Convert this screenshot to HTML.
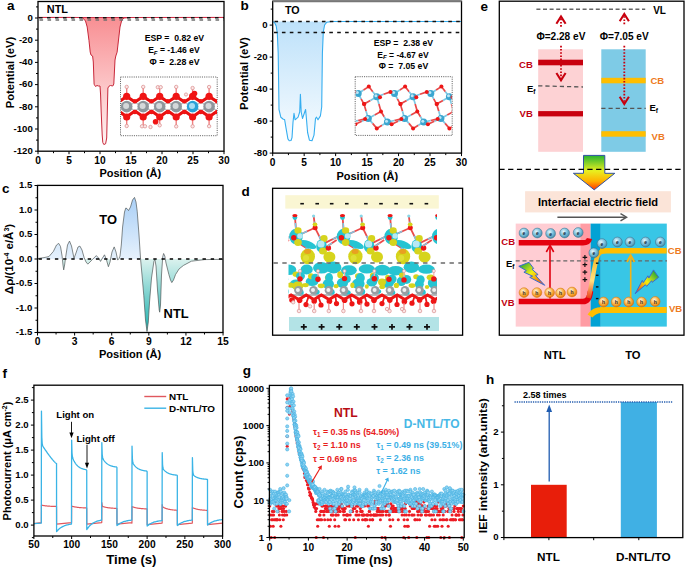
<!DOCTYPE html>
<html><head><meta charset="utf-8"><style>
html,body{margin:0;padding:0;background:#fff;}
svg{display:block;font-family:"Liberation Sans",sans-serif;}
text{font-family:"Liberation Sans",sans-serif;}
</style></head><body>
<svg width="685" height="567" viewBox="0 0 685 567">
<defs><linearGradient id="ga" x1="0" y1="18" x2="0" y2="145" gradientUnits="userSpaceOnUse"><stop offset="0" stop-color="#f88f93"/><stop offset="1" stop-color="#fff4f4"/></linearGradient><clipPath id="clipa"><rect x="121" y="78" width="96" height="57"/></clipPath><linearGradient id="gb" x1="0" y1="22" x2="0" y2="141" gradientUnits="userSpaceOnUse"><stop offset="0" stop-color="#bde1fa"/><stop offset="1" stop-color="#f8fcff"/></linearGradient><clipPath id="clipb"><rect x="355.7" y="77.2" width="96" height="57.7"/></clipPath><linearGradient id="gcp" x1="0" y1="197" x2="0" y2="259" gradientUnits="userSpaceOnUse"><stop offset="0" stop-color="#a9cff6"/><stop offset="1" stop-color="#e6f1fc"/></linearGradient><linearGradient id="gcn" x1="0" y1="259" x2="0" y2="332" gradientUnits="userSpaceOnUse"><stop offset="0" stop-color="#dcf2ee"/><stop offset="1" stop-color="#17b0ad"/></linearGradient><clipPath id="cpos"><rect x="37" y="185" width="187" height="74"/></clipPath><clipPath id="cneg"><rect x="37" y="259" width="187" height="75"/></clipPath><clipPath id="clipd"><rect x="288.5" y="212" width="148.5" height="104"/></clipPath><filter id="soft" x="-5%" y="-5%" width="110%" height="110%"><feGaussianBlur stdDeviation="0.45"/></filter><linearGradient id="garrow" x1="0" y1="155" x2="0" y2="190" gradientUnits="userSpaceOnUse"><stop offset="0" stop-color="#20b030"/><stop offset="0.45" stop-color="#e8f020"/><stop offset="0.75" stop-color="#ffb000"/><stop offset="1" stop-color="#ff3000"/></linearGradient><linearGradient id="gbend" x1="0" y1="300" x2="0" y2="252" gradientUnits="userSpaceOnUse"><stop offset="0" stop-color="#e83010"/><stop offset="0.4" stop-color="#ffe080"/><stop offset="1" stop-color="#f5b313"/></linearGradient><radialGradient id="gel" cx="0.4" cy="0.35" r="0.7"><stop offset="0" stop-color="#e8f6fb"/><stop offset="0.45" stop-color="#86c8e2"/><stop offset="1" stop-color="#3a86a6"/></radialGradient><radialGradient id="gho" cx="0.4" cy="0.35" r="0.7"><stop offset="0" stop-color="#fff6e0"/><stop offset="0.55" stop-color="#f8b040"/><stop offset="1" stop-color="#e07000"/></radialGradient><linearGradient id="gbolt1" x1="522" y1="263" x2="540" y2="283" gradientUnits="userSpaceOnUse"><stop offset="0" stop-color="#28a838"/><stop offset="0.5" stop-color="#f4f010"/><stop offset="1" stop-color="#f06010"/></linearGradient><linearGradient id="gbolt2" x1="656" y1="273" x2="638" y2="290" gradientUnits="userSpaceOnUse"><stop offset="0" stop-color="#28a838"/><stop offset="0.5" stop-color="#f4f010"/><stop offset="1" stop-color="#f06010"/></linearGradient></defs>
<rect width="685" height="567" fill="#fff"/>
<path d="M38.00,17.40 L70.00,17.40 L80.00,17.50 L82.70,17.90 L85.50,21.00 L87.20,27.00 L89.00,40.70 L90.20,52.00 L91.00,55.00 L92.60,56.00 L93.30,62.00 L94.10,84.20 L95.50,86.50 L97.00,85.50 L98.50,86.00 L100.00,86.00 L100.60,95.00 L101.20,112.00 L102.20,135.00 L102.80,142.50 L103.80,144.50 L105.60,143.80 L106.70,138.00 L107.30,112.00 L107.90,88.00 L109.00,86.20 L110.50,85.50 L112.80,86.00 L113.80,84.00 L115.00,60.00 L115.80,56.00 L117.10,52.20 L118.50,40.00 L120.00,27.00 L121.80,20.00 L124.00,18.00 L130.00,17.50 L224.00,17.40 Z" fill="url(#ga)" stroke="none" stroke-width="1" />
<path d="M38.00,17.40 L70.00,17.40 L80.00,17.50 L82.70,17.90 L85.50,21.00 L87.20,27.00 L89.00,40.70 L90.20,52.00 L91.00,55.00 L92.60,56.00 L93.30,62.00 L94.10,84.20 L95.50,86.50 L97.00,85.50 L98.50,86.00 L100.00,86.00 L100.60,95.00 L101.20,112.00 L102.20,135.00 L102.80,142.50 L103.80,144.50 L105.60,143.80 L106.70,138.00 L107.30,112.00 L107.90,88.00 L109.00,86.20 L110.50,85.50 L112.80,86.00 L113.80,84.00 L115.00,60.00 L115.80,56.00 L117.10,52.20 L118.50,40.00 L120.00,27.00 L121.80,20.00 L124.00,18.00 L130.00,17.50 L224.00,17.40" fill="none" stroke="#c8283a" stroke-width="1.0" stroke-linejoin="round"/>
<line x1="38.00" y1="17.50" x2="224.00" y2="17.50" stroke="#d03048" stroke-width="1.1" />
<line x1="39.00" y1="17.70" x2="224.00" y2="17.70" stroke="#111" stroke-width="1.5" stroke-dasharray="3.6,4.4"/>
<line x1="39.50" y1="20.00" x2="224.00" y2="20.00" stroke="#6e6e6e" stroke-width="1.6" stroke-dasharray="3.6,4.4"/>
<rect x="38.00" y="1.50" width="186.00" height="149.70" fill="none" stroke="#000" stroke-width="1.3"/>
<line x1="35.00" y1="18.00" x2="38.00" y2="18.00" stroke="#000" stroke-width="1.0" />
<text x="32.80" y="20.80" font-size="9.6" text-anchor="end" font-weight="bold" fill="#000" >0</text>
<line x1="35.00" y1="40.20" x2="38.00" y2="40.20" stroke="#000" stroke-width="1.0" />
<text x="32.80" y="43.00" font-size="9.6" text-anchor="end" font-weight="bold" fill="#000" >-20</text>
<line x1="35.00" y1="62.40" x2="38.00" y2="62.40" stroke="#000" stroke-width="1.0" />
<text x="32.80" y="65.20" font-size="9.6" text-anchor="end" font-weight="bold" fill="#000" >-40</text>
<line x1="35.00" y1="84.60" x2="38.00" y2="84.60" stroke="#000" stroke-width="1.0" />
<text x="32.80" y="87.40" font-size="9.6" text-anchor="end" font-weight="bold" fill="#000" >-60</text>
<line x1="35.00" y1="106.80" x2="38.00" y2="106.80" stroke="#000" stroke-width="1.0" />
<text x="32.80" y="109.60" font-size="9.6" text-anchor="end" font-weight="bold" fill="#000" >-80</text>
<line x1="35.00" y1="129.00" x2="38.00" y2="129.00" stroke="#000" stroke-width="1.0" />
<text x="32.80" y="131.80" font-size="9.6" text-anchor="end" font-weight="bold" fill="#000" >-100</text>
<line x1="35.00" y1="151.20" x2="38.00" y2="151.20" stroke="#000" stroke-width="1.0" />
<text x="32.80" y="154.00" font-size="9.6" text-anchor="end" font-weight="bold" fill="#000" >-120</text>
<line x1="36.00" y1="6.90" x2="38.00" y2="6.90" stroke="#000" stroke-width="1.0" />
<line x1="36.00" y1="29.10" x2="38.00" y2="29.10" stroke="#000" stroke-width="1.0" />
<line x1="36.00" y1="51.30" x2="38.00" y2="51.30" stroke="#000" stroke-width="1.0" />
<line x1="36.00" y1="73.50" x2="38.00" y2="73.50" stroke="#000" stroke-width="1.0" />
<line x1="36.00" y1="95.70" x2="38.00" y2="95.70" stroke="#000" stroke-width="1.0" />
<line x1="36.00" y1="117.90" x2="38.00" y2="117.90" stroke="#000" stroke-width="1.0" />
<line x1="36.00" y1="140.10" x2="38.00" y2="140.10" stroke="#000" stroke-width="1.0" />
<line x1="38.00" y1="151.20" x2="38.00" y2="154.20" stroke="#000" stroke-width="1.0" />
<text x="38.00" y="163.80" font-size="10.2" text-anchor="middle" font-weight="bold" fill="#000" >0</text>
<line x1="69.00" y1="151.20" x2="69.00" y2="154.20" stroke="#000" stroke-width="1.0" />
<text x="69.00" y="163.80" font-size="10.2" text-anchor="middle" font-weight="bold" fill="#000" >5</text>
<line x1="100.00" y1="151.20" x2="100.00" y2="154.20" stroke="#000" stroke-width="1.0" />
<text x="100.00" y="163.80" font-size="10.2" text-anchor="middle" font-weight="bold" fill="#000" >10</text>
<line x1="131.00" y1="151.20" x2="131.00" y2="154.20" stroke="#000" stroke-width="1.0" />
<text x="131.00" y="163.80" font-size="10.2" text-anchor="middle" font-weight="bold" fill="#000" >15</text>
<line x1="162.00" y1="151.20" x2="162.00" y2="154.20" stroke="#000" stroke-width="1.0" />
<text x="162.00" y="163.80" font-size="10.2" text-anchor="middle" font-weight="bold" fill="#000" >20</text>
<line x1="193.00" y1="151.20" x2="193.00" y2="154.20" stroke="#000" stroke-width="1.0" />
<text x="193.00" y="163.80" font-size="10.2" text-anchor="middle" font-weight="bold" fill="#000" >25</text>
<line x1="224.00" y1="151.20" x2="224.00" y2="154.20" stroke="#000" stroke-width="1.0" />
<text x="224.00" y="163.80" font-size="10.2" text-anchor="middle" font-weight="bold" fill="#000" >30</text>
<line x1="53.50" y1="151.20" x2="53.50" y2="153.20" stroke="#000" stroke-width="1.0" />
<line x1="84.50" y1="151.20" x2="84.50" y2="153.20" stroke="#000" stroke-width="1.0" />
<line x1="115.50" y1="151.20" x2="115.50" y2="153.20" stroke="#000" stroke-width="1.0" />
<line x1="146.50" y1="151.20" x2="146.50" y2="153.20" stroke="#000" stroke-width="1.0" />
<line x1="177.50" y1="151.20" x2="177.50" y2="153.20" stroke="#000" stroke-width="1.0" />
<line x1="208.50" y1="151.20" x2="208.50" y2="153.20" stroke="#000" stroke-width="1.0" />
<text x="7.10" y="10.30" font-size="13.5" text-anchor="start" font-weight="bold" fill="#000" >a</text>
<text x="46.80" y="12.70" font-size="10.9" text-anchor="start" font-weight="bold" fill="#000" >NTL</text>
<text x="174.40" y="41.00" font-size="8.5" text-anchor="middle" font-weight="bold" textLength="59.5" lengthAdjust="spacingAndGlyphs">ESP =  0.82 eV</text>
<text x="173.90" y="53.20" font-size="8.5" text-anchor="middle" font-weight="bold" textLength="51.5" lengthAdjust="spacingAndGlyphs">E<tspan font-size="6" dy="1.6" font-style="italic">F</tspan><tspan dy="-1.6"> = -1.46 eV</tspan></text>
<text x="174.50" y="65.30" font-size="8.5" text-anchor="middle" font-weight="bold" textLength="50" lengthAdjust="spacingAndGlyphs">Φ =  2.28 eV</text>
<text x="13.90" y="72.50" font-size="11.2" text-anchor="middle" font-weight="bold" transform="rotate(-90 13.90 72.50)">Potential (eV)</text>
<text x="130.30" y="177.00" font-size="11.0" text-anchor="middle" font-weight="bold" fill="#000" >Position (Å)</text>
<rect x="120.5" y="77" width="96.7" height="58.7" fill="none" stroke="#666" stroke-width="1" stroke-dasharray="1.1,1.1"/>
<g clip-path="url(#clipa)"><path d="M110.20,96.50 L118.45,102.00 L126.70,96.50 L134.95,102.00 L143.20,96.50 L151.45,102.00 L159.70,96.50 L167.95,102.00 L176.20,96.50 L184.45,102.00 L192.70,96.50 L200.95,102.00 L209.20,96.50 L217.45,102.00 L225.70,96.50 L233.95,102.00 L242.20,96.50 L250.45,102.00" fill="none" stroke="#e81010" stroke-width="3.2" stroke-linejoin="round"/><path d="M110.20,116.70 L118.45,111.00 L126.70,116.70 L134.95,111.00 L143.20,116.70 L151.45,111.00 L159.70,116.70 L167.95,111.00 L176.20,116.70 L184.45,111.00 L192.70,116.70 L200.95,111.00 L209.20,116.70 L217.45,111.00 L225.70,116.70 L233.95,111.00 L242.20,116.70 L250.45,111.00" fill="none" stroke="#e81010" stroke-width="3.2" stroke-linejoin="round"/><path d="M120,104 H218 M120,109 H218" stroke="#a8acb0" stroke-width="1.6"/><circle cx="118.5" cy="106.6" r="3.0" fill="#ffffff"/><circle cx="134.9" cy="106.6" r="3.0" fill="#ffffff"/><circle cx="151.4" cy="106.6" r="3.0" fill="#ffffff"/><circle cx="167.9" cy="106.6" r="3.0" fill="#ffffff"/><circle cx="184.4" cy="106.6" r="3.0" fill="#ffffff"/><circle cx="200.9" cy="106.6" r="3.0" fill="#ffffff"/><circle cx="217.4" cy="106.6" r="3.0" fill="#ffffff"/><circle cx="233.9" cy="106.6" r="3.0" fill="#ffffff"/><line x1="126.7" y1="87" x2="126.7" y2="96" stroke="#f08080" stroke-width="1.4"/><line x1="126.7" y1="117" x2="126.7" y2="126" stroke="#f08080" stroke-width="1.4"/><line x1="143.2" y1="87" x2="143.2" y2="96" stroke="#f08080" stroke-width="1.4"/><line x1="143.2" y1="117" x2="143.2" y2="126" stroke="#f08080" stroke-width="1.4"/><line x1="159.7" y1="87" x2="159.7" y2="96" stroke="#f08080" stroke-width="1.4"/><line x1="159.7" y1="117" x2="159.7" y2="126" stroke="#f08080" stroke-width="1.4"/><line x1="176.2" y1="87" x2="176.2" y2="96" stroke="#f08080" stroke-width="1.4"/><line x1="176.2" y1="117" x2="176.2" y2="126" stroke="#f08080" stroke-width="1.4"/><line x1="192.6" y1="87" x2="192.6" y2="96" stroke="#f08080" stroke-width="1.4"/><line x1="192.6" y1="117" x2="192.6" y2="126" stroke="#f08080" stroke-width="1.4"/><line x1="209.1" y1="87" x2="209.1" y2="96" stroke="#f08080" stroke-width="1.4"/><line x1="209.1" y1="117" x2="209.1" y2="126" stroke="#f08080" stroke-width="1.4"/><circle cx="126.7" cy="86.9" r="1.7" fill="#fbe8e8" stroke="#d88888" stroke-width="0.7"/><circle cx="143.2" cy="86.9" r="1.7" fill="#fbe8e8" stroke="#d88888" stroke-width="0.7"/><circle cx="157.8" cy="87.2" r="1.7" fill="#fbe8e8" stroke="#d88888" stroke-width="0.7"/><circle cx="160.7" cy="87.2" r="1.7" fill="#fbe8e8" stroke="#d88888" stroke-width="0.7"/><circle cx="176.2" cy="86.9" r="1.7" fill="#fbe8e8" stroke="#d88888" stroke-width="0.7"/><circle cx="192.6" cy="88" r="1.7" fill="#fbe8e8" stroke="#d88888" stroke-width="0.7"/><circle cx="209.1" cy="87" r="1.7" fill="#fbe8e8" stroke="#d88888" stroke-width="0.7"/><circle cx="126.7" cy="126" r="1.7" fill="#fbe8e8" stroke="#d88888" stroke-width="0.7"/><circle cx="142" cy="126.3" r="1.7" fill="#fbe8e8" stroke="#d88888" stroke-width="0.7"/><circle cx="145" cy="126.3" r="1.7" fill="#fbe8e8" stroke="#d88888" stroke-width="0.7"/><circle cx="150.5" cy="127" r="1.7" fill="#fbe8e8" stroke="#d88888" stroke-width="0.7"/><circle cx="159.7" cy="125.3" r="1.7" fill="#fbe8e8" stroke="#d88888" stroke-width="0.7"/><circle cx="176.2" cy="126.4" r="1.7" fill="#fbe8e8" stroke="#d88888" stroke-width="0.7"/><circle cx="192.6" cy="126.3" r="1.7" fill="#fbe8e8" stroke="#d88888" stroke-width="0.7"/><circle cx="209.1" cy="126.2" r="1.7" fill="#fbe8e8" stroke="#d88888" stroke-width="0.7"/><circle cx="126.7" cy="96.3" r="3.6" fill="#f01414"/><circle cx="126.7" cy="117.0" r="3.6" fill="#f01414"/><circle cx="134.9" cy="101.2" r="2.3" fill="#f01414"/><circle cx="134.9" cy="112.0" r="2.3" fill="#f01414"/><circle cx="143.2" cy="96.3" r="3.6" fill="#f01414"/><circle cx="143.2" cy="117.0" r="3.6" fill="#f01414"/><circle cx="151.4" cy="101.2" r="2.3" fill="#f01414"/><circle cx="151.4" cy="112.0" r="2.3" fill="#f01414"/><circle cx="159.7" cy="96.3" r="3.6" fill="#f01414"/><circle cx="159.7" cy="117.0" r="3.6" fill="#f01414"/><circle cx="167.9" cy="101.2" r="2.3" fill="#f01414"/><circle cx="167.9" cy="112.0" r="2.3" fill="#f01414"/><circle cx="176.2" cy="96.3" r="3.6" fill="#f01414"/><circle cx="176.2" cy="117.0" r="3.6" fill="#f01414"/><circle cx="184.4" cy="101.2" r="2.3" fill="#f01414"/><circle cx="184.4" cy="112.0" r="2.3" fill="#f01414"/><circle cx="192.6" cy="96.3" r="3.6" fill="#f01414"/><circle cx="192.6" cy="117.0" r="3.6" fill="#f01414"/><circle cx="200.8" cy="101.2" r="2.3" fill="#f01414"/><circle cx="200.8" cy="112.0" r="2.3" fill="#f01414"/><circle cx="209.1" cy="96.3" r="3.6" fill="#f01414"/><circle cx="209.1" cy="117.0" r="3.6" fill="#f01414"/><circle cx="217.3" cy="101.2" r="2.3" fill="#f01414"/><circle cx="217.3" cy="112.0" r="2.3" fill="#f01414"/><circle cx="155.6" cy="121.8" r="2.8" fill="#f01414"/><circle cx="194.5" cy="93.5" r="2.8" fill="#f01414"/><circle cx="186" cy="94.5" r="1.6" fill="#fbe8e8" stroke="#d88888" stroke-width="0.7"/><circle cx="126.7" cy="106.6" r="5.8" fill="#8f969c"/><circle cx="126.10000000000001" cy="105.9" r="3.0" fill="#e6e8ea" opacity="0.8"/><circle cx="143.2" cy="106.6" r="5.8" fill="#8f969c"/><circle cx="142.6" cy="105.9" r="3.0" fill="#e6e8ea" opacity="0.8"/><circle cx="159.7" cy="106.6" r="5.8" fill="#8f969c"/><circle cx="159.1" cy="105.9" r="3.0" fill="#e6e8ea" opacity="0.8"/><circle cx="176.2" cy="106.6" r="5.8" fill="#8f969c"/><circle cx="175.6" cy="105.9" r="3.0" fill="#e6e8ea" opacity="0.8"/><circle cx="192.6" cy="106.6" r="5.8" fill="#2aa2d8"/><circle cx="192.0" cy="105.9" r="3.0" fill="#c8ecfb" opacity="0.8"/><circle cx="209.1" cy="106.6" r="5.8" fill="#8f969c"/><circle cx="208.5" cy="105.9" r="3.0" fill="#e6e8ea" opacity="0.8"/></g>
<path d="M272.70,21.50 L274.50,22.60 L276.20,26.00 L277.30,33.00 L278.20,53.30 L279.00,109.50 L280.80,117.20 L283.30,119.20 L284.60,119.50 L285.90,127.40 L287.90,138.90 L289.20,140.70 L291.00,140.50 L292.00,137.60 L293.00,122.30 L294.00,113.40 L295.10,119.80 L298.10,117.20 L299.70,112.00 L300.40,94.20 L301.20,112.00 L302.50,118.50 L305.60,109.50 L306.30,117.20 L307.60,132.50 L309.40,140.20 L312.00,140.70 L314.00,135.10 L315.50,118.50 L316.50,117.20 L318.00,119.80 L320.40,115.90 L321.70,107.00 L322.40,53.30 L323.30,32.00 L324.60,25.00 L326.80,22.20 L332.00,21.50 L461.50,21.50 Z" fill="url(#gb)" stroke="none" stroke-width="1" />
<path d="M272.70,21.50 L274.50,22.60 L276.20,26.00 L277.30,33.00 L278.20,53.30 L279.00,109.50 L280.80,117.20 L283.30,119.20 L284.60,119.50 L285.90,127.40 L287.90,138.90 L289.20,140.70 L291.00,140.50 L292.00,137.60 L293.00,122.30 L294.00,113.40 L295.10,119.80 L298.10,117.20 L299.70,112.00 L300.40,94.20 L301.20,112.00 L302.50,118.50 L305.60,109.50 L306.30,117.20 L307.60,132.50 L309.40,140.20 L312.00,140.70 L314.00,135.10 L315.50,118.50 L316.50,117.20 L318.00,119.80 L320.40,115.90 L321.70,107.00 L322.40,53.30 L323.30,32.00 L324.60,25.00 L326.80,22.20 L332.00,21.50 L461.50,21.50" fill="none" stroke="#36aef0" stroke-width="1.1" stroke-linejoin="round"/>
<line x1="274.50" y1="21.50" x2="461.50" y2="21.50" stroke="#111" stroke-width="1.4" stroke-dasharray="3.6,4.3"/>
<line x1="274.00" y1="32.50" x2="461.50" y2="32.50" stroke="#111" stroke-width="1.4" stroke-dasharray="3.6,4.3"/>
<rect x="272.70" y="1.30" width="188.80" height="151.80" fill="none" stroke="#000" stroke-width="1.3"/>
<line x1="272.70" y1="1.30" x2="461.50" y2="1.30" stroke="#777" stroke-width="2.0" />
<line x1="269.70" y1="25.10" x2="272.70" y2="25.10" stroke="#000" stroke-width="1.0" />
<text x="267.50" y="27.90" font-size="9.6" text-anchor="end" font-weight="bold" fill="#000" >0</text>
<line x1="269.70" y1="57.10" x2="272.70" y2="57.10" stroke="#000" stroke-width="1.0" />
<text x="267.50" y="59.90" font-size="9.6" text-anchor="end" font-weight="bold" fill="#000" >-20</text>
<line x1="269.70" y1="89.10" x2="272.70" y2="89.10" stroke="#000" stroke-width="1.0" />
<text x="267.50" y="91.90" font-size="9.6" text-anchor="end" font-weight="bold" fill="#000" >-40</text>
<line x1="269.70" y1="121.10" x2="272.70" y2="121.10" stroke="#000" stroke-width="1.0" />
<text x="267.50" y="123.90" font-size="9.6" text-anchor="end" font-weight="bold" fill="#000" >-60</text>
<line x1="269.70" y1="153.10" x2="272.70" y2="153.10" stroke="#000" stroke-width="1.0" />
<text x="267.50" y="155.90" font-size="9.6" text-anchor="end" font-weight="bold" fill="#000" >-80</text>
<line x1="270.70" y1="9.10" x2="272.70" y2="9.10" stroke="#000" stroke-width="1.0" />
<line x1="270.70" y1="41.10" x2="272.70" y2="41.10" stroke="#000" stroke-width="1.0" />
<line x1="270.70" y1="73.10" x2="272.70" y2="73.10" stroke="#000" stroke-width="1.0" />
<line x1="270.70" y1="105.10" x2="272.70" y2="105.10" stroke="#000" stroke-width="1.0" />
<line x1="270.70" y1="137.10" x2="272.70" y2="137.10" stroke="#000" stroke-width="1.0" />
<line x1="272.70" y1="153.10" x2="272.70" y2="156.10" stroke="#000" stroke-width="1.0" />
<text x="272.70" y="165.70" font-size="10.2" text-anchor="middle" font-weight="bold" fill="#000" >0</text>
<line x1="304.16" y1="153.10" x2="304.16" y2="156.10" stroke="#000" stroke-width="1.0" />
<text x="304.16" y="165.70" font-size="10.2" text-anchor="middle" font-weight="bold" fill="#000" >5</text>
<line x1="335.63" y1="153.10" x2="335.63" y2="156.10" stroke="#000" stroke-width="1.0" />
<text x="335.63" y="165.70" font-size="10.2" text-anchor="middle" font-weight="bold" fill="#000" >10</text>
<line x1="367.09" y1="153.10" x2="367.09" y2="156.10" stroke="#000" stroke-width="1.0" />
<text x="367.09" y="165.70" font-size="10.2" text-anchor="middle" font-weight="bold" fill="#000" >15</text>
<line x1="398.56" y1="153.10" x2="398.56" y2="156.10" stroke="#000" stroke-width="1.0" />
<text x="398.56" y="165.70" font-size="10.2" text-anchor="middle" font-weight="bold" fill="#000" >20</text>
<line x1="430.02" y1="153.10" x2="430.02" y2="156.10" stroke="#000" stroke-width="1.0" />
<text x="430.02" y="165.70" font-size="10.2" text-anchor="middle" font-weight="bold" fill="#000" >25</text>
<line x1="461.49" y1="153.10" x2="461.49" y2="156.10" stroke="#000" stroke-width="1.0" />
<text x="461.49" y="165.70" font-size="10.2" text-anchor="middle" font-weight="bold" fill="#000" >30</text>
<line x1="288.43" y1="153.10" x2="288.43" y2="155.10" stroke="#000" stroke-width="1.0" />
<line x1="319.90" y1="153.10" x2="319.90" y2="155.10" stroke="#000" stroke-width="1.0" />
<line x1="351.36" y1="153.10" x2="351.36" y2="155.10" stroke="#000" stroke-width="1.0" />
<line x1="382.83" y1="153.10" x2="382.83" y2="155.10" stroke="#000" stroke-width="1.0" />
<line x1="414.29" y1="153.10" x2="414.29" y2="155.10" stroke="#000" stroke-width="1.0" />
<line x1="445.76" y1="153.10" x2="445.76" y2="155.10" stroke="#000" stroke-width="1.0" />
<text x="240.50" y="9.90" font-size="13.5" text-anchor="start" font-weight="bold" fill="#000" >b</text>
<text x="285.00" y="14.00" font-size="10.7" text-anchor="start" font-weight="bold" fill="#000" >TO</text>
<text x="403.40" y="45.50" font-size="8.4" text-anchor="middle" font-weight="bold" textLength="59.5" lengthAdjust="spacingAndGlyphs">ESP =  2.38 eV</text>
<text x="403.00" y="57.80" font-size="8.4" text-anchor="middle" font-weight="bold" textLength="51.3" lengthAdjust="spacingAndGlyphs">E<tspan font-size="6" dy="1.6" font-style="italic">F</tspan><tspan dy="-1.6"> = -4.67 eV</tspan></text>
<text x="403.50" y="69.30" font-size="8.4" text-anchor="middle" font-weight="bold" textLength="49.6" lengthAdjust="spacingAndGlyphs">Φ =  7.05 eV</text>
<text x="248.50" y="73.60" font-size="11.4" text-anchor="middle" font-weight="bold" transform="rotate(-90 248.50 73.60)">Potential (eV)</text>
<text x="367.30" y="179.70" font-size="11.0" text-anchor="middle" font-weight="bold" fill="#000" >Position (Å)</text>
<rect x="355.2" y="76.7" width="97" height="58.7" fill="none" stroke="#666" stroke-width="1" stroke-dasharray="1.1,1.1"/>
<g clip-path="url(#clipb)"><line x1="321.9" y1="93.5" x2="327.2" y2="90.0" stroke="#7cc8e4" stroke-width="1.7"/><line x1="327.2" y1="90.0" x2="332.5" y2="86.6" stroke="#e84848" stroke-width="1.7"/><line x1="332.5" y1="86.6" x2="336.5" y2="91.7" stroke="#e84848" stroke-width="1.7"/><line x1="336.5" y1="91.7" x2="340.5" y2="96.7" stroke="#7cc8e4" stroke-width="1.7"/><line x1="340.5" y1="96.7" x2="347.4" y2="94.3" stroke="#7cc8e4" stroke-width="1.7"/><line x1="347.4" y1="94.3" x2="354.2" y2="91.9" stroke="#e84848" stroke-width="1.7"/><line x1="321.9" y1="93.5" x2="324.8" y2="98.8" stroke="#7cc8e4" stroke-width="1.7"/><line x1="324.8" y1="98.8" x2="327.7" y2="104.1" stroke="#e84848" stroke-width="1.7"/><line x1="327.7" y1="104.1" x2="334.1" y2="100.4" stroke="#e84848" stroke-width="1.7"/><line x1="334.1" y1="100.4" x2="340.5" y2="96.7" stroke="#7cc8e4" stroke-width="1.7"/><line x1="327.7" y1="104.1" x2="329.9" y2="111.2" stroke="#e84848" stroke-width="1.7"/><line x1="329.9" y1="111.2" x2="332.0" y2="118.4" stroke="#7cc8e4" stroke-width="1.7"/><line x1="340.5" y1="96.7" x2="342.6" y2="104.1" stroke="#7cc8e4" stroke-width="1.7"/><line x1="342.6" y1="104.1" x2="344.7" y2="111.5" stroke="#e84848" stroke-width="1.7"/><line x1="344.7" y1="111.5" x2="338.4" y2="115.0" stroke="#e84848" stroke-width="1.7"/><line x1="338.4" y1="115.0" x2="332.0" y2="118.4" stroke="#7cc8e4" stroke-width="1.7"/><line x1="344.7" y1="111.5" x2="347.9" y2="116.8" stroke="#e84848" stroke-width="1.7"/><line x1="347.9" y1="116.8" x2="351.1" y2="122.1" stroke="#7cc8e4" stroke-width="1.7"/><line x1="332.0" y1="118.4" x2="336.2" y2="123.4" stroke="#7cc8e4" stroke-width="1.7"/><line x1="336.2" y1="123.4" x2="340.5" y2="128.4" stroke="#e84848" stroke-width="1.7"/><line x1="340.5" y1="128.4" x2="345.8" y2="125.2" stroke="#e84848" stroke-width="1.7"/><line x1="345.8" y1="125.2" x2="351.1" y2="122.1" stroke="#7cc8e4" stroke-width="1.7"/><line x1="351.1" y1="122.1" x2="353.2" y2="123.2" stroke="#7cc8e4" stroke-width="1.7"/><line x1="353.2" y1="123.2" x2="355.3" y2="124.2" stroke="#e84848" stroke-width="1.7"/><line x1="355.3" y1="124.2" x2="361.8" y2="121.3" stroke="#e84848" stroke-width="1.7"/><line x1="361.8" y1="121.3" x2="368.3" y2="118.4" stroke="#7cc8e4" stroke-width="1.7"/><line x1="332.0" y1="118.4" x2="330.4" y2="118.7" stroke="#7cc8e4" stroke-width="1.7"/><line x1="330.4" y1="118.7" x2="328.8" y2="118.9" stroke="#e84848" stroke-width="1.7"/><line x1="328.8" y1="118.9" x2="321.8" y2="120.5" stroke="#e84848" stroke-width="1.7"/><line x1="321.8" y1="120.5" x2="314.8" y2="122.1" stroke="#7cc8e4" stroke-width="1.7"/><line x1="358.2" y1="93.5" x2="363.5" y2="90.0" stroke="#7cc8e4" stroke-width="1.7"/><line x1="363.5" y1="90.0" x2="368.8" y2="86.6" stroke="#e84848" stroke-width="1.7"/><line x1="368.8" y1="86.6" x2="372.8" y2="91.7" stroke="#e84848" stroke-width="1.7"/><line x1="372.8" y1="91.7" x2="376.8" y2="96.7" stroke="#7cc8e4" stroke-width="1.7"/><line x1="376.8" y1="96.7" x2="383.6" y2="94.3" stroke="#7cc8e4" stroke-width="1.7"/><line x1="383.6" y1="94.3" x2="390.5" y2="91.9" stroke="#e84848" stroke-width="1.7"/><line x1="358.2" y1="93.5" x2="361.1" y2="98.8" stroke="#7cc8e4" stroke-width="1.7"/><line x1="361.1" y1="98.8" x2="364.0" y2="104.1" stroke="#e84848" stroke-width="1.7"/><line x1="364.0" y1="104.1" x2="370.4" y2="100.4" stroke="#e84848" stroke-width="1.7"/><line x1="370.4" y1="100.4" x2="376.8" y2="96.7" stroke="#7cc8e4" stroke-width="1.7"/><line x1="364.0" y1="104.1" x2="366.1" y2="111.2" stroke="#e84848" stroke-width="1.7"/><line x1="366.1" y1="111.2" x2="368.3" y2="118.4" stroke="#7cc8e4" stroke-width="1.7"/><line x1="376.8" y1="96.7" x2="378.9" y2="104.1" stroke="#7cc8e4" stroke-width="1.7"/><line x1="378.9" y1="104.1" x2="381.0" y2="111.5" stroke="#e84848" stroke-width="1.7"/><line x1="381.0" y1="111.5" x2="374.6" y2="115.0" stroke="#e84848" stroke-width="1.7"/><line x1="374.6" y1="115.0" x2="368.3" y2="118.4" stroke="#7cc8e4" stroke-width="1.7"/><line x1="381.0" y1="111.5" x2="384.2" y2="116.8" stroke="#e84848" stroke-width="1.7"/><line x1="384.2" y1="116.8" x2="387.4" y2="122.1" stroke="#7cc8e4" stroke-width="1.7"/><line x1="368.3" y1="118.4" x2="372.6" y2="123.4" stroke="#7cc8e4" stroke-width="1.7"/><line x1="372.6" y1="123.4" x2="376.8" y2="128.4" stroke="#e84848" stroke-width="1.7"/><line x1="376.8" y1="128.4" x2="382.1" y2="125.2" stroke="#e84848" stroke-width="1.7"/><line x1="382.1" y1="125.2" x2="387.4" y2="122.1" stroke="#7cc8e4" stroke-width="1.7"/><line x1="387.4" y1="122.1" x2="389.5" y2="123.2" stroke="#7cc8e4" stroke-width="1.7"/><line x1="389.5" y1="123.2" x2="391.6" y2="124.2" stroke="#e84848" stroke-width="1.7"/><line x1="391.6" y1="124.2" x2="398.1" y2="121.3" stroke="#e84848" stroke-width="1.7"/><line x1="398.1" y1="121.3" x2="404.6" y2="118.4" stroke="#7cc8e4" stroke-width="1.7"/><line x1="368.3" y1="118.4" x2="366.7" y2="118.7" stroke="#7cc8e4" stroke-width="1.7"/><line x1="366.7" y1="118.7" x2="365.1" y2="118.9" stroke="#e84848" stroke-width="1.7"/><line x1="365.1" y1="118.9" x2="358.1" y2="120.5" stroke="#e84848" stroke-width="1.7"/><line x1="358.1" y1="120.5" x2="351.1" y2="122.1" stroke="#7cc8e4" stroke-width="1.7"/><line x1="394.5" y1="93.5" x2="399.8" y2="90.0" stroke="#7cc8e4" stroke-width="1.7"/><line x1="399.8" y1="90.0" x2="405.1" y2="86.6" stroke="#e84848" stroke-width="1.7"/><line x1="405.1" y1="86.6" x2="409.1" y2="91.7" stroke="#e84848" stroke-width="1.7"/><line x1="409.1" y1="91.7" x2="413.1" y2="96.7" stroke="#7cc8e4" stroke-width="1.7"/><line x1="413.1" y1="96.7" x2="420.0" y2="94.3" stroke="#7cc8e4" stroke-width="1.7"/><line x1="420.0" y1="94.3" x2="426.8" y2="91.9" stroke="#e84848" stroke-width="1.7"/><line x1="394.5" y1="93.5" x2="397.4" y2="98.8" stroke="#7cc8e4" stroke-width="1.7"/><line x1="397.4" y1="98.8" x2="400.3" y2="104.1" stroke="#e84848" stroke-width="1.7"/><line x1="400.3" y1="104.1" x2="406.7" y2="100.4" stroke="#e84848" stroke-width="1.7"/><line x1="406.7" y1="100.4" x2="413.1" y2="96.7" stroke="#7cc8e4" stroke-width="1.7"/><line x1="400.3" y1="104.1" x2="402.5" y2="111.2" stroke="#e84848" stroke-width="1.7"/><line x1="402.5" y1="111.2" x2="404.6" y2="118.4" stroke="#7cc8e4" stroke-width="1.7"/><line x1="413.1" y1="96.7" x2="415.2" y2="104.1" stroke="#7cc8e4" stroke-width="1.7"/><line x1="415.2" y1="104.1" x2="417.3" y2="111.5" stroke="#e84848" stroke-width="1.7"/><line x1="417.3" y1="111.5" x2="411.0" y2="115.0" stroke="#e84848" stroke-width="1.7"/><line x1="411.0" y1="115.0" x2="404.6" y2="118.4" stroke="#7cc8e4" stroke-width="1.7"/><line x1="417.3" y1="111.5" x2="420.5" y2="116.8" stroke="#e84848" stroke-width="1.7"/><line x1="420.5" y1="116.8" x2="423.7" y2="122.1" stroke="#7cc8e4" stroke-width="1.7"/><line x1="404.6" y1="118.4" x2="408.9" y2="123.4" stroke="#7cc8e4" stroke-width="1.7"/><line x1="408.9" y1="123.4" x2="413.1" y2="128.4" stroke="#e84848" stroke-width="1.7"/><line x1="413.1" y1="128.4" x2="418.4" y2="125.2" stroke="#e84848" stroke-width="1.7"/><line x1="418.4" y1="125.2" x2="423.7" y2="122.1" stroke="#7cc8e4" stroke-width="1.7"/><line x1="423.7" y1="122.1" x2="425.8" y2="123.2" stroke="#7cc8e4" stroke-width="1.7"/><line x1="425.8" y1="123.2" x2="427.9" y2="124.2" stroke="#e84848" stroke-width="1.7"/><line x1="427.9" y1="124.2" x2="434.4" y2="121.3" stroke="#e84848" stroke-width="1.7"/><line x1="434.4" y1="121.3" x2="440.9" y2="118.4" stroke="#7cc8e4" stroke-width="1.7"/><line x1="404.6" y1="118.4" x2="403.0" y2="118.7" stroke="#7cc8e4" stroke-width="1.7"/><line x1="403.0" y1="118.7" x2="401.4" y2="118.9" stroke="#e84848" stroke-width="1.7"/><line x1="401.4" y1="118.9" x2="394.4" y2="120.5" stroke="#e84848" stroke-width="1.7"/><line x1="394.4" y1="120.5" x2="387.4" y2="122.1" stroke="#7cc8e4" stroke-width="1.7"/><line x1="430.8" y1="93.5" x2="436.1" y2="90.0" stroke="#7cc8e4" stroke-width="1.7"/><line x1="436.1" y1="90.0" x2="441.4" y2="86.6" stroke="#e84848" stroke-width="1.7"/><line x1="441.4" y1="86.6" x2="445.4" y2="91.7" stroke="#e84848" stroke-width="1.7"/><line x1="445.4" y1="91.7" x2="449.4" y2="96.7" stroke="#7cc8e4" stroke-width="1.7"/><line x1="449.4" y1="96.7" x2="456.2" y2="94.3" stroke="#7cc8e4" stroke-width="1.7"/><line x1="456.2" y1="94.3" x2="463.1" y2="91.9" stroke="#e84848" stroke-width="1.7"/><line x1="430.8" y1="93.5" x2="433.7" y2="98.8" stroke="#7cc8e4" stroke-width="1.7"/><line x1="433.7" y1="98.8" x2="436.6" y2="104.1" stroke="#e84848" stroke-width="1.7"/><line x1="436.6" y1="104.1" x2="443.0" y2="100.4" stroke="#e84848" stroke-width="1.7"/><line x1="443.0" y1="100.4" x2="449.4" y2="96.7" stroke="#7cc8e4" stroke-width="1.7"/><line x1="436.6" y1="104.1" x2="438.8" y2="111.2" stroke="#e84848" stroke-width="1.7"/><line x1="438.8" y1="111.2" x2="440.9" y2="118.4" stroke="#7cc8e4" stroke-width="1.7"/><line x1="449.4" y1="96.7" x2="451.5" y2="104.1" stroke="#7cc8e4" stroke-width="1.7"/><line x1="451.5" y1="104.1" x2="453.6" y2="111.5" stroke="#e84848" stroke-width="1.7"/><line x1="453.6" y1="111.5" x2="447.2" y2="115.0" stroke="#e84848" stroke-width="1.7"/><line x1="447.2" y1="115.0" x2="440.9" y2="118.4" stroke="#7cc8e4" stroke-width="1.7"/><line x1="453.6" y1="111.5" x2="456.8" y2="116.8" stroke="#e84848" stroke-width="1.7"/><line x1="456.8" y1="116.8" x2="460.0" y2="122.1" stroke="#7cc8e4" stroke-width="1.7"/><line x1="440.9" y1="118.4" x2="445.1" y2="123.4" stroke="#7cc8e4" stroke-width="1.7"/><line x1="445.1" y1="123.4" x2="449.4" y2="128.4" stroke="#e84848" stroke-width="1.7"/><line x1="449.4" y1="128.4" x2="454.7" y2="125.2" stroke="#e84848" stroke-width="1.7"/><line x1="454.7" y1="125.2" x2="460.0" y2="122.1" stroke="#7cc8e4" stroke-width="1.7"/><line x1="460.0" y1="122.1" x2="462.1" y2="123.2" stroke="#7cc8e4" stroke-width="1.7"/><line x1="462.1" y1="123.2" x2="464.2" y2="124.2" stroke="#e84848" stroke-width="1.7"/><line x1="464.2" y1="124.2" x2="470.7" y2="121.3" stroke="#e84848" stroke-width="1.7"/><line x1="470.7" y1="121.3" x2="477.2" y2="118.4" stroke="#7cc8e4" stroke-width="1.7"/><line x1="440.9" y1="118.4" x2="439.3" y2="118.7" stroke="#7cc8e4" stroke-width="1.7"/><line x1="439.3" y1="118.7" x2="437.7" y2="118.9" stroke="#e84848" stroke-width="1.7"/><line x1="437.7" y1="118.9" x2="430.7" y2="120.5" stroke="#e84848" stroke-width="1.7"/><line x1="430.7" y1="120.5" x2="423.7" y2="122.1" stroke="#7cc8e4" stroke-width="1.7"/><line x1="467.1" y1="93.5" x2="472.4" y2="90.0" stroke="#7cc8e4" stroke-width="1.7"/><line x1="472.4" y1="90.0" x2="477.7" y2="86.6" stroke="#e84848" stroke-width="1.7"/><line x1="477.7" y1="86.6" x2="481.7" y2="91.7" stroke="#e84848" stroke-width="1.7"/><line x1="481.7" y1="91.7" x2="485.7" y2="96.7" stroke="#7cc8e4" stroke-width="1.7"/><line x1="485.7" y1="96.7" x2="492.5" y2="94.3" stroke="#7cc8e4" stroke-width="1.7"/><line x1="492.5" y1="94.3" x2="499.4" y2="91.9" stroke="#e84848" stroke-width="1.7"/><line x1="467.1" y1="93.5" x2="470.0" y2="98.8" stroke="#7cc8e4" stroke-width="1.7"/><line x1="470.0" y1="98.8" x2="472.9" y2="104.1" stroke="#e84848" stroke-width="1.7"/><line x1="472.9" y1="104.1" x2="479.3" y2="100.4" stroke="#e84848" stroke-width="1.7"/><line x1="479.3" y1="100.4" x2="485.7" y2="96.7" stroke="#7cc8e4" stroke-width="1.7"/><line x1="472.9" y1="104.1" x2="475.0" y2="111.2" stroke="#e84848" stroke-width="1.7"/><line x1="475.0" y1="111.2" x2="477.2" y2="118.4" stroke="#7cc8e4" stroke-width="1.7"/><line x1="485.7" y1="96.7" x2="487.8" y2="104.1" stroke="#7cc8e4" stroke-width="1.7"/><line x1="487.8" y1="104.1" x2="489.9" y2="111.5" stroke="#e84848" stroke-width="1.7"/><line x1="489.9" y1="111.5" x2="483.5" y2="115.0" stroke="#e84848" stroke-width="1.7"/><line x1="483.5" y1="115.0" x2="477.2" y2="118.4" stroke="#7cc8e4" stroke-width="1.7"/><line x1="489.9" y1="111.5" x2="493.1" y2="116.8" stroke="#e84848" stroke-width="1.7"/><line x1="493.1" y1="116.8" x2="496.3" y2="122.1" stroke="#7cc8e4" stroke-width="1.7"/><line x1="477.2" y1="118.4" x2="481.4" y2="123.4" stroke="#7cc8e4" stroke-width="1.7"/><line x1="481.4" y1="123.4" x2="485.7" y2="128.4" stroke="#e84848" stroke-width="1.7"/><line x1="485.7" y1="128.4" x2="491.0" y2="125.2" stroke="#e84848" stroke-width="1.7"/><line x1="491.0" y1="125.2" x2="496.3" y2="122.1" stroke="#7cc8e4" stroke-width="1.7"/><line x1="496.3" y1="122.1" x2="498.4" y2="123.2" stroke="#7cc8e4" stroke-width="1.7"/><line x1="498.4" y1="123.2" x2="500.5" y2="124.2" stroke="#e84848" stroke-width="1.7"/><line x1="500.5" y1="124.2" x2="507.0" y2="121.3" stroke="#e84848" stroke-width="1.7"/><line x1="507.0" y1="121.3" x2="513.5" y2="118.4" stroke="#7cc8e4" stroke-width="1.7"/><line x1="477.2" y1="118.4" x2="475.6" y2="118.7" stroke="#7cc8e4" stroke-width="1.7"/><line x1="475.6" y1="118.7" x2="474.0" y2="118.9" stroke="#e84848" stroke-width="1.7"/><line x1="474.0" y1="118.9" x2="467.0" y2="120.5" stroke="#e84848" stroke-width="1.7"/><line x1="467.0" y1="120.5" x2="460.0" y2="122.1" stroke="#7cc8e4" stroke-width="1.7"/><circle cx="321.9" cy="93.5" r="3.5" fill="#3ba6d0"/><circle cx="321.0" cy="92.6" r="1.5" fill="#bde6f6"/><circle cx="340.5" cy="96.7" r="3.5" fill="#3ba6d0"/><circle cx="339.6" cy="95.8" r="1.5" fill="#bde6f6"/><circle cx="332.0" cy="118.4" r="3.5" fill="#3ba6d0"/><circle cx="331.1" cy="117.5" r="1.5" fill="#bde6f6"/><circle cx="351.1" cy="122.1" r="3.5" fill="#3ba6d0"/><circle cx="350.2" cy="121.19999999999999" r="1.5" fill="#bde6f6"/><circle cx="332.5" cy="86.6" r="2.0" fill="#ee1616"/><circle cx="343.7" cy="97.2" r="2.0" fill="#ee1616"/><circle cx="317.9" cy="91.9" r="2.0" fill="#ee1616"/><circle cx="327.7" cy="104.1" r="2.0" fill="#ee1616"/><circle cx="344.7" cy="111.5" r="2.0" fill="#ee1616"/><circle cx="328.8" cy="118.9" r="2.0" fill="#ee1616"/><circle cx="340.5" cy="128.4" r="2.0" fill="#ee1616"/><circle cx="319.0" cy="124.2" r="2.0" fill="#ee1616"/><circle cx="328.0" cy="104.1" r="2.0" fill="#ee1616"/><circle cx="358.2" cy="93.5" r="3.5" fill="#3ba6d0"/><circle cx="357.3" cy="92.6" r="1.5" fill="#bde6f6"/><circle cx="376.8" cy="96.7" r="3.5" fill="#3ba6d0"/><circle cx="375.9" cy="95.8" r="1.5" fill="#bde6f6"/><circle cx="368.3" cy="118.4" r="3.5" fill="#3ba6d0"/><circle cx="367.4" cy="117.5" r="1.5" fill="#bde6f6"/><circle cx="387.4" cy="122.1" r="3.5" fill="#3ba6d0"/><circle cx="386.5" cy="121.19999999999999" r="1.5" fill="#bde6f6"/><circle cx="368.8" cy="86.6" r="2.0" fill="#ee1616"/><circle cx="380.0" cy="97.2" r="2.0" fill="#ee1616"/><circle cx="354.2" cy="91.9" r="2.0" fill="#ee1616"/><circle cx="364.0" cy="104.1" r="2.0" fill="#ee1616"/><circle cx="381.0" cy="111.5" r="2.0" fill="#ee1616"/><circle cx="365.1" cy="118.9" r="2.0" fill="#ee1616"/><circle cx="376.8" cy="128.4" r="2.0" fill="#ee1616"/><circle cx="355.3" cy="124.2" r="2.0" fill="#ee1616"/><circle cx="364.3" cy="104.1" r="2.0" fill="#ee1616"/><circle cx="394.5" cy="93.5" r="3.5" fill="#3ba6d0"/><circle cx="393.6" cy="92.6" r="1.5" fill="#bde6f6"/><circle cx="413.1" cy="96.7" r="3.5" fill="#3ba6d0"/><circle cx="412.2" cy="95.8" r="1.5" fill="#bde6f6"/><circle cx="404.6" cy="118.4" r="3.5" fill="#3ba6d0"/><circle cx="403.7" cy="117.5" r="1.5" fill="#bde6f6"/><circle cx="423.7" cy="122.1" r="3.5" fill="#3ba6d0"/><circle cx="422.8" cy="121.19999999999999" r="1.5" fill="#bde6f6"/><circle cx="405.1" cy="86.6" r="2.0" fill="#ee1616"/><circle cx="416.3" cy="97.2" r="2.0" fill="#ee1616"/><circle cx="390.5" cy="91.9" r="2.0" fill="#ee1616"/><circle cx="400.3" cy="104.1" r="2.0" fill="#ee1616"/><circle cx="417.3" cy="111.5" r="2.0" fill="#ee1616"/><circle cx="401.4" cy="118.9" r="2.0" fill="#ee1616"/><circle cx="413.1" cy="128.4" r="2.0" fill="#ee1616"/><circle cx="391.6" cy="124.2" r="2.0" fill="#ee1616"/><circle cx="400.6" cy="104.1" r="2.0" fill="#ee1616"/><circle cx="430.8" cy="93.5" r="3.5" fill="#3ba6d0"/><circle cx="429.9" cy="92.6" r="1.5" fill="#bde6f6"/><circle cx="449.4" cy="96.7" r="3.5" fill="#3ba6d0"/><circle cx="448.5" cy="95.8" r="1.5" fill="#bde6f6"/><circle cx="440.9" cy="118.4" r="3.5" fill="#3ba6d0"/><circle cx="440.0" cy="117.5" r="1.5" fill="#bde6f6"/><circle cx="460.0" cy="122.1" r="3.5" fill="#3ba6d0"/><circle cx="459.1" cy="121.19999999999999" r="1.5" fill="#bde6f6"/><circle cx="441.4" cy="86.6" r="2.0" fill="#ee1616"/><circle cx="452.6" cy="97.2" r="2.0" fill="#ee1616"/><circle cx="426.8" cy="91.9" r="2.0" fill="#ee1616"/><circle cx="436.6" cy="104.1" r="2.0" fill="#ee1616"/><circle cx="453.6" cy="111.5" r="2.0" fill="#ee1616"/><circle cx="437.7" cy="118.9" r="2.0" fill="#ee1616"/><circle cx="449.4" cy="128.4" r="2.0" fill="#ee1616"/><circle cx="427.9" cy="124.2" r="2.0" fill="#ee1616"/><circle cx="436.9" cy="104.1" r="2.0" fill="#ee1616"/><circle cx="467.1" cy="93.5" r="3.5" fill="#3ba6d0"/><circle cx="466.2" cy="92.6" r="1.5" fill="#bde6f6"/><circle cx="485.7" cy="96.7" r="3.5" fill="#3ba6d0"/><circle cx="484.8" cy="95.8" r="1.5" fill="#bde6f6"/><circle cx="477.2" cy="118.4" r="3.5" fill="#3ba6d0"/><circle cx="476.3" cy="117.5" r="1.5" fill="#bde6f6"/><circle cx="496.3" cy="122.1" r="3.5" fill="#3ba6d0"/><circle cx="495.4" cy="121.19999999999999" r="1.5" fill="#bde6f6"/><circle cx="477.7" cy="86.6" r="2.0" fill="#ee1616"/><circle cx="488.9" cy="97.2" r="2.0" fill="#ee1616"/><circle cx="463.1" cy="91.9" r="2.0" fill="#ee1616"/><circle cx="472.9" cy="104.1" r="2.0" fill="#ee1616"/><circle cx="489.9" cy="111.5" r="2.0" fill="#ee1616"/><circle cx="474.0" cy="118.9" r="2.0" fill="#ee1616"/><circle cx="485.7" cy="128.4" r="2.0" fill="#ee1616"/><circle cx="464.2" cy="124.2" r="2.0" fill="#ee1616"/><circle cx="473.2" cy="104.1" r="2.0" fill="#ee1616"/></g>
<path d="M37.50,258.60 L44.00,257.60 L48.90,256.60 L53.40,251.40 L56.50,245.00 L58.70,243.40 L60.50,246.50 L62.10,256.10 L63.00,265.00 L63.70,269.90 L64.60,265.00 L65.60,257.50 L67.50,245.00 L69.50,241.10 L71.50,246.00 L74.00,258.30 L76.00,253.00 L78.00,247.00 L79.90,246.10 L82.00,250.00 L84.10,257.50 L86.00,262.00 L87.80,264.10 L90.00,262.00 L92.60,259.30 L96.30,255.60 L98.50,258.00 L100.50,261.40 L102.50,258.00 L104.50,254.80 L106.50,260.00 L108.40,266.70 L110.00,262.00 L112.00,252.00 L114.20,246.90 L116.00,252.00 L117.70,260.10 L119.00,258.50 L120.00,256.10 L121.30,245.00 L122.60,227.00 L124.50,212.00 L125.80,208.00 L127.00,208.60 L128.50,210.60 L130.50,207.00 L132.50,200.00 L134.50,197.40 L136.00,202.00 L137.20,211.20 L139.00,235.00 L140.60,259.30 L142.20,277.00 L143.80,295.80 L145.50,320.00 L147.00,331.50 L148.30,322.00 L149.60,301.00 L151.50,278.00 L153.90,261.40 L154.90,259.30 L156.00,266.00 L157.50,290.00 L159.20,310.00 L159.70,312.20 L160.50,305.00 L161.50,275.00 L162.70,257.00 L163.60,253.50 L164.80,256.00 L166.00,263.00 L168.90,274.60 L170.50,280.00 L171.80,282.60 L173.50,280.00 L175.50,274.60 L179.00,269.00 L183.50,265.40 L191.40,261.20 L204.60,259.60 L223.00,259.30 L223,259 L37.5,259 Z" fill="url(#gcp)" stroke="none" stroke-width="1" clip-path="url(#cpos)"/>
<path d="M37.50,258.60 L44.00,257.60 L48.90,256.60 L53.40,251.40 L56.50,245.00 L58.70,243.40 L60.50,246.50 L62.10,256.10 L63.00,265.00 L63.70,269.90 L64.60,265.00 L65.60,257.50 L67.50,245.00 L69.50,241.10 L71.50,246.00 L74.00,258.30 L76.00,253.00 L78.00,247.00 L79.90,246.10 L82.00,250.00 L84.10,257.50 L86.00,262.00 L87.80,264.10 L90.00,262.00 L92.60,259.30 L96.30,255.60 L98.50,258.00 L100.50,261.40 L102.50,258.00 L104.50,254.80 L106.50,260.00 L108.40,266.70 L110.00,262.00 L112.00,252.00 L114.20,246.90 L116.00,252.00 L117.70,260.10 L119.00,258.50 L120.00,256.10 L121.30,245.00 L122.60,227.00 L124.50,212.00 L125.80,208.00 L127.00,208.60 L128.50,210.60 L130.50,207.00 L132.50,200.00 L134.50,197.40 L136.00,202.00 L137.20,211.20 L139.00,235.00 L140.60,259.30 L142.20,277.00 L143.80,295.80 L145.50,320.00 L147.00,331.50 L148.30,322.00 L149.60,301.00 L151.50,278.00 L153.90,261.40 L154.90,259.30 L156.00,266.00 L157.50,290.00 L159.20,310.00 L159.70,312.20 L160.50,305.00 L161.50,275.00 L162.70,257.00 L163.60,253.50 L164.80,256.00 L166.00,263.00 L168.90,274.60 L170.50,280.00 L171.80,282.60 L173.50,280.00 L175.50,274.60 L179.00,269.00 L183.50,265.40 L191.40,261.20 L204.60,259.60 L223.00,259.30 L223,259 L37.5,259 Z" fill="url(#gcn)" stroke="none" stroke-width="1" clip-path="url(#cneg)"/>
<path d="M37.50,258.60 L44.00,257.60 L48.90,256.60 L53.40,251.40 L56.50,245.00 L58.70,243.40 L60.50,246.50 L62.10,256.10 L63.00,265.00 L63.70,269.90 L64.60,265.00 L65.60,257.50 L67.50,245.00 L69.50,241.10 L71.50,246.00 L74.00,258.30 L76.00,253.00 L78.00,247.00 L79.90,246.10 L82.00,250.00 L84.10,257.50 L86.00,262.00 L87.80,264.10 L90.00,262.00 L92.60,259.30 L96.30,255.60 L98.50,258.00 L100.50,261.40 L102.50,258.00 L104.50,254.80 L106.50,260.00 L108.40,266.70 L110.00,262.00 L112.00,252.00 L114.20,246.90 L116.00,252.00 L117.70,260.10 L119.00,258.50 L120.00,256.10 L121.30,245.00 L122.60,227.00 L124.50,212.00 L125.80,208.00 L127.00,208.60 L128.50,210.60 L130.50,207.00 L132.50,200.00 L134.50,197.40 L136.00,202.00 L137.20,211.20 L139.00,235.00 L140.60,259.30 L142.20,277.00 L143.80,295.80 L145.50,320.00 L147.00,331.50 L148.30,322.00 L149.60,301.00 L151.50,278.00 L153.90,261.40 L154.90,259.30 L156.00,266.00 L157.50,290.00 L159.20,310.00 L159.70,312.20 L160.50,305.00 L161.50,275.00 L162.70,257.00 L163.60,253.50 L164.80,256.00 L166.00,263.00 L168.90,274.60 L170.50,280.00 L171.80,282.60 L173.50,280.00 L175.50,274.60 L179.00,269.00 L183.50,265.40 L191.40,261.20 L204.60,259.60 L223.00,259.30" fill="none" stroke="#505858" stroke-width="0.7" stroke-linejoin="round"/>
<line x1="38.50" y1="259.00" x2="223.00" y2="259.00" stroke="#000" stroke-width="1.5" stroke-dasharray="3.4,4.8"/>
<rect x="37.50" y="185.40" width="185.50" height="147.10" fill="none" stroke="#000" stroke-width="1.3"/>
<line x1="34.50" y1="185.50" x2="37.50" y2="185.50" stroke="#000" stroke-width="1.0" />
<text x="32.30" y="188.30" font-size="9.6" text-anchor="end" font-weight="bold" fill="#000" >1.5</text>
<line x1="34.50" y1="210.00" x2="37.50" y2="210.00" stroke="#000" stroke-width="1.0" />
<text x="32.30" y="212.80" font-size="9.6" text-anchor="end" font-weight="bold" fill="#000" >1.0</text>
<line x1="34.50" y1="234.50" x2="37.50" y2="234.50" stroke="#000" stroke-width="1.0" />
<text x="32.30" y="237.30" font-size="9.6" text-anchor="end" font-weight="bold" fill="#000" >0.5</text>
<line x1="34.50" y1="259.00" x2="37.50" y2="259.00" stroke="#000" stroke-width="1.0" />
<text x="32.30" y="261.80" font-size="9.6" text-anchor="end" font-weight="bold" fill="#000" >0.0</text>
<line x1="34.50" y1="283.50" x2="37.50" y2="283.50" stroke="#000" stroke-width="1.0" />
<text x="32.30" y="286.30" font-size="9.6" text-anchor="end" font-weight="bold" fill="#000" >-0.5</text>
<line x1="34.50" y1="308.00" x2="37.50" y2="308.00" stroke="#000" stroke-width="1.0" />
<text x="32.30" y="310.80" font-size="9.6" text-anchor="end" font-weight="bold" fill="#000" >-1.0</text>
<line x1="34.50" y1="332.50" x2="37.50" y2="332.50" stroke="#000" stroke-width="1.0" />
<text x="32.30" y="335.30" font-size="9.6" text-anchor="end" font-weight="bold" fill="#000" >-1.5</text>
<line x1="35.50" y1="197.75" x2="37.50" y2="197.75" stroke="#000" stroke-width="1.0" />
<line x1="35.50" y1="222.25" x2="37.50" y2="222.25" stroke="#000" stroke-width="1.0" />
<line x1="35.50" y1="246.75" x2="37.50" y2="246.75" stroke="#000" stroke-width="1.0" />
<line x1="35.50" y1="271.25" x2="37.50" y2="271.25" stroke="#000" stroke-width="1.0" />
<line x1="35.50" y1="295.75" x2="37.50" y2="295.75" stroke="#000" stroke-width="1.0" />
<line x1="35.50" y1="320.25" x2="37.50" y2="320.25" stroke="#000" stroke-width="1.0" />
<line x1="37.50" y1="332.50" x2="37.50" y2="335.50" stroke="#000" stroke-width="1.0" />
<text x="37.50" y="344.90" font-size="10.3" text-anchor="middle" font-weight="bold" fill="#000" >0</text>
<line x1="74.61" y1="332.50" x2="74.61" y2="335.50" stroke="#000" stroke-width="1.0" />
<text x="74.61" y="344.90" font-size="10.3" text-anchor="middle" font-weight="bold" fill="#000" >3</text>
<line x1="111.72" y1="332.50" x2="111.72" y2="335.50" stroke="#000" stroke-width="1.0" />
<text x="111.72" y="344.90" font-size="10.3" text-anchor="middle" font-weight="bold" fill="#000" >6</text>
<line x1="148.83" y1="332.50" x2="148.83" y2="335.50" stroke="#000" stroke-width="1.0" />
<text x="148.83" y="344.90" font-size="10.3" text-anchor="middle" font-weight="bold" fill="#000" >9</text>
<line x1="185.94" y1="332.50" x2="185.94" y2="335.50" stroke="#000" stroke-width="1.0" />
<text x="185.94" y="344.90" font-size="10.3" text-anchor="middle" font-weight="bold" fill="#000" >12</text>
<line x1="223.05" y1="332.50" x2="223.05" y2="335.50" stroke="#000" stroke-width="1.0" />
<text x="223.05" y="344.90" font-size="10.3" text-anchor="middle" font-weight="bold" fill="#000" >15</text>
<line x1="56.05" y1="332.50" x2="56.05" y2="334.50" stroke="#000" stroke-width="1.0" />
<line x1="93.16" y1="332.50" x2="93.16" y2="334.50" stroke="#000" stroke-width="1.0" />
<line x1="130.27" y1="332.50" x2="130.27" y2="334.50" stroke="#000" stroke-width="1.0" />
<line x1="167.38" y1="332.50" x2="167.38" y2="334.50" stroke="#000" stroke-width="1.0" />
<line x1="204.49" y1="332.50" x2="204.49" y2="334.50" stroke="#000" stroke-width="1.0" />
<text x="2.10" y="192.70" font-size="13.5" text-anchor="start" font-weight="bold" fill="#000" >c</text>
<text x="99.30" y="224.10" font-size="12.9" text-anchor="start" font-weight="bold" fill="#000" >TO</text>
<text x="163.60" y="318.30" font-size="12.9" text-anchor="start" font-weight="bold" fill="#000" >NTL</text>
<text x="12.60" y="259.00" font-size="11.5" text-anchor="middle" font-weight="bold" transform="rotate(-90 12.60 259.00)">Δρ/(10<tspan font-size="7" dy="-4">-4</tspan><tspan dy="4"> e/Å</tspan><tspan font-size="7" dy="-4">3</tspan><tspan dy="4">)</tspan></text>
<text x="130.00" y="357.60" font-size="11.1" text-anchor="middle" font-weight="bold" fill="#000" >Position (Å)</text>
<text x="241.60" y="195.50" font-size="13.5" text-anchor="start" font-weight="bold" fill="#000" >d</text>
<rect x="285.3" y="195.2" width="153.5" height="13.4" fill="#faf6d3"/>
<rect x="300.3" y="202.9" width="3.6" height="1.6" fill="#111"/>
<rect x="315.4" y="202.9" width="3.6" height="1.6" fill="#111"/>
<rect x="329.9" y="202.9" width="3.6" height="1.6" fill="#111"/>
<rect x="345.0" y="202.9" width="3.6" height="1.6" fill="#111"/>
<rect x="364.09999999999997" y="202.9" width="3.6" height="1.6" fill="#111"/>
<rect x="379.2" y="202.9" width="3.6" height="1.6" fill="#111"/>
<rect x="394.3" y="202.9" width="3.6" height="1.6" fill="#111"/>
<rect x="409.5" y="202.9" width="3.6" height="1.6" fill="#111"/>
<rect x="424.59999999999997" y="202.9" width="3.6" height="1.6" fill="#111"/>
<rect x="289" y="317" width="150" height="14" fill="#b3e3e6"/>
<path d="M300.8,326.8 H306.8 M303.8,323.9 V329.7" stroke="#111" stroke-width="1.7"/>
<path d="M318.6,326.8 H324.6 M321.6,323.9 V329.7" stroke="#111" stroke-width="1.7"/>
<path d="M336.3,326.8 H342.3 M339.3,323.9 V329.7" stroke="#111" stroke-width="1.7"/>
<path d="M353.8,326.8 H359.8 M356.8,323.9 V329.7" stroke="#111" stroke-width="1.7"/>
<path d="M371.5,326.8 H377.5 M374.5,323.9 V329.7" stroke="#111" stroke-width="1.7"/>
<path d="M389.0,326.8 H395.0 M392.0,323.9 V329.7" stroke="#111" stroke-width="1.7"/>
<path d="M406.5,326.8 H412.5 M409.5,323.9 V329.7" stroke="#111" stroke-width="1.7"/>
<path d="M424.0,326.8 H430.0 M427.0,323.9 V329.7" stroke="#111" stroke-width="1.7"/>
<g clip-path="url(#clipd)"><g filter="url(#soft)"><line x1="247.3" y1="216" x2="248.4" y2="230" stroke="#ec4a4a" stroke-width="1.8"/><line x1="247.8" y1="223.0" x2="248.4" y2="230" stroke="#7cc8e4" stroke-width="1.5"/><line x1="266.0" y1="215.5" x2="267.5" y2="227.8" stroke="#ec4a4a" stroke-width="1.8"/><line x1="266.8" y1="221.65" x2="267.5" y2="227.8" stroke="#7cc8e4" stroke-width="1.5"/><line x1="267.5" y1="227.8" x2="251.4" y2="235" stroke="#ec4a4a" stroke-width="1.8"/><line x1="259.4" y1="231.4" x2="251.4" y2="235" stroke="#7cc8e4" stroke-width="1.5"/><line x1="267.5" y1="227.8" x2="275.4" y2="243.9" stroke="#ec4a4a" stroke-width="1.8"/><line x1="271.4" y1="235.85000000000002" x2="275.4" y2="243.9" stroke="#7cc8e4" stroke-width="1.5"/><line x1="275.4" y1="243.9" x2="294.7" y2="234.5" stroke="#ec4a4a" stroke-width="1.8"/><line x1="285.0" y1="239.2" x2="294.7" y2="234.5" stroke="#7cc8e4" stroke-width="1.5"/><line x1="252.4" y1="244" x2="263.4" y2="251" stroke="#ec4a4a" stroke-width="1.8"/><line x1="257.9" y1="247.5" x2="263.4" y2="251" stroke="#7cc8e4" stroke-width="1.5"/><line x1="241.4" y1="240" x2="232.4" y2="246" stroke="#ec4a4a" stroke-width="1.8"/><line x1="236.9" y1="243.0" x2="232.4" y2="246" stroke="#7cc8e4" stroke-width="1.5"/><circle cx="247.3" cy="217.5" r="2.4" fill="#26c4d2"/><ellipse cx="247.3" cy="215.6" rx="2.6" ry="1.6" fill="#ee1414"/><circle cx="266.0" cy="216" r="1.6" fill="#88d8e8"/><ellipse cx="248.4" cy="236.5" rx="6.8" ry="7.8" fill="#26c4d2"/><ellipse cx="260.4" cy="244.5" rx="8.8" ry="3.4" transform="rotate(22 260.4 244.5)" fill="#26c4d2"/><ellipse cx="250.4" cy="230.5" rx="3.6" ry="3.2" fill="#d6d41e"/><ellipse cx="250.4" cy="242.5" rx="3.8" ry="3.4" fill="#d6d41e"/><circle cx="252.4" cy="236" r="2.8" fill="#b8e8f4"/><circle cx="246.2" cy="237.8" r="2.7" fill="#ee1414"/><circle cx="267.5" cy="227.8" r="2.5" fill="#ee1414"/><ellipse cx="267.4" cy="224.5" rx="2.4" ry="2" fill="#d6d41e"/><ellipse cx="273.9" cy="246" rx="5.3" ry="6.8" fill="#26c4d2"/><ellipse cx="276.4" cy="238.5" rx="3.6" ry="3.4" fill="#d6d41e"/><ellipse cx="275.4" cy="251" rx="4" ry="3.6" fill="#d6d41e"/><circle cx="273.4" cy="244" r="3.6" fill="#b8e8f4"/><circle cx="280.8" cy="248" r="2.7" fill="#ee1414"/><ellipse cx="260.2" cy="256.5" rx="7.2" ry="7.8" fill="#d6d41e"/><ellipse cx="259.9" cy="251.5" rx="3.5" ry="2.5" fill="#e8a020"/><ellipse cx="281.8" cy="257" rx="6" ry="5.6" fill="#d6d41e"/><ellipse cx="258.4" cy="258" rx="3" ry="3" fill="#e4e440" opacity="0.7"/><line x1="294.9" y1="216" x2="296.0" y2="230" stroke="#ec4a4a" stroke-width="1.8"/><line x1="295.4" y1="223.0" x2="296.0" y2="230" stroke="#7cc8e4" stroke-width="1.5"/><line x1="313.6" y1="215.5" x2="315.1" y2="227.8" stroke="#ec4a4a" stroke-width="1.8"/><line x1="314.4" y1="221.65" x2="315.1" y2="227.8" stroke="#7cc8e4" stroke-width="1.5"/><line x1="315.1" y1="227.8" x2="299.0" y2="235" stroke="#ec4a4a" stroke-width="1.8"/><line x1="307.1" y1="231.4" x2="299.0" y2="235" stroke="#7cc8e4" stroke-width="1.5"/><line x1="315.1" y1="227.8" x2="323.0" y2="243.9" stroke="#ec4a4a" stroke-width="1.8"/><line x1="319.1" y1="235.85000000000002" x2="323.0" y2="243.9" stroke="#7cc8e4" stroke-width="1.5"/><line x1="323.0" y1="243.9" x2="342.3" y2="234.5" stroke="#ec4a4a" stroke-width="1.8"/><line x1="332.6" y1="239.2" x2="342.3" y2="234.5" stroke="#7cc8e4" stroke-width="1.5"/><line x1="300.0" y1="244" x2="311.0" y2="251" stroke="#ec4a4a" stroke-width="1.8"/><line x1="305.5" y1="247.5" x2="311.0" y2="251" stroke="#7cc8e4" stroke-width="1.5"/><line x1="289.0" y1="240" x2="280.0" y2="246" stroke="#ec4a4a" stroke-width="1.8"/><line x1="284.5" y1="243.0" x2="280.0" y2="246" stroke="#7cc8e4" stroke-width="1.5"/><circle cx="294.9" cy="217.5" r="2.4" fill="#26c4d2"/><ellipse cx="294.9" cy="215.6" rx="2.6" ry="1.6" fill="#ee1414"/><circle cx="313.6" cy="216" r="1.6" fill="#88d8e8"/><ellipse cx="296.0" cy="236.5" rx="6.8" ry="7.8" fill="#26c4d2"/><ellipse cx="308.0" cy="244.5" rx="8.8" ry="3.4" transform="rotate(22 308.0 244.5)" fill="#26c4d2"/><ellipse cx="298.0" cy="230.5" rx="3.6" ry="3.2" fill="#d6d41e"/><ellipse cx="298.0" cy="242.5" rx="3.8" ry="3.4" fill="#d6d41e"/><circle cx="300.0" cy="236" r="2.8" fill="#b8e8f4"/><circle cx="293.8" cy="237.8" r="2.7" fill="#ee1414"/><circle cx="315.1" cy="227.8" r="2.5" fill="#ee1414"/><ellipse cx="315.0" cy="224.5" rx="2.4" ry="2" fill="#d6d41e"/><ellipse cx="321.5" cy="246" rx="5.3" ry="6.8" fill="#26c4d2"/><ellipse cx="324.0" cy="238.5" rx="3.6" ry="3.4" fill="#d6d41e"/><ellipse cx="323.0" cy="251" rx="4" ry="3.6" fill="#d6d41e"/><circle cx="321.0" cy="244" r="3.6" fill="#b8e8f4"/><circle cx="328.4" cy="248" r="2.7" fill="#ee1414"/><ellipse cx="307.8" cy="256.5" rx="7.2" ry="7.8" fill="#d6d41e"/><ellipse cx="307.5" cy="251.5" rx="3.5" ry="2.5" fill="#e8a020"/><ellipse cx="329.4" cy="257" rx="6" ry="5.6" fill="#d6d41e"/><ellipse cx="306.0" cy="258" rx="3" ry="3" fill="#e4e440" opacity="0.7"/><line x1="342.5" y1="216" x2="343.6" y2="230" stroke="#ec4a4a" stroke-width="1.8"/><line x1="343.1" y1="223.0" x2="343.6" y2="230" stroke="#7cc8e4" stroke-width="1.5"/><line x1="361.2" y1="215.5" x2="362.7" y2="227.8" stroke="#ec4a4a" stroke-width="1.8"/><line x1="362.0" y1="221.65" x2="362.7" y2="227.8" stroke="#7cc8e4" stroke-width="1.5"/><line x1="362.7" y1="227.8" x2="346.6" y2="235" stroke="#ec4a4a" stroke-width="1.8"/><line x1="354.7" y1="231.4" x2="346.6" y2="235" stroke="#7cc8e4" stroke-width="1.5"/><line x1="362.7" y1="227.8" x2="370.6" y2="243.9" stroke="#ec4a4a" stroke-width="1.8"/><line x1="366.7" y1="235.85000000000002" x2="370.6" y2="243.9" stroke="#7cc8e4" stroke-width="1.5"/><line x1="370.6" y1="243.9" x2="389.9" y2="234.5" stroke="#ec4a4a" stroke-width="1.8"/><line x1="380.2" y1="239.2" x2="389.9" y2="234.5" stroke="#7cc8e4" stroke-width="1.5"/><line x1="347.6" y1="244" x2="358.6" y2="251" stroke="#ec4a4a" stroke-width="1.8"/><line x1="353.1" y1="247.5" x2="358.6" y2="251" stroke="#7cc8e4" stroke-width="1.5"/><line x1="336.6" y1="240" x2="327.6" y2="246" stroke="#ec4a4a" stroke-width="1.8"/><line x1="332.1" y1="243.0" x2="327.6" y2="246" stroke="#7cc8e4" stroke-width="1.5"/><circle cx="342.5" cy="217.5" r="2.4" fill="#26c4d2"/><ellipse cx="342.5" cy="215.6" rx="2.6" ry="1.6" fill="#ee1414"/><circle cx="361.2" cy="216" r="1.6" fill="#88d8e8"/><ellipse cx="343.6" cy="236.5" rx="6.8" ry="7.8" fill="#26c4d2"/><ellipse cx="355.6" cy="244.5" rx="8.8" ry="3.4" transform="rotate(22 355.6 244.5)" fill="#26c4d2"/><ellipse cx="345.6" cy="230.5" rx="3.6" ry="3.2" fill="#d6d41e"/><ellipse cx="345.6" cy="242.5" rx="3.8" ry="3.4" fill="#d6d41e"/><circle cx="347.6" cy="236" r="2.8" fill="#b8e8f4"/><circle cx="341.4" cy="237.8" r="2.7" fill="#ee1414"/><circle cx="362.7" cy="227.8" r="2.5" fill="#ee1414"/><ellipse cx="362.6" cy="224.5" rx="2.4" ry="2" fill="#d6d41e"/><ellipse cx="369.1" cy="246" rx="5.3" ry="6.8" fill="#26c4d2"/><ellipse cx="371.6" cy="238.5" rx="3.6" ry="3.4" fill="#d6d41e"/><ellipse cx="370.6" cy="251" rx="4" ry="3.6" fill="#d6d41e"/><circle cx="368.6" cy="244" r="3.6" fill="#b8e8f4"/><circle cx="376.0" cy="248" r="2.7" fill="#ee1414"/><ellipse cx="355.4" cy="256.5" rx="7.2" ry="7.8" fill="#d6d41e"/><ellipse cx="355.1" cy="251.5" rx="3.5" ry="2.5" fill="#e8a020"/><ellipse cx="377.0" cy="257" rx="6" ry="5.6" fill="#d6d41e"/><ellipse cx="353.6" cy="258" rx="3" ry="3" fill="#e4e440" opacity="0.7"/><line x1="390.1" y1="216" x2="391.2" y2="230" stroke="#ec4a4a" stroke-width="1.8"/><line x1="390.6" y1="223.0" x2="391.2" y2="230" stroke="#7cc8e4" stroke-width="1.5"/><line x1="408.8" y1="215.5" x2="410.3" y2="227.8" stroke="#ec4a4a" stroke-width="1.8"/><line x1="409.6" y1="221.65" x2="410.3" y2="227.8" stroke="#7cc8e4" stroke-width="1.5"/><line x1="410.3" y1="227.8" x2="394.2" y2="235" stroke="#ec4a4a" stroke-width="1.8"/><line x1="402.2" y1="231.4" x2="394.2" y2="235" stroke="#7cc8e4" stroke-width="1.5"/><line x1="410.3" y1="227.8" x2="418.2" y2="243.9" stroke="#ec4a4a" stroke-width="1.8"/><line x1="414.2" y1="235.85000000000002" x2="418.2" y2="243.9" stroke="#7cc8e4" stroke-width="1.5"/><line x1="418.2" y1="243.9" x2="437.5" y2="234.5" stroke="#ec4a4a" stroke-width="1.8"/><line x1="427.8" y1="239.2" x2="437.5" y2="234.5" stroke="#7cc8e4" stroke-width="1.5"/><line x1="395.2" y1="244" x2="406.2" y2="251" stroke="#ec4a4a" stroke-width="1.8"/><line x1="400.7" y1="247.5" x2="406.2" y2="251" stroke="#7cc8e4" stroke-width="1.5"/><line x1="384.2" y1="240" x2="375.2" y2="246" stroke="#ec4a4a" stroke-width="1.8"/><line x1="379.7" y1="243.0" x2="375.2" y2="246" stroke="#7cc8e4" stroke-width="1.5"/><circle cx="390.1" cy="217.5" r="2.4" fill="#26c4d2"/><ellipse cx="390.1" cy="215.6" rx="2.6" ry="1.6" fill="#ee1414"/><circle cx="408.8" cy="216" r="1.6" fill="#88d8e8"/><ellipse cx="391.2" cy="236.5" rx="6.8" ry="7.8" fill="#26c4d2"/><ellipse cx="403.2" cy="244.5" rx="8.8" ry="3.4" transform="rotate(22 403.2 244.5)" fill="#26c4d2"/><ellipse cx="393.2" cy="230.5" rx="3.6" ry="3.2" fill="#d6d41e"/><ellipse cx="393.2" cy="242.5" rx="3.8" ry="3.4" fill="#d6d41e"/><circle cx="395.2" cy="236" r="2.8" fill="#b8e8f4"/><circle cx="389.0" cy="237.8" r="2.7" fill="#ee1414"/><circle cx="410.3" cy="227.8" r="2.5" fill="#ee1414"/><ellipse cx="410.2" cy="224.5" rx="2.4" ry="2" fill="#d6d41e"/><ellipse cx="416.7" cy="246" rx="5.3" ry="6.8" fill="#26c4d2"/><ellipse cx="419.2" cy="238.5" rx="3.6" ry="3.4" fill="#d6d41e"/><ellipse cx="418.2" cy="251" rx="4" ry="3.6" fill="#d6d41e"/><circle cx="416.2" cy="244" r="3.6" fill="#b8e8f4"/><circle cx="423.6" cy="248" r="2.7" fill="#ee1414"/><ellipse cx="403.0" cy="256.5" rx="7.2" ry="7.8" fill="#d6d41e"/><ellipse cx="402.7" cy="251.5" rx="3.5" ry="2.5" fill="#e8a020"/><ellipse cx="424.6" cy="257" rx="6" ry="5.6" fill="#d6d41e"/><ellipse cx="401.2" cy="258" rx="3" ry="3" fill="#e4e440" opacity="0.7"/><line x1="437.7" y1="216" x2="438.8" y2="230" stroke="#ec4a4a" stroke-width="1.8"/><line x1="438.2" y1="223.0" x2="438.8" y2="230" stroke="#7cc8e4" stroke-width="1.5"/><line x1="456.4" y1="215.5" x2="457.9" y2="227.8" stroke="#ec4a4a" stroke-width="1.8"/><line x1="457.2" y1="221.65" x2="457.9" y2="227.8" stroke="#7cc8e4" stroke-width="1.5"/><line x1="457.9" y1="227.8" x2="441.8" y2="235" stroke="#ec4a4a" stroke-width="1.8"/><line x1="449.9" y1="231.4" x2="441.8" y2="235" stroke="#7cc8e4" stroke-width="1.5"/><line x1="457.9" y1="227.8" x2="465.8" y2="243.9" stroke="#ec4a4a" stroke-width="1.8"/><line x1="461.9" y1="235.85000000000002" x2="465.8" y2="243.9" stroke="#7cc8e4" stroke-width="1.5"/><line x1="465.8" y1="243.9" x2="485.1" y2="234.5" stroke="#ec4a4a" stroke-width="1.8"/><line x1="475.4" y1="239.2" x2="485.1" y2="234.5" stroke="#7cc8e4" stroke-width="1.5"/><line x1="442.8" y1="244" x2="453.8" y2="251" stroke="#ec4a4a" stroke-width="1.8"/><line x1="448.3" y1="247.5" x2="453.8" y2="251" stroke="#7cc8e4" stroke-width="1.5"/><line x1="431.8" y1="240" x2="422.8" y2="246" stroke="#ec4a4a" stroke-width="1.8"/><line x1="427.3" y1="243.0" x2="422.8" y2="246" stroke="#7cc8e4" stroke-width="1.5"/><circle cx="437.7" cy="217.5" r="2.4" fill="#26c4d2"/><ellipse cx="437.7" cy="215.6" rx="2.6" ry="1.6" fill="#ee1414"/><circle cx="456.4" cy="216" r="1.6" fill="#88d8e8"/><ellipse cx="438.8" cy="236.5" rx="6.8" ry="7.8" fill="#26c4d2"/><ellipse cx="450.8" cy="244.5" rx="8.8" ry="3.4" transform="rotate(22 450.8 244.5)" fill="#26c4d2"/><ellipse cx="440.8" cy="230.5" rx="3.6" ry="3.2" fill="#d6d41e"/><ellipse cx="440.8" cy="242.5" rx="3.8" ry="3.4" fill="#d6d41e"/><circle cx="442.8" cy="236" r="2.8" fill="#b8e8f4"/><circle cx="436.6" cy="237.8" r="2.7" fill="#ee1414"/><circle cx="457.9" cy="227.8" r="2.5" fill="#ee1414"/><ellipse cx="457.8" cy="224.5" rx="2.4" ry="2" fill="#d6d41e"/><ellipse cx="464.3" cy="246" rx="5.3" ry="6.8" fill="#26c4d2"/><ellipse cx="466.8" cy="238.5" rx="3.6" ry="3.4" fill="#d6d41e"/><ellipse cx="465.8" cy="251" rx="4" ry="3.6" fill="#d6d41e"/><circle cx="463.8" cy="244" r="3.6" fill="#b8e8f4"/><circle cx="471.2" cy="248" r="2.7" fill="#ee1414"/><ellipse cx="450.6" cy="256.5" rx="7.2" ry="7.8" fill="#d6d41e"/><ellipse cx="450.3" cy="251.5" rx="3.5" ry="2.5" fill="#e8a020"/><ellipse cx="472.2" cy="257" rx="6" ry="5.6" fill="#d6d41e"/><ellipse cx="448.8" cy="258" rx="3" ry="3" fill="#e4e440" opacity="0.7"/><ellipse cx="288.7" cy="269.8" rx="7.6" ry="5.2" fill="#26c4d2"/><ellipse cx="295.9" cy="284.2" rx="6.1" ry="4.8" fill="#26c4d2"/><ellipse cx="286.0" cy="291.5" rx="3.0" ry="2.9" fill="#26c4d2"/><ellipse cx="296.3" cy="274.3" rx="3.7" ry="2.7" fill="#d6d41e"/><ellipse cx="290.5" cy="285.1" rx="3.5" ry="2.7" fill="#d6d41e"/><ellipse cx="306.7" cy="269.5" rx="6.1" ry="5.0" fill="#26c4d2"/><ellipse cx="312.1" cy="281.5" rx="6.4" ry="4.6" fill="#26c4d2"/><ellipse cx="300.5" cy="292.6" rx="3.2" ry="3.4" fill="#26c4d2"/><ellipse cx="311.0" cy="276.2" rx="3.0" ry="3.0" fill="#d6d41e"/><ellipse cx="305.5" cy="285.1" rx="3.3" ry="2.2" fill="#d6d41e"/><ellipse cx="321.4" cy="267.8" rx="8.4" ry="5.8" fill="#26c4d2"/><ellipse cx="328.3" cy="284.1" rx="5.7" ry="5.1" fill="#26c4d2"/><ellipse cx="315.5" cy="292.0" rx="4.2" ry="2.7" fill="#26c4d2"/><ellipse cx="328.0" cy="277.6" rx="3.1" ry="2.9" fill="#d6d41e"/><ellipse cx="321.2" cy="285.8" rx="3.5" ry="2.4" fill="#d6d41e"/><ellipse cx="333.6" cy="267.4" rx="7.8" ry="6.0" fill="#26c4d2"/><ellipse cx="342.4" cy="283.0" rx="5.6" ry="5.1" fill="#26c4d2"/><ellipse cx="330.9" cy="292.2" rx="3.8" ry="3.1" fill="#26c4d2"/><ellipse cx="340.2" cy="274.7" rx="3.0" ry="3.4" fill="#d6d41e"/><ellipse cx="336.1" cy="286.2" rx="2.5" ry="2.1" fill="#d6d41e"/><ellipse cx="348.9" cy="270.3" rx="7.9" ry="5.1" fill="#26c4d2"/><ellipse cx="358.3" cy="283.7" rx="6.3" ry="5.4" fill="#26c4d2"/><ellipse cx="346.4" cy="293.0" rx="4.4" ry="3.1" fill="#26c4d2"/><ellipse cx="358.1" cy="276.0" rx="3.1" ry="2.7" fill="#d6d41e"/><ellipse cx="352.4" cy="285.3" rx="2.1" ry="2.8" fill="#d6d41e"/><ellipse cx="366.8" cy="268.9" rx="8.1" ry="4.6" fill="#26c4d2"/><ellipse cx="371.8" cy="282.2" rx="5.3" ry="4.3" fill="#26c4d2"/><ellipse cx="360.9" cy="291.7" rx="4.3" ry="3.5" fill="#26c4d2"/><ellipse cx="372.7" cy="275.9" rx="2.9" ry="3.5" fill="#d6d41e"/><ellipse cx="366.8" cy="286.5" rx="2.0" ry="2.2" fill="#d6d41e"/><ellipse cx="382.3" cy="270.2" rx="8.2" ry="5.4" fill="#26c4d2"/><ellipse cx="387.6" cy="283.3" rx="6.2" ry="4.5" fill="#26c4d2"/><ellipse cx="377.0" cy="291.6" rx="4.2" ry="2.5" fill="#26c4d2"/><ellipse cx="387.6" cy="277.8" rx="2.5" ry="3.1" fill="#d6d41e"/><ellipse cx="382.2" cy="286.7" rx="2.9" ry="2.3" fill="#d6d41e"/><ellipse cx="395.7" cy="270.8" rx="8.3" ry="4.7" fill="#26c4d2"/><ellipse cx="401.4" cy="281.4" rx="4.6" ry="4.7" fill="#26c4d2"/><ellipse cx="391.3" cy="292.7" rx="4.0" ry="2.6" fill="#26c4d2"/><ellipse cx="402.2" cy="275.3" rx="3.2" ry="2.7" fill="#d6d41e"/><ellipse cx="396.4" cy="285.4" rx="2.6" ry="2.7" fill="#d6d41e"/><ellipse cx="411.4" cy="267.2" rx="7.8" ry="5.8" fill="#26c4d2"/><ellipse cx="419.3" cy="284.2" rx="4.5" ry="4.7" fill="#26c4d2"/><ellipse cx="406.3" cy="292.5" rx="3.3" ry="3.2" fill="#26c4d2"/><ellipse cx="416.2" cy="276.8" rx="3.0" ry="2.5" fill="#d6d41e"/><ellipse cx="412.0" cy="285.6" rx="3.4" ry="2.3" fill="#d6d41e"/><ellipse cx="426.4" cy="269.2" rx="8.4" ry="4.6" fill="#26c4d2"/><ellipse cx="433.8" cy="283.0" rx="6.0" ry="5.5" fill="#26c4d2"/><ellipse cx="422.0" cy="292.4" rx="3.8" ry="3.1" fill="#26c4d2"/><ellipse cx="430.6" cy="277.3" rx="4.0" ry="2.9" fill="#d6d41e"/><ellipse cx="427.0" cy="287.0" rx="2.2" ry="2.1" fill="#d6d41e"/><ellipse cx="283.7" cy="279.3" rx="4.6" ry="4.2" fill="#26c4d2"/><ellipse cx="300.5" cy="276.1" rx="4.5" ry="4.2" fill="#26c4d2"/><ellipse cx="315.4" cy="277.6" rx="4.1" ry="3.8" fill="#26c4d2"/><ellipse cx="329.1" cy="277.7" rx="3.9" ry="4.6" fill="#26c4d2"/><ellipse cx="346.6" cy="278.9" rx="4.2" ry="3.9" fill="#26c4d2"/><ellipse cx="360.4" cy="277.9" rx="4.4" ry="4.9" fill="#26c4d2"/><ellipse cx="374.7" cy="277.9" rx="4.2" ry="4.6" fill="#26c4d2"/><ellipse cx="392.2" cy="279.1" rx="4.4" ry="4.6" fill="#26c4d2"/><ellipse cx="406.7" cy="279.4" rx="4.5" ry="4.5" fill="#26c4d2"/><ellipse cx="420.6" cy="279.7" rx="4.1" ry="4.4" fill="#26c4d2"/><ellipse cx="297.8" cy="286" rx="5.5" ry="4.5" fill="#d6d41e"/><ellipse cx="382" cy="282" rx="4" ry="3.5" fill="#d6d41e"/><line x1="318" y1="271" x2="318" y2="279" stroke="#f4b0b0" stroke-width="1.2"/><circle cx="318" cy="271" r="1.6" fill="#fbe6e6" stroke="#d89090" stroke-width="0.6"/><line x1="344.5" y1="271" x2="344.5" y2="279" stroke="#f4b0b0" stroke-width="1.2"/><circle cx="344.5" cy="271" r="1.6" fill="#fbe6e6" stroke="#d89090" stroke-width="0.6"/><line x1="374.3" y1="271" x2="374.3" y2="279" stroke="#f4b0b0" stroke-width="1.2"/><circle cx="374.3" cy="271" r="1.6" fill="#fbe6e6" stroke="#d89090" stroke-width="0.6"/><line x1="404" y1="271" x2="404" y2="279" stroke="#f4b0b0" stroke-width="1.2"/><circle cx="404" cy="271" r="1.6" fill="#fbe6e6" stroke="#d89090" stroke-width="0.6"/><line x1="433.8" y1="271" x2="433.8" y2="279" stroke="#f4b0b0" stroke-width="1.2"/><circle cx="433.8" cy="271" r="1.6" fill="#fbe6e6" stroke="#d89090" stroke-width="0.6"/><line x1="300" y1="271" x2="300" y2="279" stroke="#f4b0b0" stroke-width="1.2"/><circle cx="300" cy="271" r="1.6" fill="#fbe6e6" stroke="#d89090" stroke-width="0.6"/><path d="M288,295 L437,295" stroke="#a0a4a8" stroke-width="1.4"/><circle cx="298.5" cy="290.3" r="4.3" fill="#989ea2"/><circle cx="297.9" cy="290" r="2" fill="#f2f2f2"/><circle cx="313.6" cy="290.3" r="4.3" fill="#989ea2"/><circle cx="313.0" cy="290" r="2" fill="#f2f2f2"/><circle cx="329" cy="290.3" r="4.3" fill="#989ea2"/><circle cx="328.4" cy="290" r="2" fill="#f2f2f2"/><circle cx="344" cy="290.3" r="4.3" fill="#989ea2"/><circle cx="343.4" cy="290" r="2" fill="#f2f2f2"/><circle cx="359.5" cy="290.3" r="4.3" fill="#989ea2"/><circle cx="358.9" cy="290" r="2" fill="#f2f2f2"/><circle cx="375.2" cy="290.3" r="4.3" fill="#989ea2"/><circle cx="374.59999999999997" cy="290" r="2" fill="#f2f2f2"/><circle cx="390" cy="290.3" r="4.3" fill="#989ea2"/><circle cx="389.4" cy="290" r="2" fill="#f2f2f2"/><circle cx="405" cy="290.3" r="4.3" fill="#989ea2"/><circle cx="404.4" cy="290" r="2" fill="#f2f2f2"/><circle cx="419.6" cy="290.3" r="4.3" fill="#989ea2"/><circle cx="419.0" cy="290" r="2" fill="#f2f2f2"/><circle cx="434.7" cy="290.3" r="4.3" fill="#989ea2"/><circle cx="434.09999999999997" cy="290" r="2" fill="#f2f2f2"/><path d="M268.45,299.50 L275.95,295.00 L283.60,299.50 L291.10,295.00 L298.75,299.50 L306.25,295.00 L313.90,299.50 L321.40,295.00 L329.05,299.50 L336.55,295.00 L344.20,299.50 L351.70,295.00 L359.35,299.50 L366.85,295.00 L374.50,299.50 L382.00,295.00 L389.65,299.50 L397.15,295.00 L404.80,299.50 L412.30,295.00 L419.95,299.50 L427.45,295.00 L435.10,299.50 L442.60,295.00 L450.25,299.50 L457.75,295.00" fill="none" stroke="#ee1414" stroke-width="3.0"/><circle cx="306" cy="304.6" r="2.6" fill="#ee1414"/><line x1="306" y1="304" x2="308.8" y2="296" stroke="#ee1414" stroke-width="1.8"/><circle cx="321" cy="305.0" r="2.6" fill="#ee1414"/><line x1="321" y1="304" x2="318.0" y2="296" stroke="#ee1414" stroke-width="1.8"/><circle cx="336.5" cy="303.6" r="2.6" fill="#ee1414"/><line x1="336.5" y1="304" x2="335.4" y2="296" stroke="#ee1414" stroke-width="1.8"/><circle cx="352" cy="303.8" r="2.6" fill="#ee1414"/><line x1="352" y1="304" x2="349.9" y2="296" stroke="#ee1414" stroke-width="1.8"/><circle cx="367" cy="304.1" r="2.6" fill="#ee1414"/><line x1="367" y1="304" x2="364.5" y2="296" stroke="#ee1414" stroke-width="1.8"/><circle cx="382" cy="303.6" r="2.6" fill="#ee1414"/><line x1="382" y1="304" x2="384.7" y2="296" stroke="#ee1414" stroke-width="1.8"/><circle cx="397" cy="304.5" r="2.6" fill="#ee1414"/><line x1="397" y1="304" x2="396.8" y2="296" stroke="#ee1414" stroke-width="1.8"/><circle cx="412" cy="303.2" r="2.6" fill="#ee1414"/><line x1="412" y1="304" x2="414.7" y2="296" stroke="#ee1414" stroke-width="1.8"/><circle cx="427" cy="304.4" r="2.6" fill="#ee1414"/><line x1="427" y1="304" x2="425.2" y2="296" stroke="#ee1414" stroke-width="1.8"/><circle cx="299.6" cy="300.3" r="2.8" fill="#ee1414"/><circle cx="314.2" cy="301.1" r="2.8" fill="#ee1414"/><circle cx="329.4" cy="301.2" r="2.8" fill="#ee1414"/><circle cx="344.6" cy="300.2" r="2.8" fill="#ee1414"/><circle cx="359.7" cy="301.9" r="2.8" fill="#ee1414"/><circle cx="374" cy="300.3" r="2.8" fill="#ee1414"/><circle cx="389.8" cy="300.1" r="2.8" fill="#ee1414"/><circle cx="404.4" cy="301.6" r="2.8" fill="#ee1414"/><circle cx="419.6" cy="299.9" r="2.8" fill="#ee1414"/><circle cx="433.6" cy="301.2" r="2.8" fill="#ee1414"/><circle cx="292" cy="300.0" r="2.8" fill="#ee1414"/><circle cx="318" cy="279.2" r="2.7" fill="#ee1414"/><circle cx="344.5" cy="278.6" r="2.7" fill="#ee1414"/><circle cx="374.3" cy="278.8" r="2.7" fill="#ee1414"/><circle cx="404" cy="279.9" r="2.7" fill="#ee1414"/><circle cx="433.8" cy="278.9" r="2.7" fill="#ee1414"/><circle cx="300" cy="278.9" r="2.7" fill="#ee1414"/><circle cx="389" cy="279.2" r="2.7" fill="#ee1414"/><line x1="299" y1="303" x2="299" y2="310" stroke="#f08a8a" stroke-width="1.2"/><circle cx="299" cy="311" r="1.8" fill="#fbe6e6" stroke="#d89090" stroke-width="0.7"/><line x1="314.2" y1="303" x2="314.2" y2="310" stroke="#f08a8a" stroke-width="1.2"/><circle cx="314.2" cy="311" r="1.8" fill="#fbe6e6" stroke="#d89090" stroke-width="0.7"/><line x1="328.8" y1="303" x2="328.8" y2="310" stroke="#f08a8a" stroke-width="1.2"/><circle cx="328.8" cy="311" r="1.8" fill="#fbe6e6" stroke="#d89090" stroke-width="0.7"/><line x1="343.4" y1="303" x2="343.4" y2="310" stroke="#f08a8a" stroke-width="1.2"/><circle cx="343.4" cy="311" r="1.8" fill="#fbe6e6" stroke="#d89090" stroke-width="0.7"/><line x1="361" y1="303" x2="361" y2="310" stroke="#f08a8a" stroke-width="1.2"/><circle cx="361" cy="311" r="1.8" fill="#fbe6e6" stroke="#d89090" stroke-width="0.7"/><line x1="374" y1="303" x2="374" y2="310" stroke="#f08a8a" stroke-width="1.2"/><circle cx="374" cy="311" r="1.8" fill="#fbe6e6" stroke="#d89090" stroke-width="0.7"/><line x1="389.5" y1="303" x2="389.5" y2="310" stroke="#f08a8a" stroke-width="1.2"/><circle cx="389.5" cy="311" r="1.8" fill="#fbe6e6" stroke="#d89090" stroke-width="0.7"/><line x1="404" y1="303" x2="404" y2="310" stroke="#f08a8a" stroke-width="1.2"/><circle cx="404" cy="311" r="1.8" fill="#fbe6e6" stroke="#d89090" stroke-width="0.7"/><line x1="420" y1="303" x2="420" y2="310" stroke="#f08a8a" stroke-width="1.2"/><circle cx="420" cy="311" r="1.8" fill="#fbe6e6" stroke="#d89090" stroke-width="0.7"/><line x1="434" y1="303" x2="434" y2="310" stroke="#f08a8a" stroke-width="1.2"/><circle cx="434" cy="311" r="1.8" fill="#fbe6e6" stroke="#d89090" stroke-width="0.7"/><circle cx="293.2" cy="302.3" r="1.7" fill="#fbe6e6" stroke="#d89090" stroke-width="0.7"/><circle cx="310.1" cy="306.4" r="1.7" fill="#fbe6e6" stroke="#d89090" stroke-width="0.7"/><circle cx="387" cy="309" r="1.7" fill="#fbe6e6" stroke="#d89090" stroke-width="0.7"/><circle cx="402" cy="309" r="1.7" fill="#fbe6e6" stroke="#d89090" stroke-width="0.7"/></g></g>
<line x1="273.50" y1="263.10" x2="462.60" y2="263.10" stroke="#6a6a6a" stroke-width="1.5" stroke-dasharray="4.4,4.4"/>
<rect x="272.60" y="188.30" width="190.00" height="146.90" fill="none" stroke="#000" stroke-width="1.3"/>
<text x="480.50" y="11.00" font-size="13.5" text-anchor="start" font-weight="bold" fill="#000" >e</text>
<rect x="499.30" y="1.20" width="184.70" height="334.00" fill="none" stroke="#000" stroke-width="1.3"/>
<line x1="536.40" y1="9.20" x2="645.20" y2="9.20" stroke="#666" stroke-width="1.4" stroke-dasharray="4,2.6"/>
<text x="653.20" y="13.50" font-size="10" text-anchor="start" font-weight="bold" fill="#000" >VL</text>
<rect x="538.2" y="49.3" width="44.8" height="102.5" fill="#fdd2d4"/>
<rect x="601.3" y="49.3" width="44.4" height="102.5" fill="#7ecbe6"/>
<rect x="538.2" y="59.7" width="44.8" height="5.6" fill="#c8000e"/>
<rect x="538.2" y="111.1" width="44.8" height="5.3" fill="#c8000e"/>
<rect x="601.3" y="77.8" width="44.4" height="5.5" fill="#ffbe00"/>
<rect x="601.3" y="131.2" width="44.4" height="5.5" fill="#ffbe00"/>
<line x1="538.20" y1="85.80" x2="583.00" y2="87.00" stroke="#555" stroke-width="1.3" stroke-dasharray="4.2,3"/>
<line x1="601.30" y1="108.30" x2="645.70" y2="108.30" stroke="#555" stroke-width="1.3" stroke-dasharray="4.2,3"/>
<text x="532.80" y="67.60" font-size="9.5" text-anchor="end" font-weight="bold" fill="#c00010" >CB</text>
<text x="532.80" y="116.90" font-size="9.5" text-anchor="end" font-weight="bold" fill="#c00010" >VB</text>
<text x="527.00" y="91.50" font-size="9.5" text-anchor="start" font-weight="bold" fill="#000" >E<tspan font-size="6.5" dy="2">f</tspan></text>
<text x="650.40" y="84.20" font-size="9.5" text-anchor="start" font-weight="bold" fill="#ee7a22" >CB</text>
<text x="651.60" y="139.70" font-size="9.5" text-anchor="start" font-weight="bold" fill="#ee7a22" >VB</text>
<text x="649.40" y="111.00" font-size="9.5" text-anchor="start" font-weight="bold" fill="#000" >E<tspan font-size="6.5" dy="2">f</tspan></text>
<text x="560.90" y="39.90" font-size="10.1" text-anchor="middle" font-weight="bold" fill="#000" >Φ=2.28 eV</text>
<text x="624.20" y="39.90" font-size="10.1" text-anchor="middle" font-weight="bold" fill="#000" >Φ=7.05 eV</text>
<path d="M556.4,23.7 L561,16.5 L565.6,23.7" fill="none" stroke="#c8000e" stroke-width="2.1" stroke-linejoin="miter"/>
<line x1="561" y1="18.7" x2="561" y2="26.7" stroke="#c8000e" stroke-width="1.8" stroke-dasharray="1.6,1.6"/>
<line x1="561" y1="45.8" x2="561" y2="80" stroke="#c8000e" stroke-width="1.8" stroke-dasharray="1.6,1.6"/>
<path d="M556.4,73 L561,80.2 L565.6,73" fill="none" stroke="#c8000e" stroke-width="2.1"/>
<path d="M619.6999999999999,21.2 L624.3,14.0 L628.9,21.2" fill="none" stroke="#c8000e" stroke-width="2.1" stroke-linejoin="miter"/>
<line x1="624.3" y1="16.2" x2="624.3" y2="24.2" stroke="#c8000e" stroke-width="1.8" stroke-dasharray="1.6,1.6"/>
<line x1="624.3" y1="45.8" x2="624.3" y2="103.8" stroke="#c8000e" stroke-width="1.8" stroke-dasharray="1.6,1.6"/>
<path d="M619.6999999999999,96.8 L624.3,104.0 L628.9,96.8" fill="none" stroke="#c8000e" stroke-width="2.1"/>
<path d="M583.5,155.4 H604.8 V173.3 H614.8 L594.2,189.8 L573.4,173.3 H583.5 Z" fill="url(#garrow)" stroke="#3050a0" stroke-width="1"/>
<line x1="499.30" y1="169.30" x2="684.00" y2="169.30" stroke="#000" stroke-width="1.3" stroke-dasharray="5.3,3.5"/>
<rect x="525.1" y="191.2" width="145.8" height="21.2" fill="#fbe4d8"/>
<text x="598" y="206.2" font-size="10.4" text-anchor="middle" font-weight="bold" textLength="120" lengthAdjust="spacingAndGlyphs">Interfacial electric field</text>
<line x1="557.40" y1="217.20" x2="625.00" y2="217.20" stroke="#555" stroke-width="1.4" />
<path d="M620.5,213.6 L626.6,217.2 L620.5,220.8" fill="none" stroke="#555" stroke-width="1.4"/>
<rect x="515.7" y="223.6" width="64.6" height="103" fill="#ffcdd3"/>
<rect x="580.3" y="223.6" width="10.3" height="103" fill="#ff9ca4"/>
<rect x="590.6" y="223.6" width="10.2" height="103" fill="#02a2d4"/>
<rect x="600.8" y="223.6" width="66" height="103" fill="#38c6e6"/>
<line x1="515.70" y1="260.90" x2="667.00" y2="260.90" stroke="#666" stroke-width="1.2" stroke-dasharray="4,2.8"/>
<text x="501.30" y="244.60" font-size="9.5" text-anchor="start" font-weight="bold" fill="#c00010" >CB</text>
<text x="501.30" y="306.40" font-size="9.5" text-anchor="start" font-weight="bold" fill="#c00010" >VB</text>
<text x="506.00" y="266.80" font-size="9.5" text-anchor="start" font-weight="bold" fill="#000" >E<tspan font-size="6.5" dy="2">f</tspan></text>
<text x="667.80" y="254.40" font-size="9.5" text-anchor="start" font-weight="bold" fill="#ee7a22" >CB</text>
<text x="669.00" y="312.40" font-size="9.5" text-anchor="start" font-weight="bold" fill="#ee7a22" >VB</text>
<path d="M518.7,242.8 H583 Q588.5,242.8 589.5,238.5" fill="none" stroke="#e4000e" stroke-width="5.5"/>
<path d="M518.7,301.6 H583 Q589.5,301.6 590.5,291" fill="none" stroke="#e4000e" stroke-width="5.5"/>
<path d="M588.5,298 C592,285 594,265 597.5,256 C599,252 602,251 606,251" fill="none" stroke="url(#gbend)" stroke-width="4.5"/>
<path d="M600,250.8 H666.7" fill="none" stroke="#ffbe00" stroke-width="5.6"/>
<path d="M590,316 Q594,310 602,310 H666.7" fill="none" stroke="#ffbe00" stroke-width="5.8"/>
<line x1="550" y1="298.6" x2="550" y2="246" stroke="#e00010" stroke-width="1.6"/>
<path d="M546.3,252 L550,245.3 L553.7,252" fill="none" stroke="#e00010" stroke-width="1.6"/>
<line x1="630.7" y1="302" x2="630.7" y2="256" stroke="#f5b313" stroke-width="1.6"/>
<path d="M627,262 L630.7,255.1 L634.4,262" fill="none" stroke="#f5b313" stroke-width="1.8"/>
<circle cx="524" cy="233" r="4.9" fill="url(#gel)" stroke="#3a6a84" stroke-width="0.5"/>
<text x="524" y="235" font-size="5" text-anchor="middle" fill="#123" font-weight="bold">e</text>
<circle cx="537.3" cy="233" r="4.9" fill="url(#gel)" stroke="#3a6a84" stroke-width="0.5"/>
<text x="537.3" y="235" font-size="5" text-anchor="middle" fill="#123" font-weight="bold">e</text>
<circle cx="550.6" cy="233.5" r="4.9" fill="url(#gel)" stroke="#3a6a84" stroke-width="0.5"/>
<text x="550.6" y="235.5" font-size="5" text-anchor="middle" fill="#123" font-weight="bold">e</text>
<circle cx="564.6" cy="233" r="4.9" fill="url(#gel)" stroke="#3a6a84" stroke-width="0.5"/>
<text x="564.6" y="235" font-size="5" text-anchor="middle" fill="#123" font-weight="bold">e</text>
<circle cx="578.2" cy="232.5" r="4.9" fill="url(#gel)" stroke="#3a6a84" stroke-width="0.5"/>
<text x="578.2" y="234.5" font-size="5" text-anchor="middle" fill="#123" font-weight="bold">e</text>
<circle cx="602" cy="243.6" r="4.9" fill="url(#gel)" stroke="#3a6a84" stroke-width="0.5"/>
<text x="602" y="245.6" font-size="5" text-anchor="middle" fill="#123" font-weight="bold">e</text>
<circle cx="617.4" cy="242" r="4.9" fill="url(#gel)" stroke="#3a6a84" stroke-width="0.5"/>
<text x="617.4" y="244" font-size="5" text-anchor="middle" fill="#123" font-weight="bold">e</text>
<circle cx="630" cy="242" r="4.9" fill="url(#gel)" stroke="#3a6a84" stroke-width="0.5"/>
<text x="630" y="244" font-size="5" text-anchor="middle" fill="#123" font-weight="bold">e</text>
<circle cx="645.6" cy="242" r="4.9" fill="url(#gel)" stroke="#3a6a84" stroke-width="0.5"/>
<text x="645.6" y="244" font-size="5" text-anchor="middle" fill="#123" font-weight="bold">e</text>
<circle cx="660.3" cy="242" r="4.9" fill="url(#gel)" stroke="#3a6a84" stroke-width="0.5"/>
<text x="660.3" y="244" font-size="5" text-anchor="middle" fill="#123" font-weight="bold">e</text>
<circle cx="593.8" cy="252.8" r="4.9" fill="url(#gel)" stroke="#3a6a84" stroke-width="0.5"/>
<text x="593.8" y="254.8" font-size="5" text-anchor="middle" fill="#123" font-weight="bold">e</text>
<circle cx="524" cy="292.6" r="4.9" fill="url(#gho)" stroke="#d07010" stroke-width="0.5"/>
<text x="524" y="294.6" font-size="5" text-anchor="middle" fill="#321" font-weight="bold">h</text>
<circle cx="536.9" cy="292.6" r="4.9" fill="url(#gho)" stroke="#d07010" stroke-width="0.5"/>
<text x="536.9" y="294.6" font-size="5" text-anchor="middle" fill="#321" font-weight="bold">h</text>
<circle cx="549.6" cy="292.6" r="4.9" fill="url(#gho)" stroke="#d07010" stroke-width="0.5"/>
<text x="549.6" y="294.6" font-size="5" text-anchor="middle" fill="#321" font-weight="bold">h</text>
<circle cx="560.5" cy="293" r="4.9" fill="url(#gho)" stroke="#d07010" stroke-width="0.5"/>
<text x="560.5" y="295" font-size="5" text-anchor="middle" fill="#321" font-weight="bold">h</text>
<circle cx="572" cy="292" r="4.9" fill="url(#gho)" stroke="#d07010" stroke-width="0.5"/>
<text x="572" y="294" font-size="5" text-anchor="middle" fill="#321" font-weight="bold">h</text>
<circle cx="603.6" cy="302" r="4.9" fill="url(#gho)" stroke="#d07010" stroke-width="0.5"/>
<text x="603.6" y="304" font-size="5" text-anchor="middle" fill="#321" font-weight="bold">h</text>
<circle cx="616.2" cy="302" r="4.9" fill="url(#gho)" stroke="#d07010" stroke-width="0.5"/>
<text x="616.2" y="304" font-size="5" text-anchor="middle" fill="#321" font-weight="bold">h</text>
<circle cx="628.7" cy="302" r="4.9" fill="url(#gho)" stroke="#d07010" stroke-width="0.5"/>
<text x="628.7" y="304" font-size="5" text-anchor="middle" fill="#321" font-weight="bold">h</text>
<circle cx="641.6" cy="302" r="4.9" fill="url(#gho)" stroke="#d07010" stroke-width="0.5"/>
<text x="641.6" y="304" font-size="5" text-anchor="middle" fill="#321" font-weight="bold">h</text>
<circle cx="655.2" cy="301.5" r="4.9" fill="url(#gho)" stroke="#d07010" stroke-width="0.5"/>
<text x="655.2" y="303.5" font-size="5" text-anchor="middle" fill="#321" font-weight="bold">h</text>
<path d="M582.6,257.3 H587.2 M584.9,255.0 V259.6" stroke="#111" stroke-width="1.2"/>
<path d="M582.6,264.7 H587.2 M584.9,262.4 V267.0" stroke="#111" stroke-width="1.2"/>
<path d="M582.6,272.2 H587.2 M584.9,269.9 V274.5" stroke="#111" stroke-width="1.2"/>
<path d="M582.6,279.6 H587.2 M584.9,277.3 V281.90000000000003" stroke="#111" stroke-width="1.2"/>
<rect x="595.9" y="262.5" width="2.6" height="1.4" fill="#111"/>
<rect x="595.9" y="274.6" width="2.6" height="1.4" fill="#111"/>
<rect x="595.9" y="286.2" width="2.6" height="1.4" fill="#111"/>
<rect x="595.9" y="297.90000000000003" width="2.6" height="1.4" fill="#111"/>
<path d="M518.8,266.3 L529,262.3 L533.7,268.5 L531.9,269.2 L538.1,274.6 L535.5,275.4 L544.7,285.3 L529.7,277.3 L532.6,276.2 L523.9,272.2 L526.4,270.7 Z" fill="url(#gbolt1)" stroke="#3a6ad0" stroke-width="1" stroke-linejoin="round"/>
<path d="M653.5,269.9 L658.7,277.3 L652.2,282.3 L651.6,280.7 L646.7,286.3 L645.4,284.8 L635.2,293.7 L642.3,280.4 L643.3,282.6 L647.9,275.8 L648.8,278 Z" fill="url(#gbolt2)" stroke="#3a6ad0" stroke-width="1" stroke-linejoin="round"/>
<text x="554.60" y="358.60" font-size="11.2" text-anchor="middle" font-weight="bold" fill="#000" >NTL</text>
<text x="632.90" y="358.60" font-size="11.2" text-anchor="middle" font-weight="bold" fill="#000" >TO</text>
<path d="M33.90,523.60 L41.37,522.60 L41.45,505.10 L41.83,505.19 L42.20,505.28 L42.58,505.36 L42.96,505.43 L43.34,505.50 L43.71,505.57 L44.09,505.63 L44.47,505.69 L44.84,505.75 L45.22,505.80 L45.60,505.85 L45.98,505.89 L46.35,505.93 L46.73,505.97 L47.11,506.01 L47.49,506.05 L47.86,506.08 L48.24,506.11 L48.62,506.14 L49.00,506.17 L49.37,506.20 L49.75,506.22 L50.13,506.24 L50.51,506.27 L50.88,506.29 L51.26,506.30 L51.64,506.32 L52.02,506.34 L52.39,506.36 L52.77,506.37 L53.15,506.38 L53.52,506.40 L53.90,506.41 L54.28,506.42 L54.66,506.43 L55.03,506.44 L55.41,506.45 L55.79,506.46 L56.17,506.47 L56.54,506.60 L56.58,524.10 L71.49,522.60 L71.56,522.60 L71.64,506.10 L72.02,506.22 L72.39,506.34 L72.77,506.44 L73.15,506.54 L73.53,506.64 L73.90,506.73 L74.28,506.81 L74.66,506.89 L75.04,506.96 L75.41,507.03 L75.79,507.09 L76.17,507.16 L76.55,507.21 L76.92,507.27 L77.30,507.32 L77.68,507.36 L78.06,507.41 L78.43,507.45 L78.81,507.49 L79.19,507.53 L79.57,507.56 L79.94,507.59 L80.32,507.62 L80.70,507.65 L81.08,507.68 L81.45,507.71 L81.83,507.73 L82.21,507.75 L82.58,507.77 L82.96,507.79 L83.34,507.81 L83.72,507.83 L84.09,507.85 L84.47,507.86 L84.85,507.88 L85.23,507.89 L85.60,507.90 L85.98,507.91 L86.36,507.93 L86.74,508.10 L86.77,524.10 L101.68,522.60 L101.76,522.60 L101.83,502.60 L102.21,505.25 L102.59,506.11 L102.96,506.45 L103.34,506.63 L103.72,506.76 L104.10,506.88 L104.47,506.99 L104.85,507.08 L105.23,507.18 L105.61,507.26 L105.98,507.34 L106.36,507.42 L106.74,507.49 L107.12,507.56 L107.49,507.62 L107.87,507.68 L108.25,507.74 L108.63,507.79 L109.00,507.84 L109.38,507.88 L109.76,507.93 L110.13,507.97 L110.51,508.01 L110.89,508.04 L111.27,508.08 L111.64,508.11 L112.02,508.14 L112.40,508.17 L112.78,508.19 L113.15,508.22 L113.53,508.24 L113.91,508.26 L114.29,508.28 L114.66,508.30 L115.04,508.32 L115.42,508.34 L115.80,508.35 L116.17,508.37 L116.55,508.38 L116.93,508.60 L116.97,524.10 L131.87,522.60 L131.95,523.10 L132.02,506.60 L132.40,506.75 L132.78,506.89 L133.16,507.03 L133.53,507.15 L133.91,507.27 L134.29,507.38 L134.67,507.49 L135.04,507.58 L135.42,507.68 L135.80,507.76 L136.18,507.84 L136.55,507.92 L136.93,507.99 L137.31,508.06 L137.69,508.12 L138.06,508.18 L138.44,508.24 L138.82,508.29 L139.19,508.34 L139.57,508.38 L139.95,508.43 L140.33,508.47 L140.70,508.51 L141.08,508.54 L141.46,508.58 L141.84,508.61 L142.21,508.64 L142.59,508.67 L142.97,508.69 L143.35,508.72 L143.72,508.74 L144.10,508.76 L144.48,508.78 L144.86,508.80 L145.23,508.82 L145.61,508.84 L145.99,508.85 L146.37,508.87 L146.74,508.88 L147.12,509.10 L147.16,524.60 L162.07,523.10 L162.14,523.10 L162.22,504.60 L162.59,506.27 L162.97,506.91 L163.35,507.24 L163.73,507.47 L164.10,507.67 L164.48,507.85 L164.86,508.02 L165.24,508.17 L165.61,508.32 L165.99,508.46 L166.37,508.59 L166.74,508.71 L167.12,508.83 L167.50,508.93 L167.88,509.03 L168.25,509.13 L168.63,509.22 L169.01,509.30 L169.39,509.38 L169.76,509.45 L170.14,509.52 L170.52,509.59 L170.90,509.65 L171.27,509.71 L171.65,509.76 L172.03,509.81 L172.41,509.86 L172.78,509.90 L173.16,509.95 L173.54,509.99 L173.92,510.02 L174.29,510.06 L174.67,510.09 L175.05,510.12 L175.43,510.15 L175.80,510.18 L176.18,510.20 L176.56,510.23 L176.93,510.25 L177.31,510.60 L177.35,524.60 L192.26,523.10 L192.33,523.10 L192.41,507.60 L192.79,507.78 L193.16,507.95 L193.54,508.11 L193.92,508.26 L194.30,508.41 L194.67,508.54 L195.05,508.66 L195.43,508.78 L195.80,508.89 L196.18,508.99 L196.56,509.09 L196.94,509.18 L197.31,509.27 L197.69,509.35 L198.07,509.43 L198.45,509.50 L198.82,509.56 L199.20,509.63 L199.58,509.69 L199.96,509.74 L200.33,509.79 L200.71,509.84 L201.09,509.89 L201.47,509.93 L201.84,509.97 L202.22,510.01 L202.60,510.05 L202.98,510.08 L203.35,510.11 L203.73,510.14 L204.11,510.17 L204.48,510.19 L204.86,510.22 L205.24,510.24 L205.62,510.26 L205.99,510.28 L206.37,510.30 L206.75,510.32 L207.13,510.34 L207.50,510.60 L207.54,524.60 L222.45,523.10" fill="none" stroke="#e0585e" stroke-width="1.2" stroke-linejoin="round"/>
<path d="M33.90,523.60 L41.30,523.10 L41.45,411.10 L41.83,437.32 L42.20,443.62 L42.58,445.47 L42.96,446.33 L43.34,446.97 L43.71,447.55 L44.09,448.12 L44.47,448.68 L44.84,449.24 L45.22,449.79 L45.60,450.34 L45.98,450.89 L46.35,451.43 L46.73,451.97 L47.11,452.51 L47.49,453.04 L47.86,453.56 L48.24,454.08 L48.62,454.60 L49.00,455.11 L49.37,455.62 L49.75,456.12 L50.13,456.62 L50.51,457.11 L50.88,457.59 L51.26,458.07 L51.64,458.54 L52.02,459.00 L52.39,459.46 L52.77,459.91 L53.15,460.34 L53.52,460.77 L53.90,461.19 L54.28,461.60 L54.66,461.99 L55.03,462.37 L55.41,462.73 L55.79,463.06 L56.17,463.37 L56.54,463.60 L56.58,531.60 L57.29,530.72 L58.04,529.93 L58.79,529.23 L59.53,528.60 L60.28,528.03 L61.03,527.52 L61.77,527.07 L62.52,526.66 L63.27,526.30 L64.02,525.97 L64.76,525.68 L65.51,525.42 L66.26,525.18 L67.01,524.97 L67.75,524.79 L68.50,524.62 L69.25,524.47 L69.99,524.33 L70.74,524.21 L71.49,524.10 L71.64,440.10 L72.02,452.87 L72.39,456.51 L72.77,458.06 L73.15,459.08 L73.53,459.94 L73.90,460.71 L74.28,461.43 L74.66,462.09 L75.04,462.71 L75.41,463.28 L75.79,463.81 L76.17,464.30 L76.55,464.75 L76.92,465.18 L77.30,465.57 L77.68,465.93 L78.06,466.27 L78.43,466.58 L78.81,466.87 L79.19,467.14 L79.57,467.39 L79.94,467.62 L80.32,467.84 L80.70,468.04 L81.08,468.22 L81.45,468.39 L81.83,468.55 L82.21,468.70 L82.58,468.84 L82.96,468.97 L83.34,469.08 L83.72,469.19 L84.09,469.30 L84.47,469.39 L84.85,469.48 L85.23,469.56 L85.60,469.63 L85.98,469.70 L86.36,469.77 L86.74,470.60 L86.77,529.60 L87.48,528.49 L88.23,527.49 L88.98,526.60 L89.73,525.80 L90.47,525.08 L91.22,524.44 L91.97,523.86 L92.71,523.35 L93.46,522.89 L94.21,522.47 L94.96,522.10 L95.70,521.77 L96.45,521.47 L97.20,521.21 L97.94,520.97 L98.69,520.75 L99.44,520.56 L100.19,520.39 L100.93,520.24 L101.68,520.10 L101.83,442.60 L102.21,454.27 L102.59,457.44 L102.96,458.66 L103.34,459.42 L103.72,460.03 L104.10,460.58 L104.47,461.09 L104.85,461.56 L105.23,462.00 L105.61,462.40 L105.98,462.78 L106.36,463.13 L106.74,463.45 L107.12,463.75 L107.49,464.03 L107.87,464.29 L108.25,464.53 L108.63,464.75 L109.00,464.95 L109.38,465.15 L109.76,465.32 L110.13,465.49 L110.51,465.64 L110.89,465.78 L111.27,465.91 L111.64,466.03 L112.02,466.15 L112.40,466.25 L112.78,466.35 L113.15,466.44 L113.53,466.52 L113.91,466.60 L114.29,466.67 L114.66,466.74 L115.04,466.80 L115.42,466.86 L115.80,466.91 L116.17,466.96 L116.55,467.01 L116.93,467.60 L116.97,525.60 L117.68,524.96 L118.42,524.38 L119.17,523.86 L119.92,523.40 L120.66,522.98 L121.41,522.61 L122.16,522.28 L122.91,521.98 L123.65,521.71 L124.40,521.47 L125.15,521.26 L125.90,521.07 L126.64,520.89 L127.39,520.74 L128.14,520.60 L128.88,520.48 L129.63,520.37 L130.38,520.27 L131.13,520.18 L131.87,520.10 L132.02,446.10 L132.40,458.86 L132.78,462.22 L133.16,463.44 L133.53,464.15 L133.91,464.72 L134.29,465.22 L134.67,465.68 L135.04,466.11 L135.42,466.51 L135.80,466.88 L136.18,467.22 L136.55,467.53 L136.93,467.83 L137.31,468.10 L137.69,468.35 L138.06,468.59 L138.44,468.81 L138.82,469.01 L139.19,469.19 L139.57,469.37 L139.95,469.53 L140.33,469.68 L140.70,469.82 L141.08,469.95 L141.46,470.07 L141.84,470.18 L142.21,470.28 L142.59,470.38 L142.97,470.46 L143.35,470.55 L143.72,470.62 L144.10,470.69 L144.48,470.76 L144.86,470.82 L145.23,470.88 L145.61,470.93 L145.99,470.98 L146.37,471.02 L146.74,471.06 L147.12,471.60 L147.16,526.10 L147.87,525.46 L148.61,524.88 L149.36,524.36 L150.11,523.90 L150.86,523.48 L151.60,523.11 L152.35,522.78 L153.10,522.48 L153.85,522.21 L154.59,521.97 L155.34,521.76 L156.09,521.57 L156.83,521.39 L157.58,521.24 L158.33,521.10 L159.08,520.98 L159.82,520.87 L160.57,520.77 L161.32,520.68 L162.07,520.60 L162.22,452.60 L162.59,464.83 L162.97,467.97 L163.35,469.05 L163.73,469.64 L164.10,470.09 L164.48,470.50 L164.86,470.87 L165.24,471.21 L165.61,471.53 L165.99,471.82 L166.37,472.09 L166.74,472.35 L167.12,472.58 L167.50,472.80 L167.88,473.00 L168.25,473.19 L168.63,473.36 L169.01,473.53 L169.39,473.68 L169.76,473.81 L170.14,473.94 L170.52,474.06 L170.90,474.17 L171.27,474.28 L171.65,474.37 L172.03,474.46 L172.41,474.54 L172.78,474.62 L173.16,474.69 L173.54,474.76 L173.92,474.82 L174.29,474.87 L174.67,474.93 L175.05,474.98 L175.43,475.02 L175.80,475.06 L176.18,475.10 L176.56,475.14 L176.93,475.17 L177.31,475.60 L177.35,525.60 L178.06,524.96 L178.81,524.38 L179.55,523.86 L180.30,523.40 L181.05,522.98 L181.80,522.61 L182.54,522.28 L183.29,521.98 L184.04,521.71 L184.78,521.47 L185.53,521.26 L186.28,521.07 L187.03,520.89 L187.77,520.74 L188.52,520.60 L189.27,520.48 L190.02,520.37 L190.76,520.27 L191.51,520.18 L192.26,520.10 L192.41,457.60 L192.79,470.82 L193.16,474.04 L193.54,475.02 L193.92,475.48 L194.30,475.81 L194.67,476.09 L195.05,476.35 L195.43,476.58 L195.80,476.80 L196.18,477.00 L196.56,477.19 L196.94,477.36 L197.31,477.53 L197.69,477.68 L198.07,477.81 L198.45,477.94 L198.82,478.06 L199.20,478.17 L199.58,478.28 L199.96,478.37 L200.33,478.46 L200.71,478.54 L201.09,478.62 L201.47,478.69 L201.84,478.76 L202.22,478.82 L202.60,478.87 L202.98,478.93 L203.35,478.98 L203.73,479.02 L204.11,479.06 L204.48,479.10 L204.86,479.14 L205.24,479.17 L205.62,479.20 L205.99,479.23 L206.37,479.26 L206.75,479.28 L207.13,479.30 L207.50,479.60 L207.54,525.10 L208.25,524.46 L209.00,523.88 L209.75,523.36 L210.49,522.90 L211.24,522.48 L211.99,522.11 L212.73,521.78 L213.48,521.48 L214.23,521.21 L214.98,520.97 L215.72,520.76 L216.47,520.57 L217.22,520.39 L217.97,520.24 L218.71,520.10 L219.46,519.98 L220.21,519.87 L220.95,519.77 L221.70,519.68 L222.45,519.60" fill="none" stroke="#3ab4e6" stroke-width="1.3" stroke-linejoin="round"/>
<rect x="33.90" y="385.20" width="188.70" height="150.80" fill="none" stroke="#000" stroke-width="1.3"/>
<line x1="30.90" y1="525.10" x2="33.90" y2="525.10" stroke="#000" stroke-width="1.0" />
<text x="28.70" y="527.90" font-size="9.6" text-anchor="end" font-weight="bold" fill="#000" >0.0</text>
<line x1="30.90" y1="500.10" x2="33.90" y2="500.10" stroke="#000" stroke-width="1.0" />
<text x="28.70" y="502.90" font-size="9.6" text-anchor="end" font-weight="bold" fill="#000" >0.5</text>
<line x1="30.90" y1="475.10" x2="33.90" y2="475.10" stroke="#000" stroke-width="1.0" />
<text x="28.70" y="477.90" font-size="9.6" text-anchor="end" font-weight="bold" fill="#000" >1.0</text>
<line x1="30.90" y1="450.10" x2="33.90" y2="450.10" stroke="#000" stroke-width="1.0" />
<text x="28.70" y="452.90" font-size="9.6" text-anchor="end" font-weight="bold" fill="#000" >1.5</text>
<line x1="30.90" y1="425.10" x2="33.90" y2="425.10" stroke="#000" stroke-width="1.0" />
<text x="28.70" y="427.90" font-size="9.6" text-anchor="end" font-weight="bold" fill="#000" >2.0</text>
<line x1="30.90" y1="400.10" x2="33.90" y2="400.10" stroke="#000" stroke-width="1.0" />
<text x="28.70" y="402.90" font-size="9.6" text-anchor="end" font-weight="bold" fill="#000" >2.5</text>
<line x1="31.90" y1="512.60" x2="33.90" y2="512.60" stroke="#000" stroke-width="1.0" />
<line x1="31.90" y1="487.60" x2="33.90" y2="487.60" stroke="#000" stroke-width="1.0" />
<line x1="31.90" y1="462.60" x2="33.90" y2="462.60" stroke="#000" stroke-width="1.0" />
<line x1="31.90" y1="437.60" x2="33.90" y2="437.60" stroke="#000" stroke-width="1.0" />
<line x1="31.90" y1="412.60" x2="33.90" y2="412.60" stroke="#000" stroke-width="1.0" />
<line x1="31.90" y1="387.60" x2="33.90" y2="387.60" stroke="#000" stroke-width="1.0" />
<line x1="31.90" y1="537.60" x2="33.90" y2="537.60" stroke="#000" stroke-width="1.0" />
<line x1="33.90" y1="536.00" x2="33.90" y2="539.00" stroke="#000" stroke-width="1.0" />
<text x="33.90" y="547.50" font-size="10.2" text-anchor="middle" font-weight="bold" fill="#000" >50</text>
<line x1="71.64" y1="536.00" x2="71.64" y2="539.00" stroke="#000" stroke-width="1.0" />
<text x="71.64" y="547.50" font-size="10.2" text-anchor="middle" font-weight="bold" fill="#000" >100</text>
<line x1="109.38" y1="536.00" x2="109.38" y2="539.00" stroke="#000" stroke-width="1.0" />
<text x="109.38" y="547.50" font-size="10.2" text-anchor="middle" font-weight="bold" fill="#000" >150</text>
<line x1="147.12" y1="536.00" x2="147.12" y2="539.00" stroke="#000" stroke-width="1.0" />
<text x="147.12" y="547.50" font-size="10.2" text-anchor="middle" font-weight="bold" fill="#000" >200</text>
<line x1="184.86" y1="536.00" x2="184.86" y2="539.00" stroke="#000" stroke-width="1.0" />
<text x="184.86" y="547.50" font-size="10.2" text-anchor="middle" font-weight="bold" fill="#000" >250</text>
<line x1="222.60" y1="536.00" x2="222.60" y2="539.00" stroke="#000" stroke-width="1.0" />
<text x="222.60" y="547.50" font-size="10.2" text-anchor="middle" font-weight="bold" fill="#000" >300</text>
<line x1="52.77" y1="536.00" x2="52.77" y2="538.00" stroke="#000" stroke-width="1.0" />
<line x1="90.51" y1="536.00" x2="90.51" y2="538.00" stroke="#000" stroke-width="1.0" />
<line x1="128.25" y1="536.00" x2="128.25" y2="538.00" stroke="#000" stroke-width="1.0" />
<line x1="165.99" y1="536.00" x2="165.99" y2="538.00" stroke="#000" stroke-width="1.0" />
<line x1="203.73" y1="536.00" x2="203.73" y2="538.00" stroke="#000" stroke-width="1.0" />
<text x="2.60" y="377.80" font-size="13.5" text-anchor="start" font-weight="bold" fill="#000" >f</text>
<text x="56.30" y="418.20" font-size="9.6" text-anchor="start" font-weight="bold" fill="#000" >Light on</text>
<text x="76.40" y="441.70" font-size="9.6" text-anchor="start" font-weight="bold" fill="#000" >Light off</text>
<line x1="71.5" y1="421.8" x2="71.5" y2="436" stroke="#000" stroke-width="0.9"/><path d="M69.4,432.5 L71.5,438.3 L73.6,432.5 Z" fill="#000"/>
<line x1="87" y1="444.7" x2="87" y2="466" stroke="#000" stroke-width="0.9"/><path d="M84.9,462.8 L87,468.6 L89.1,462.8 Z" fill="#000"/>
<line x1="144.30" y1="396.50" x2="166.20" y2="396.50" stroke="#e0585e" stroke-width="1.4" />
<line x1="144.30" y1="408.20" x2="166.20" y2="408.20" stroke="#3ab4e6" stroke-width="1.4" />
<text x="169.10" y="399.80" font-size="9.9" text-anchor="start" font-weight="bold" fill="#000" >NTL</text>
<text x="169.10" y="412.20" font-size="9.9" text-anchor="start" font-weight="bold" fill="#000" >D-NTL/TO</text>
<text x="11.20" y="461.00" font-size="11.0" text-anchor="middle" font-weight="bold" transform="rotate(-90 11.20 461.00)">Photocurrent (μA cm<tspan font-size="7" dy="-4">-2</tspan><tspan dy="4">)</tspan></text>
<text x="131.35" y="564.00" font-size="13.2" text-anchor="middle" font-weight="bold" fill="#000" >Time (s)</text>
<g fill="#ec1c24"><circle cx="269.7" cy="506.0" r="1.55"/><circle cx="270.1" cy="515.0" r="1.55"/><circle cx="270.5" cy="526.3" r="1.55"/><circle cx="270.9" cy="500.2" r="1.55"/><circle cx="271.2" cy="537.5" r="1.55"/><circle cx="271.6" cy="519.7" r="1.55"/><circle cx="272.0" cy="515.0" r="1.55"/><circle cx="272.4" cy="511.4" r="1.55"/><circle cx="272.8" cy="519.7" r="1.55"/><circle cx="273.2" cy="526.3" r="1.55"/><circle cx="273.6" cy="515.0" r="1.55"/><circle cx="274.0" cy="511.4" r="1.55"/><circle cx="274.3" cy="519.7" r="1.55"/><circle cx="274.7" cy="537.5" r="1.55"/><circle cx="275.1" cy="501.9" r="1.55"/><circle cx="275.5" cy="519.7" r="1.55"/><circle cx="275.9" cy="503.8" r="1.55"/><circle cx="276.3" cy="519.7" r="1.55"/><circle cx="276.7" cy="506.0" r="1.55"/><circle cx="277.1" cy="519.7" r="1.55"/><circle cx="277.4" cy="519.7" r="1.55"/><circle cx="277.8" cy="506.0" r="1.55"/><circle cx="278.2" cy="511.4" r="1.55"/><circle cx="278.6" cy="506.0" r="1.55"/><circle cx="279.0" cy="508.5" r="1.55"/><circle cx="279.4" cy="515.0" r="1.55"/><circle cx="279.8" cy="519.7" r="1.55"/><circle cx="280.2" cy="508.5" r="1.55"/><circle cx="280.5" cy="500.2" r="1.55"/><circle cx="280.9" cy="526.3" r="1.55"/><circle cx="281.3" cy="506.0" r="1.55"/><circle cx="281.7" cy="508.5" r="1.55"/><circle cx="282.1" cy="511.4" r="1.55"/><circle cx="282.5" cy="515.0" r="1.55"/><circle cx="282.9" cy="506.0" r="1.55"/><circle cx="283.3" cy="519.7" r="1.55"/><circle cx="283.6" cy="508.5" r="1.55"/><circle cx="284.0" cy="511.4" r="1.55"/><circle cx="284.4" cy="515.0" r="1.55"/><circle cx="284.8" cy="515.0" r="1.55"/><circle cx="285.2" cy="506.0" r="1.55"/><circle cx="285.6" cy="506.0" r="1.55"/><circle cx="286.0" cy="503.8" r="1.55"/><circle cx="286.3" cy="511.4" r="1.55"/><circle cx="286.7" cy="515.0" r="1.55"/><circle cx="289.4" cy="414.1" r="1.55"/><circle cx="289.8" cy="406.5" r="1.55"/><circle cx="290.2" cy="397.2" r="1.55"/><circle cx="290.6" cy="390.7" r="1.55"/><circle cx="291.0" cy="392.2" r="1.55"/><circle cx="291.4" cy="396.2" r="1.55"/><circle cx="291.8" cy="397.3" r="1.55"/><circle cx="292.2" cy="403.4" r="1.55"/><circle cx="292.5" cy="409.9" r="1.55"/><circle cx="292.9" cy="411.6" r="1.55"/><circle cx="293.3" cy="415.9" r="1.55"/><circle cx="293.7" cy="417.6" r="1.55"/><circle cx="294.1" cy="419.4" r="1.55"/><circle cx="294.5" cy="422.9" r="1.55"/><circle cx="294.9" cy="426.4" r="1.55"/><circle cx="295.3" cy="426.9" r="1.55"/><circle cx="295.6" cy="432.9" r="1.55"/><circle cx="296.0" cy="436.1" r="1.55"/><circle cx="296.4" cy="433.2" r="1.55"/><circle cx="296.8" cy="440.0" r="1.55"/><circle cx="297.2" cy="442.9" r="1.55"/><circle cx="297.6" cy="443.6" r="1.55"/><circle cx="298.0" cy="442.1" r="1.55"/><circle cx="298.4" cy="447.2" r="1.55"/><circle cx="298.7" cy="446.1" r="1.55"/><circle cx="299.1" cy="451.9" r="1.55"/><circle cx="299.5" cy="454.1" r="1.55"/><circle cx="299.9" cy="454.1" r="1.55"/><circle cx="300.3" cy="455.6" r="1.55"/><circle cx="300.7" cy="455.2" r="1.55"/><circle cx="301.1" cy="458.3" r="1.55"/><circle cx="301.5" cy="457.7" r="1.55"/><circle cx="301.8" cy="461.3" r="1.55"/><circle cx="302.2" cy="460.8" r="1.55"/><circle cx="302.6" cy="464.2" r="1.55"/><circle cx="303.0" cy="468.4" r="1.55"/><circle cx="303.4" cy="466.8" r="1.55"/><circle cx="303.8" cy="467.3" r="1.55"/><circle cx="304.2" cy="470.5" r="1.55"/><circle cx="304.5" cy="473.5" r="1.55"/><circle cx="304.9" cy="477.4" r="1.55"/><circle cx="305.3" cy="476.3" r="1.55"/><circle cx="305.7" cy="476.3" r="1.55"/><circle cx="306.1" cy="477.1" r="1.55"/><circle cx="306.5" cy="480.3" r="1.55"/><circle cx="306.9" cy="480.7" r="1.55"/><circle cx="307.3" cy="482.1" r="1.55"/><circle cx="307.6" cy="484.8" r="1.55"/><circle cx="308.0" cy="484.7" r="1.55"/><circle cx="308.4" cy="488.0" r="1.55"/><circle cx="308.8" cy="489.0" r="1.55"/><circle cx="309.2" cy="488.9" r="1.55"/><circle cx="309.6" cy="492.2" r="1.55"/><circle cx="310.0" cy="495.3" r="1.55"/><circle cx="310.4" cy="495.2" r="1.55"/><circle cx="310.7" cy="494.0" r="1.55"/><circle cx="311.1" cy="496.5" r="1.55"/><circle cx="311.5" cy="497.9" r="1.55"/><circle cx="311.9" cy="498.3" r="1.55"/><circle cx="312.3" cy="498.6" r="1.55"/><circle cx="312.7" cy="500.1" r="1.55"/><circle cx="313.1" cy="502.4" r="1.55"/><circle cx="313.5" cy="504.7" r="1.55"/><circle cx="313.8" cy="504.4" r="1.55"/><circle cx="314.2" cy="507.0" r="1.55"/><circle cx="314.6" cy="505.3" r="1.55"/><circle cx="315.0" cy="503.8" r="1.55"/><circle cx="315.4" cy="508.5" r="1.55"/><circle cx="315.8" cy="511.4" r="1.55"/><circle cx="316.2" cy="537.5" r="1.55"/><circle cx="316.6" cy="508.5" r="1.55"/><circle cx="316.9" cy="503.8" r="1.55"/><circle cx="317.3" cy="519.7" r="1.55"/><circle cx="317.7" cy="526.3" r="1.55"/><circle cx="318.1" cy="503.8" r="1.55"/><circle cx="318.5" cy="503.8" r="1.55"/><circle cx="318.9" cy="519.7" r="1.55"/><circle cx="319.3" cy="503.8" r="1.55"/><circle cx="319.6" cy="515.0" r="1.55"/><circle cx="320.0" cy="515.0" r="1.55"/><circle cx="320.4" cy="519.7" r="1.55"/><circle cx="320.8" cy="511.4" r="1.55"/><circle cx="321.2" cy="511.4" r="1.55"/><circle cx="321.6" cy="519.7" r="1.55"/><circle cx="322.0" cy="506.0" r="1.55"/><circle cx="322.4" cy="498.7" r="1.55"/><circle cx="322.7" cy="506.0" r="1.55"/><circle cx="323.1" cy="511.4" r="1.55"/><circle cx="323.5" cy="537.5" r="1.55"/><circle cx="323.9" cy="515.0" r="1.55"/><circle cx="324.3" cy="511.4" r="1.55"/><circle cx="324.7" cy="519.7" r="1.55"/><circle cx="325.1" cy="506.0" r="1.55"/><circle cx="325.5" cy="508.5" r="1.55"/><circle cx="325.8" cy="508.5" r="1.55"/><circle cx="326.2" cy="506.0" r="1.55"/><circle cx="326.6" cy="511.4" r="1.55"/><circle cx="327.0" cy="511.4" r="1.55"/><circle cx="327.4" cy="506.0" r="1.55"/><circle cx="327.8" cy="519.7" r="1.55"/><circle cx="328.2" cy="508.5" r="1.55"/><circle cx="328.6" cy="508.5" r="1.55"/><circle cx="328.9" cy="511.4" r="1.55"/><circle cx="329.3" cy="526.3" r="1.55"/><circle cx="329.7" cy="506.0" r="1.55"/><circle cx="330.1" cy="508.5" r="1.55"/><circle cx="330.5" cy="519.7" r="1.55"/><circle cx="330.9" cy="508.5" r="1.55"/><circle cx="331.3" cy="515.0" r="1.55"/><circle cx="331.7" cy="511.4" r="1.55"/><circle cx="332.0" cy="506.0" r="1.55"/><circle cx="332.4" cy="515.0" r="1.55"/><circle cx="332.8" cy="506.0" r="1.55"/><circle cx="333.2" cy="515.0" r="1.55"/><circle cx="333.6" cy="506.0" r="1.55"/><circle cx="334.0" cy="508.5" r="1.55"/><circle cx="334.4" cy="511.4" r="1.55"/><circle cx="334.7" cy="519.7" r="1.55"/><circle cx="335.1" cy="526.3" r="1.55"/><circle cx="335.5" cy="508.5" r="1.55"/><circle cx="335.9" cy="515.0" r="1.55"/><circle cx="336.3" cy="515.0" r="1.55"/><circle cx="336.7" cy="511.4" r="1.55"/><circle cx="337.1" cy="508.5" r="1.55"/><circle cx="337.5" cy="511.4" r="1.55"/><circle cx="337.8" cy="508.5" r="1.55"/><circle cx="338.2" cy="515.0" r="1.55"/><circle cx="338.6" cy="526.3" r="1.55"/><circle cx="339.0" cy="508.5" r="1.55"/><circle cx="339.4" cy="506.0" r="1.55"/><circle cx="339.8" cy="511.4" r="1.55"/><circle cx="340.2" cy="511.4" r="1.55"/><circle cx="340.6" cy="506.0" r="1.55"/><circle cx="340.9" cy="506.0" r="1.55"/><circle cx="341.3" cy="506.0" r="1.55"/><circle cx="341.7" cy="503.8" r="1.55"/><circle cx="342.1" cy="506.0" r="1.55"/><circle cx="342.5" cy="508.5" r="1.55"/><circle cx="342.9" cy="508.5" r="1.55"/><circle cx="343.3" cy="511.4" r="1.55"/><circle cx="343.7" cy="515.0" r="1.55"/><circle cx="344.0" cy="508.5" r="1.55"/><circle cx="344.4" cy="511.4" r="1.55"/><circle cx="344.8" cy="519.7" r="1.55"/><circle cx="345.2" cy="508.5" r="1.55"/><circle cx="345.6" cy="519.7" r="1.55"/><circle cx="346.0" cy="501.9" r="1.55"/><circle cx="346.4" cy="515.0" r="1.55"/><circle cx="346.8" cy="515.0" r="1.55"/><circle cx="347.1" cy="506.0" r="1.55"/><circle cx="347.5" cy="515.0" r="1.55"/><circle cx="347.9" cy="515.0" r="1.55"/><circle cx="348.3" cy="498.7" r="1.55"/><circle cx="348.7" cy="501.9" r="1.55"/><circle cx="349.1" cy="506.0" r="1.55"/><circle cx="349.5" cy="519.7" r="1.55"/><circle cx="349.9" cy="506.0" r="1.55"/><circle cx="350.2" cy="515.0" r="1.55"/><circle cx="350.6" cy="511.4" r="1.55"/><circle cx="351.0" cy="501.9" r="1.55"/><circle cx="351.4" cy="511.4" r="1.55"/><circle cx="351.8" cy="511.4" r="1.55"/><circle cx="352.2" cy="506.0" r="1.55"/><circle cx="352.6" cy="511.4" r="1.55"/><circle cx="352.9" cy="506.0" r="1.55"/><circle cx="353.3" cy="508.5" r="1.55"/><circle cx="353.7" cy="519.7" r="1.55"/><circle cx="354.1" cy="501.9" r="1.55"/><circle cx="354.5" cy="501.9" r="1.55"/><circle cx="354.9" cy="508.5" r="1.55"/><circle cx="355.3" cy="537.5" r="1.55"/><circle cx="355.7" cy="497.2" r="1.55"/><circle cx="356.0" cy="515.0" r="1.55"/><circle cx="356.4" cy="506.0" r="1.55"/><circle cx="356.8" cy="511.4" r="1.55"/><circle cx="357.2" cy="515.0" r="1.55"/><circle cx="357.6" cy="506.0" r="1.55"/><circle cx="358.0" cy="506.0" r="1.55"/><circle cx="358.4" cy="519.7" r="1.55"/><circle cx="358.8" cy="503.8" r="1.55"/><circle cx="359.1" cy="515.0" r="1.55"/><circle cx="359.5" cy="501.9" r="1.55"/><circle cx="359.9" cy="503.8" r="1.55"/><circle cx="360.3" cy="508.5" r="1.55"/><circle cx="360.7" cy="511.4" r="1.55"/><circle cx="361.1" cy="503.8" r="1.55"/><circle cx="361.5" cy="511.4" r="1.55"/><circle cx="361.9" cy="515.0" r="1.55"/><circle cx="362.2" cy="511.4" r="1.55"/><circle cx="362.6" cy="519.7" r="1.55"/><circle cx="363.0" cy="515.0" r="1.55"/><circle cx="363.4" cy="515.0" r="1.55"/><circle cx="363.8" cy="503.8" r="1.55"/><circle cx="364.2" cy="515.0" r="1.55"/><circle cx="364.6" cy="506.0" r="1.55"/><circle cx="365.0" cy="519.7" r="1.55"/><circle cx="365.3" cy="519.7" r="1.55"/><circle cx="365.7" cy="519.7" r="1.55"/><circle cx="366.1" cy="503.8" r="1.55"/><circle cx="366.5" cy="515.0" r="1.55"/><circle cx="366.9" cy="519.7" r="1.55"/><circle cx="367.3" cy="515.0" r="1.55"/><circle cx="367.7" cy="506.0" r="1.55"/><circle cx="368.0" cy="515.0" r="1.55"/><circle cx="368.4" cy="526.3" r="1.55"/><circle cx="368.8" cy="506.0" r="1.55"/><circle cx="369.2" cy="511.4" r="1.55"/><circle cx="369.6" cy="511.4" r="1.55"/><circle cx="370.0" cy="519.7" r="1.55"/><circle cx="370.4" cy="515.0" r="1.55"/><circle cx="370.8" cy="503.8" r="1.55"/><circle cx="371.1" cy="515.0" r="1.55"/><circle cx="371.5" cy="508.5" r="1.55"/><circle cx="371.9" cy="508.5" r="1.55"/><circle cx="372.3" cy="519.7" r="1.55"/><circle cx="372.7" cy="519.7" r="1.55"/><circle cx="373.1" cy="508.5" r="1.55"/><circle cx="373.5" cy="515.0" r="1.55"/><circle cx="373.9" cy="515.0" r="1.55"/><circle cx="374.2" cy="515.0" r="1.55"/><circle cx="374.6" cy="501.9" r="1.55"/><circle cx="375.0" cy="503.8" r="1.55"/><circle cx="375.4" cy="515.0" r="1.55"/><circle cx="375.8" cy="515.0" r="1.55"/><circle cx="376.2" cy="500.2" r="1.55"/><circle cx="376.6" cy="515.0" r="1.55"/><circle cx="377.0" cy="508.5" r="1.55"/><circle cx="377.3" cy="511.4" r="1.55"/><circle cx="377.7" cy="515.0" r="1.55"/><circle cx="378.1" cy="508.5" r="1.55"/><circle cx="378.5" cy="508.5" r="1.55"/><circle cx="378.9" cy="511.4" r="1.55"/><circle cx="379.3" cy="511.4" r="1.55"/><circle cx="379.7" cy="515.0" r="1.55"/><circle cx="380.1" cy="511.4" r="1.55"/><circle cx="380.4" cy="519.7" r="1.55"/><circle cx="380.8" cy="508.5" r="1.55"/><circle cx="381.2" cy="515.0" r="1.55"/><circle cx="381.6" cy="511.4" r="1.55"/><circle cx="382.0" cy="537.5" r="1.55"/><circle cx="382.4" cy="506.0" r="1.55"/><circle cx="382.8" cy="515.0" r="1.55"/><circle cx="383.1" cy="511.4" r="1.55"/><circle cx="383.5" cy="501.9" r="1.55"/><circle cx="383.9" cy="506.0" r="1.55"/><circle cx="384.3" cy="506.0" r="1.55"/><circle cx="384.7" cy="506.0" r="1.55"/><circle cx="385.1" cy="537.5" r="1.55"/><circle cx="385.5" cy="506.0" r="1.55"/><circle cx="385.9" cy="511.4" r="1.55"/><circle cx="386.2" cy="515.0" r="1.55"/><circle cx="386.6" cy="511.4" r="1.55"/><circle cx="387.0" cy="503.8" r="1.55"/><circle cx="387.4" cy="511.4" r="1.55"/><circle cx="387.8" cy="503.8" r="1.55"/><circle cx="388.2" cy="511.4" r="1.55"/><circle cx="388.6" cy="511.4" r="1.55"/><circle cx="389.0" cy="515.0" r="1.55"/><circle cx="389.3" cy="515.0" r="1.55"/><circle cx="389.7" cy="519.7" r="1.55"/><circle cx="390.1" cy="498.7" r="1.55"/><circle cx="390.5" cy="526.3" r="1.55"/><circle cx="390.9" cy="503.8" r="1.55"/><circle cx="391.3" cy="508.5" r="1.55"/><circle cx="391.7" cy="508.5" r="1.55"/><circle cx="392.1" cy="506.0" r="1.55"/><circle cx="392.4" cy="511.4" r="1.55"/><circle cx="392.8" cy="519.7" r="1.55"/><circle cx="393.2" cy="506.0" r="1.55"/><circle cx="393.6" cy="511.4" r="1.55"/><circle cx="394.0" cy="508.5" r="1.55"/><circle cx="394.4" cy="508.5" r="1.55"/><circle cx="394.8" cy="508.5" r="1.55"/><circle cx="395.2" cy="508.5" r="1.55"/><circle cx="395.5" cy="511.4" r="1.55"/><circle cx="395.9" cy="511.4" r="1.55"/><circle cx="396.3" cy="508.5" r="1.55"/><circle cx="396.7" cy="508.5" r="1.55"/><circle cx="397.1" cy="511.4" r="1.55"/><circle cx="397.5" cy="511.4" r="1.55"/><circle cx="397.9" cy="511.4" r="1.55"/><circle cx="398.3" cy="519.7" r="1.55"/><circle cx="398.6" cy="508.5" r="1.55"/><circle cx="399.0" cy="506.0" r="1.55"/><circle cx="399.4" cy="508.5" r="1.55"/><circle cx="399.8" cy="506.0" r="1.55"/><circle cx="400.2" cy="508.5" r="1.55"/><circle cx="400.6" cy="511.4" r="1.55"/><circle cx="401.0" cy="508.5" r="1.55"/><circle cx="401.3" cy="508.5" r="1.55"/><circle cx="401.7" cy="508.5" r="1.55"/><circle cx="402.1" cy="515.0" r="1.55"/><circle cx="402.5" cy="508.5" r="1.55"/><circle cx="402.9" cy="511.4" r="1.55"/><circle cx="403.3" cy="506.0" r="1.55"/><circle cx="403.7" cy="537.5" r="1.55"/><circle cx="404.1" cy="519.7" r="1.55"/><circle cx="404.4" cy="515.0" r="1.55"/><circle cx="404.8" cy="526.3" r="1.55"/><circle cx="405.2" cy="508.5" r="1.55"/><circle cx="405.6" cy="503.8" r="1.55"/><circle cx="406.0" cy="501.9" r="1.55"/><circle cx="406.4" cy="515.0" r="1.55"/><circle cx="406.8" cy="501.9" r="1.55"/><circle cx="407.2" cy="526.3" r="1.55"/><circle cx="407.5" cy="519.7" r="1.55"/><circle cx="407.9" cy="498.7" r="1.55"/><circle cx="408.3" cy="526.3" r="1.55"/><circle cx="408.7" cy="537.5" r="1.55"/><circle cx="409.1" cy="515.0" r="1.55"/><circle cx="409.5" cy="511.4" r="1.55"/><circle cx="409.9" cy="503.8" r="1.55"/><circle cx="410.3" cy="506.0" r="1.55"/><circle cx="410.6" cy="500.2" r="1.55"/><circle cx="411.0" cy="500.2" r="1.55"/><circle cx="411.4" cy="506.0" r="1.55"/><circle cx="411.8" cy="515.0" r="1.55"/><circle cx="412.2" cy="508.5" r="1.55"/><circle cx="412.6" cy="515.0" r="1.55"/><circle cx="413.0" cy="506.0" r="1.55"/><circle cx="413.4" cy="503.8" r="1.55"/><circle cx="413.7" cy="508.5" r="1.55"/><circle cx="414.1" cy="515.0" r="1.55"/><circle cx="414.5" cy="508.5" r="1.55"/><circle cx="414.9" cy="519.7" r="1.55"/><circle cx="415.3" cy="519.7" r="1.55"/><circle cx="415.7" cy="498.7" r="1.55"/><circle cx="416.1" cy="506.0" r="1.55"/><circle cx="416.4" cy="501.9" r="1.55"/><circle cx="416.8" cy="537.5" r="1.55"/><circle cx="417.2" cy="519.7" r="1.55"/><circle cx="417.6" cy="511.4" r="1.55"/><circle cx="418.0" cy="515.0" r="1.55"/><circle cx="418.4" cy="503.8" r="1.55"/><circle cx="418.8" cy="511.4" r="1.55"/><circle cx="419.2" cy="508.5" r="1.55"/><circle cx="419.5" cy="519.7" r="1.55"/><circle cx="419.9" cy="508.5" r="1.55"/><circle cx="420.3" cy="503.8" r="1.55"/><circle cx="420.7" cy="515.0" r="1.55"/><circle cx="421.1" cy="511.4" r="1.55"/><circle cx="421.5" cy="515.0" r="1.55"/><circle cx="421.9" cy="506.0" r="1.55"/><circle cx="422.3" cy="506.0" r="1.55"/><circle cx="422.6" cy="506.0" r="1.55"/><circle cx="423.0" cy="511.4" r="1.55"/><circle cx="423.4" cy="511.4" r="1.55"/><circle cx="423.8" cy="501.9" r="1.55"/><circle cx="424.2" cy="508.5" r="1.55"/><circle cx="424.6" cy="506.0" r="1.55"/><circle cx="425.0" cy="500.2" r="1.55"/><circle cx="425.4" cy="515.0" r="1.55"/><circle cx="425.7" cy="511.4" r="1.55"/><circle cx="426.1" cy="511.4" r="1.55"/><circle cx="426.5" cy="515.0" r="1.55"/><circle cx="426.9" cy="537.5" r="1.55"/><circle cx="427.3" cy="511.4" r="1.55"/><circle cx="427.7" cy="508.5" r="1.55"/><circle cx="428.1" cy="506.0" r="1.55"/><circle cx="428.5" cy="511.4" r="1.55"/><circle cx="428.8" cy="537.5" r="1.55"/><circle cx="429.2" cy="515.0" r="1.55"/><circle cx="429.6" cy="526.3" r="1.55"/><circle cx="430.0" cy="515.0" r="1.55"/><circle cx="430.4" cy="508.5" r="1.55"/><circle cx="430.8" cy="508.5" r="1.55"/><circle cx="431.2" cy="508.5" r="1.55"/><circle cx="431.5" cy="515.0" r="1.55"/><circle cx="431.9" cy="519.7" r="1.55"/><circle cx="432.3" cy="506.0" r="1.55"/><circle cx="432.7" cy="508.5" r="1.55"/><circle cx="433.1" cy="508.5" r="1.55"/><circle cx="433.5" cy="515.0" r="1.55"/><circle cx="433.9" cy="511.4" r="1.55"/><circle cx="434.3" cy="526.3" r="1.55"/><circle cx="434.6" cy="506.0" r="1.55"/><circle cx="435.0" cy="519.7" r="1.55"/><circle cx="435.4" cy="508.5" r="1.55"/><circle cx="435.8" cy="526.3" r="1.55"/><circle cx="436.2" cy="511.4" r="1.55"/><circle cx="436.6" cy="506.0" r="1.55"/><circle cx="437.0" cy="508.5" r="1.55"/><circle cx="437.4" cy="515.0" r="1.55"/><circle cx="437.7" cy="526.3" r="1.55"/><circle cx="438.1" cy="511.4" r="1.55"/><circle cx="438.5" cy="501.9" r="1.55"/><circle cx="438.9" cy="511.4" r="1.55"/><circle cx="439.3" cy="515.0" r="1.55"/><circle cx="439.7" cy="511.4" r="1.55"/><circle cx="440.1" cy="519.7" r="1.55"/><circle cx="440.5" cy="511.4" r="1.55"/><circle cx="440.8" cy="537.5" r="1.55"/><circle cx="441.2" cy="508.5" r="1.55"/><circle cx="441.6" cy="511.4" r="1.55"/><circle cx="442.0" cy="526.3" r="1.55"/><circle cx="442.4" cy="519.7" r="1.55"/><circle cx="442.8" cy="508.5" r="1.55"/><circle cx="443.2" cy="515.0" r="1.55"/><circle cx="443.6" cy="506.0" r="1.55"/><circle cx="443.9" cy="519.7" r="1.55"/><circle cx="444.3" cy="537.5" r="1.55"/><circle cx="444.7" cy="511.4" r="1.55"/><circle cx="445.1" cy="506.0" r="1.55"/><circle cx="445.5" cy="500.2" r="1.55"/><circle cx="445.9" cy="506.0" r="1.55"/><circle cx="446.3" cy="519.7" r="1.55"/><circle cx="446.7" cy="503.8" r="1.55"/><circle cx="447.0" cy="519.7" r="1.55"/><circle cx="447.4" cy="503.8" r="1.55"/><circle cx="447.8" cy="511.4" r="1.55"/><circle cx="448.2" cy="526.3" r="1.55"/><circle cx="448.6" cy="506.0" r="1.55"/><circle cx="449.0" cy="508.5" r="1.55"/><circle cx="449.4" cy="537.5" r="1.55"/><circle cx="449.7" cy="508.5" r="1.55"/><circle cx="450.1" cy="503.8" r="1.55"/><circle cx="450.5" cy="519.7" r="1.55"/><circle cx="450.9" cy="511.4" r="1.55"/><circle cx="451.3" cy="519.7" r="1.55"/><circle cx="451.7" cy="508.5" r="1.55"/><circle cx="452.1" cy="515.0" r="1.55"/><circle cx="452.5" cy="519.7" r="1.55"/><circle cx="452.8" cy="508.5" r="1.55"/><circle cx="453.2" cy="519.7" r="1.55"/><circle cx="453.6" cy="519.7" r="1.55"/><circle cx="454.0" cy="511.4" r="1.55"/><circle cx="454.4" cy="508.5" r="1.55"/><circle cx="454.8" cy="506.0" r="1.55"/><circle cx="455.2" cy="519.7" r="1.55"/><circle cx="455.6" cy="519.7" r="1.55"/><circle cx="455.9" cy="515.0" r="1.55"/><circle cx="456.3" cy="515.0" r="1.55"/><circle cx="456.7" cy="515.0" r="1.55"/><circle cx="457.1" cy="508.5" r="1.55"/><circle cx="457.5" cy="508.5" r="1.55"/><circle cx="457.9" cy="508.5" r="1.55"/><circle cx="458.3" cy="511.4" r="1.55"/><circle cx="458.7" cy="515.0" r="1.55"/><circle cx="459.0" cy="515.0" r="1.55"/><circle cx="459.4" cy="519.7" r="1.55"/><circle cx="459.8" cy="508.5" r="1.55"/><circle cx="460.2" cy="508.5" r="1.55"/><circle cx="460.6" cy="519.7" r="1.55"/><circle cx="461.0" cy="511.4" r="1.55"/><circle cx="461.4" cy="508.5" r="1.55"/><circle cx="461.8" cy="537.5" r="1.55"/><circle cx="462.1" cy="519.7" r="1.55"/><circle cx="462.5" cy="519.7" r="1.55"/><circle cx="462.9" cy="515.0" r="1.55"/><circle cx="463.3" cy="506.0" r="1.55"/><circle cx="287.2" cy="446.2" r="1.55"/><circle cx="287.2" cy="436.2" r="1.55"/><circle cx="287.2" cy="407.3" r="1.55"/><circle cx="287.2" cy="398.9" r="1.55"/></g>
<g fill="#8fd3f2" stroke="#40aee0" stroke-width="0.55"><circle cx="269.7" cy="501.9" r="1.6"/><circle cx="270.1" cy="489.8" r="1.6"/><circle cx="270.3" cy="498.7" r="1.6"/><circle cx="270.5" cy="503.8" r="1.6"/><circle cx="270.7" cy="501.9" r="1.6"/><circle cx="270.9" cy="495.9" r="1.6"/><circle cx="271.2" cy="491.6" r="1.6"/><circle cx="271.4" cy="501.9" r="1.6"/><circle cx="271.6" cy="500.2" r="1.6"/><circle cx="272.0" cy="501.9" r="1.6"/><circle cx="272.2" cy="501.9" r="1.6"/><circle cx="272.4" cy="501.9" r="1.6"/><circle cx="272.6" cy="492.6" r="1.6"/><circle cx="272.8" cy="495.9" r="1.6"/><circle cx="273.2" cy="491.6" r="1.6"/><circle cx="273.6" cy="501.9" r="1.6"/><circle cx="274.0" cy="498.7" r="1.6"/><circle cx="274.2" cy="493.6" r="1.6"/><circle cx="274.3" cy="508.5" r="1.6"/><circle cx="274.7" cy="503.8" r="1.6"/><circle cx="274.9" cy="500.2" r="1.6"/><circle cx="275.1" cy="491.6" r="1.6"/><circle cx="275.3" cy="497.2" r="1.6"/><circle cx="275.5" cy="500.2" r="1.6"/><circle cx="275.9" cy="497.2" r="1.6"/><circle cx="276.1" cy="498.7" r="1.6"/><circle cx="276.3" cy="493.6" r="1.6"/><circle cx="276.5" cy="500.2" r="1.6"/><circle cx="276.7" cy="503.8" r="1.6"/><circle cx="277.1" cy="497.2" r="1.6"/><circle cx="277.3" cy="498.7" r="1.6"/><circle cx="277.4" cy="511.4" r="1.6"/><circle cx="277.6" cy="495.9" r="1.6"/><circle cx="277.8" cy="498.7" r="1.6"/><circle cx="278.0" cy="492.6" r="1.6"/><circle cx="278.2" cy="492.6" r="1.6"/><circle cx="278.4" cy="497.2" r="1.6"/><circle cx="278.6" cy="492.6" r="1.6"/><circle cx="279.0" cy="494.7" r="1.6"/><circle cx="279.2" cy="500.2" r="1.6"/><circle cx="279.4" cy="497.2" r="1.6"/><circle cx="279.6" cy="491.6" r="1.6"/><circle cx="279.8" cy="492.6" r="1.6"/><circle cx="280.0" cy="501.9" r="1.6"/><circle cx="280.2" cy="489.0" r="1.6"/><circle cx="280.3" cy="503.8" r="1.6"/><circle cx="280.5" cy="503.8" r="1.6"/><circle cx="280.7" cy="492.6" r="1.6"/><circle cx="280.9" cy="491.6" r="1.6"/><circle cx="281.1" cy="500.2" r="1.6"/><circle cx="281.3" cy="501.9" r="1.6"/><circle cx="281.7" cy="500.2" r="1.6"/><circle cx="282.1" cy="497.2" r="1.6"/><circle cx="282.5" cy="498.7" r="1.6"/><circle cx="282.7" cy="493.6" r="1.6"/><circle cx="282.9" cy="497.2" r="1.6"/><circle cx="283.3" cy="501.9" r="1.6"/><circle cx="283.4" cy="500.2" r="1.6"/><circle cx="283.6" cy="488.2" r="1.6"/><circle cx="284.0" cy="498.7" r="1.6"/><circle cx="284.2" cy="498.7" r="1.6"/><circle cx="284.4" cy="492.6" r="1.6"/><circle cx="284.8" cy="494.7" r="1.6"/><circle cx="285.0" cy="501.9" r="1.6"/><circle cx="285.2" cy="494.7" r="1.6"/><circle cx="285.6" cy="498.7" r="1.6"/><circle cx="285.8" cy="503.8" r="1.6"/><circle cx="286.0" cy="494.7" r="1.6"/><circle cx="286.2" cy="498.7" r="1.6"/><circle cx="286.3" cy="497.2" r="1.6"/><circle cx="286.5" cy="497.2" r="1.6"/><circle cx="286.7" cy="498.7" r="1.6"/><circle cx="286.9" cy="503.8" r="1.6"/><circle cx="289.1" cy="511.4" r="1.6"/><circle cx="289.3" cy="500.2" r="1.6"/><circle cx="289.4" cy="412.8" r="1.6"/><circle cx="289.6" cy="408.7" r="1.6"/><circle cx="289.8" cy="403.3" r="1.6"/><circle cx="290.0" cy="400.0" r="1.6"/><circle cx="290.2" cy="395.9" r="1.6"/><circle cx="290.4" cy="393.2" r="1.6"/><circle cx="290.6" cy="391.5" r="1.6"/><circle cx="290.8" cy="388.8" r="1.6"/><circle cx="291.0" cy="390.2" r="1.6"/><circle cx="291.2" cy="388.4" r="1.6"/><circle cx="291.4" cy="391.5" r="1.6"/><circle cx="292.7" cy="394.0" r="1.6"/><circle cx="291.6" cy="396.2" r="1.6"/><circle cx="291.8" cy="397.3" r="1.6"/><circle cx="293.1" cy="396.4" r="1.6"/><circle cx="292.0" cy="399.2" r="1.6"/><circle cx="292.2" cy="402.1" r="1.6"/><circle cx="293.5" cy="401.6" r="1.6"/><circle cx="292.4" cy="403.8" r="1.6"/><circle cx="292.5" cy="406.1" r="1.6"/><circle cx="293.9" cy="405.4" r="1.6"/><circle cx="292.7" cy="408.5" r="1.6"/><circle cx="292.9" cy="410.5" r="1.6"/><circle cx="294.3" cy="411.5" r="1.6"/><circle cx="293.1" cy="413.5" r="1.6"/><circle cx="293.3" cy="415.2" r="1.6"/><circle cx="294.7" cy="414.7" r="1.6"/><circle cx="293.5" cy="416.4" r="1.6"/><circle cx="293.7" cy="415.8" r="1.6"/><circle cx="295.1" cy="416.8" r="1.6"/><circle cx="293.9" cy="418.1" r="1.6"/><circle cx="294.1" cy="420.5" r="1.6"/><circle cx="295.4" cy="420.7" r="1.6"/><circle cx="294.3" cy="421.4" r="1.6"/><circle cx="294.5" cy="424.4" r="1.6"/><circle cx="295.8" cy="424.8" r="1.6"/><circle cx="294.7" cy="424.5" r="1.6"/><circle cx="294.9" cy="425.1" r="1.6"/><circle cx="296.2" cy="425.7" r="1.6"/><circle cx="295.1" cy="426.6" r="1.6"/><circle cx="295.3" cy="429.1" r="1.6"/><circle cx="296.6" cy="427.7" r="1.6"/><circle cx="295.4" cy="428.2" r="1.6"/><circle cx="295.6" cy="432.3" r="1.6"/><circle cx="297.0" cy="431.9" r="1.6"/><circle cx="295.8" cy="432.0" r="1.6"/><circle cx="296.0" cy="432.1" r="1.6"/><circle cx="297.4" cy="432.7" r="1.6"/><circle cx="296.2" cy="434.3" r="1.6"/><circle cx="296.4" cy="434.8" r="1.6"/><circle cx="297.8" cy="436.2" r="1.6"/><circle cx="296.6" cy="437.4" r="1.6"/><circle cx="296.8" cy="436.5" r="1.6"/><circle cx="298.2" cy="435.1" r="1.6"/><circle cx="297.0" cy="439.2" r="1.6"/><circle cx="297.2" cy="439.2" r="1.6"/><circle cx="298.5" cy="436.3" r="1.6"/><circle cx="297.4" cy="440.3" r="1.6"/><circle cx="297.6" cy="441.6" r="1.6"/><circle cx="298.9" cy="442.4" r="1.6"/><circle cx="297.8" cy="443.6" r="1.6"/><circle cx="298.0" cy="444.4" r="1.6"/><circle cx="299.3" cy="445.5" r="1.6"/><circle cx="298.2" cy="446.4" r="1.6"/><circle cx="298.4" cy="446.6" r="1.6"/><circle cx="299.7" cy="446.9" r="1.6"/><circle cx="298.5" cy="447.1" r="1.6"/><circle cx="298.7" cy="449.1" r="1.6"/><circle cx="300.1" cy="448.5" r="1.6"/><circle cx="298.9" cy="448.1" r="1.6"/><circle cx="299.1" cy="450.7" r="1.6"/><circle cx="300.5" cy="449.3" r="1.6"/><circle cx="299.3" cy="451.2" r="1.6"/><circle cx="299.5" cy="454.1" r="1.6"/><circle cx="300.9" cy="453.7" r="1.6"/><circle cx="299.7" cy="451.8" r="1.6"/><circle cx="299.9" cy="453.7" r="1.6"/><circle cx="301.3" cy="453.3" r="1.6"/><circle cx="300.1" cy="454.3" r="1.6"/><circle cx="300.3" cy="455.0" r="1.6"/><circle cx="301.6" cy="454.6" r="1.6"/><circle cx="300.5" cy="457.2" r="1.6"/><circle cx="300.7" cy="457.8" r="1.6"/><circle cx="302.0" cy="455.6" r="1.6"/><circle cx="300.9" cy="457.1" r="1.6"/><circle cx="301.1" cy="460.3" r="1.6"/><circle cx="302.4" cy="456.7" r="1.6"/><circle cx="301.3" cy="459.3" r="1.6"/><circle cx="301.5" cy="459.9" r="1.6"/><circle cx="302.8" cy="460.3" r="1.6"/><circle cx="301.6" cy="458.8" r="1.6"/><circle cx="301.8" cy="462.6" r="1.6"/><circle cx="303.2" cy="461.6" r="1.6"/><circle cx="302.0" cy="460.7" r="1.6"/><circle cx="302.2" cy="465.6" r="1.6"/><circle cx="303.6" cy="461.9" r="1.6"/><circle cx="302.4" cy="464.0" r="1.6"/><circle cx="302.6" cy="464.4" r="1.6"/><circle cx="304.0" cy="463.0" r="1.6"/><circle cx="302.8" cy="466.6" r="1.6"/><circle cx="303.0" cy="467.2" r="1.6"/><circle cx="304.4" cy="467.1" r="1.6"/><circle cx="303.2" cy="466.4" r="1.6"/><circle cx="303.4" cy="467.5" r="1.6"/><circle cx="304.7" cy="466.8" r="1.6"/><circle cx="303.6" cy="465.4" r="1.6"/><circle cx="303.8" cy="467.6" r="1.6"/><circle cx="305.1" cy="470.0" r="1.6"/><circle cx="304.0" cy="468.5" r="1.6"/><circle cx="304.2" cy="467.6" r="1.6"/><circle cx="305.5" cy="469.4" r="1.6"/><circle cx="304.4" cy="469.5" r="1.6"/><circle cx="304.5" cy="469.9" r="1.6"/><circle cx="305.9" cy="468.5" r="1.6"/><circle cx="304.7" cy="470.2" r="1.6"/><circle cx="304.9" cy="470.6" r="1.6"/><circle cx="306.3" cy="471.3" r="1.6"/><circle cx="305.1" cy="471.0" r="1.6"/><circle cx="305.3" cy="475.1" r="1.6"/><circle cx="306.7" cy="473.6" r="1.6"/><circle cx="305.5" cy="471.9" r="1.6"/><circle cx="305.7" cy="471.9" r="1.6"/><circle cx="307.1" cy="471.9" r="1.6"/><circle cx="305.9" cy="473.8" r="1.6"/><circle cx="306.1" cy="472.5" r="1.6"/><circle cx="307.5" cy="474.2" r="1.6"/><circle cx="306.3" cy="476.9" r="1.6"/><circle cx="306.5" cy="475.9" r="1.6"/><circle cx="307.8" cy="475.5" r="1.6"/><circle cx="306.7" cy="478.0" r="1.6"/><circle cx="306.9" cy="474.9" r="1.6"/><circle cx="308.2" cy="474.7" r="1.6"/><circle cx="307.1" cy="476.9" r="1.6"/><circle cx="307.3" cy="475.2" r="1.6"/><circle cx="308.6" cy="477.5" r="1.6"/><circle cx="307.5" cy="477.4" r="1.6"/><circle cx="307.6" cy="477.9" r="1.6"/><circle cx="309.0" cy="478.0" r="1.6"/><circle cx="307.8" cy="476.9" r="1.6"/><circle cx="308.0" cy="476.9" r="1.6"/><circle cx="309.4" cy="476.9" r="1.6"/><circle cx="308.2" cy="478.1" r="1.6"/><circle cx="308.4" cy="478.7" r="1.6"/><circle cx="309.8" cy="477.2" r="1.6"/><circle cx="308.6" cy="480.2" r="1.6"/><circle cx="308.8" cy="479.8" r="1.6"/><circle cx="310.2" cy="481.7" r="1.6"/><circle cx="309.0" cy="480.2" r="1.6"/><circle cx="309.2" cy="481.6" r="1.6"/><circle cx="310.5" cy="481.1" r="1.6"/><circle cx="309.4" cy="481.1" r="1.6"/><circle cx="309.6" cy="481.1" r="1.6"/><circle cx="310.9" cy="480.0" r="1.6"/><circle cx="309.8" cy="482.7" r="1.6"/><circle cx="310.0" cy="481.8" r="1.6"/><circle cx="311.3" cy="481.3" r="1.6"/><circle cx="310.2" cy="481.4" r="1.6"/><circle cx="310.4" cy="482.8" r="1.6"/><circle cx="311.7" cy="482.9" r="1.6"/><circle cx="310.5" cy="483.0" r="1.6"/><circle cx="310.7" cy="482.0" r="1.6"/><circle cx="312.1" cy="482.5" r="1.6"/><circle cx="310.9" cy="483.9" r="1.6"/><circle cx="311.1" cy="482.0" r="1.6"/><circle cx="312.5" cy="482.3" r="1.6"/><circle cx="311.3" cy="487.0" r="1.6"/><circle cx="311.5" cy="484.4" r="1.6"/><circle cx="312.9" cy="481.3" r="1.6"/><circle cx="311.7" cy="485.9" r="1.6"/><circle cx="311.9" cy="483.2" r="1.6"/><circle cx="313.3" cy="485.8" r="1.6"/><circle cx="312.1" cy="484.6" r="1.6"/><circle cx="312.3" cy="487.4" r="1.6"/><circle cx="313.6" cy="485.6" r="1.6"/><circle cx="312.5" cy="486.4" r="1.6"/><circle cx="312.7" cy="485.7" r="1.6"/><circle cx="314.0" cy="486.4" r="1.6"/><circle cx="312.9" cy="484.6" r="1.6"/><circle cx="313.1" cy="488.1" r="1.6"/><circle cx="314.4" cy="487.2" r="1.6"/><circle cx="313.3" cy="487.8" r="1.6"/><circle cx="313.5" cy="488.2" r="1.6"/><circle cx="314.8" cy="487.7" r="1.6"/><circle cx="313.6" cy="488.3" r="1.6"/><circle cx="313.8" cy="487.4" r="1.6"/><circle cx="315.2" cy="486.9" r="1.6"/><circle cx="314.0" cy="487.2" r="1.6"/><circle cx="314.2" cy="486.9" r="1.6"/><circle cx="315.6" cy="489.7" r="1.6"/><circle cx="314.4" cy="488.2" r="1.6"/><circle cx="314.6" cy="488.1" r="1.6"/><circle cx="316.0" cy="490.5" r="1.6"/><circle cx="314.8" cy="489.9" r="1.6"/><circle cx="315.0" cy="488.8" r="1.6"/><circle cx="316.4" cy="488.3" r="1.6"/><circle cx="315.2" cy="487.4" r="1.6"/><circle cx="315.4" cy="491.1" r="1.6"/><circle cx="316.7" cy="488.8" r="1.6"/><circle cx="315.6" cy="489.7" r="1.6"/><circle cx="315.8" cy="491.0" r="1.6"/><circle cx="317.1" cy="490.2" r="1.6"/><circle cx="316.0" cy="493.1" r="1.6"/><circle cx="316.2" cy="491.3" r="1.6"/><circle cx="317.5" cy="490.8" r="1.6"/><circle cx="316.4" cy="490.8" r="1.6"/><circle cx="316.6" cy="489.9" r="1.6"/><circle cx="317.9" cy="490.2" r="1.6"/><circle cx="316.7" cy="492.8" r="1.6"/><circle cx="316.9" cy="491.2" r="1.6"/><circle cx="318.3" cy="489.5" r="1.6"/><circle cx="317.1" cy="491.5" r="1.6"/><circle cx="317.3" cy="491.7" r="1.6"/><circle cx="318.7" cy="492.2" r="1.6"/><circle cx="317.5" cy="491.9" r="1.6"/><circle cx="317.7" cy="491.6" r="1.6"/><circle cx="319.1" cy="492.7" r="1.6"/><circle cx="317.9" cy="492.4" r="1.6"/><circle cx="318.1" cy="500.2" r="1.6"/><circle cx="318.3" cy="501.9" r="1.6"/><circle cx="318.5" cy="493.6" r="1.6"/><circle cx="318.7" cy="494.7" r="1.6"/><circle cx="318.9" cy="500.2" r="1.6"/><circle cx="319.1" cy="495.9" r="1.6"/><circle cx="319.3" cy="494.7" r="1.6"/><circle cx="319.5" cy="494.7" r="1.6"/><circle cx="319.6" cy="489.0" r="1.6"/><circle cx="320.0" cy="503.8" r="1.6"/><circle cx="320.4" cy="498.7" r="1.6"/><circle cx="320.6" cy="495.9" r="1.6"/><circle cx="320.8" cy="498.7" r="1.6"/><circle cx="321.0" cy="498.7" r="1.6"/><circle cx="321.2" cy="501.9" r="1.6"/><circle cx="321.4" cy="503.8" r="1.6"/><circle cx="321.6" cy="503.8" r="1.6"/><circle cx="322.0" cy="503.8" r="1.6"/><circle cx="322.2" cy="501.9" r="1.6"/><circle cx="322.4" cy="491.6" r="1.6"/><circle cx="322.6" cy="495.9" r="1.6"/><circle cx="322.7" cy="497.2" r="1.6"/><circle cx="322.9" cy="495.9" r="1.6"/><circle cx="323.1" cy="493.6" r="1.6"/><circle cx="323.5" cy="498.7" r="1.6"/><circle cx="323.9" cy="500.2" r="1.6"/><circle cx="324.1" cy="498.7" r="1.6"/><circle cx="324.3" cy="501.9" r="1.6"/><circle cx="324.5" cy="489.8" r="1.6"/><circle cx="324.7" cy="500.2" r="1.6"/><circle cx="324.9" cy="497.2" r="1.6"/><circle cx="325.1" cy="500.2" r="1.6"/><circle cx="325.3" cy="494.7" r="1.6"/><circle cx="325.5" cy="501.9" r="1.6"/><circle cx="325.8" cy="495.9" r="1.6"/><circle cx="326.2" cy="501.9" r="1.6"/><circle cx="326.4" cy="498.7" r="1.6"/><circle cx="326.6" cy="498.7" r="1.6"/><circle cx="326.8" cy="497.2" r="1.6"/><circle cx="327.0" cy="498.7" r="1.6"/><circle cx="327.2" cy="491.6" r="1.6"/><circle cx="327.4" cy="495.9" r="1.6"/><circle cx="327.8" cy="498.7" r="1.6"/><circle cx="328.0" cy="500.2" r="1.6"/><circle cx="328.2" cy="492.6" r="1.6"/><circle cx="328.4" cy="497.2" r="1.6"/><circle cx="328.6" cy="497.2" r="1.6"/><circle cx="328.7" cy="503.8" r="1.6"/><circle cx="328.9" cy="501.9" r="1.6"/><circle cx="329.1" cy="497.2" r="1.6"/><circle cx="329.3" cy="491.6" r="1.6"/><circle cx="329.7" cy="497.2" r="1.6"/><circle cx="329.9" cy="501.9" r="1.6"/><circle cx="330.1" cy="508.5" r="1.6"/><circle cx="330.3" cy="491.6" r="1.6"/><circle cx="330.5" cy="490.7" r="1.6"/><circle cx="330.7" cy="497.2" r="1.6"/><circle cx="330.9" cy="495.9" r="1.6"/><circle cx="331.1" cy="511.4" r="1.6"/><circle cx="331.3" cy="491.6" r="1.6"/><circle cx="331.7" cy="495.9" r="1.6"/><circle cx="332.0" cy="500.2" r="1.6"/><circle cx="332.2" cy="495.9" r="1.6"/><circle cx="332.4" cy="492.6" r="1.6"/><circle cx="332.6" cy="491.6" r="1.6"/><circle cx="332.8" cy="495.9" r="1.6"/><circle cx="333.0" cy="503.8" r="1.6"/><circle cx="333.2" cy="501.9" r="1.6"/><circle cx="333.4" cy="492.6" r="1.6"/><circle cx="333.6" cy="492.6" r="1.6"/><circle cx="333.8" cy="503.8" r="1.6"/><circle cx="334.0" cy="508.5" r="1.6"/><circle cx="334.2" cy="493.6" r="1.6"/><circle cx="334.4" cy="498.7" r="1.6"/><circle cx="334.7" cy="508.5" r="1.6"/><circle cx="335.1" cy="497.2" r="1.6"/><circle cx="335.3" cy="497.2" r="1.6"/><circle cx="335.5" cy="511.4" r="1.6"/><circle cx="335.7" cy="495.9" r="1.6"/><circle cx="335.9" cy="493.6" r="1.6"/><circle cx="336.1" cy="497.2" r="1.6"/><circle cx="336.3" cy="506.0" r="1.6"/><circle cx="336.7" cy="501.9" r="1.6"/><circle cx="337.1" cy="497.2" r="1.6"/><circle cx="337.3" cy="489.8" r="1.6"/><circle cx="337.5" cy="500.2" r="1.6"/><circle cx="337.7" cy="494.7" r="1.6"/><circle cx="337.8" cy="497.2" r="1.6"/><circle cx="338.0" cy="497.2" r="1.6"/><circle cx="338.2" cy="493.6" r="1.6"/><circle cx="338.6" cy="492.6" r="1.6"/><circle cx="338.8" cy="492.6" r="1.6"/><circle cx="339.0" cy="503.8" r="1.6"/><circle cx="339.4" cy="495.9" r="1.6"/><circle cx="339.6" cy="501.9" r="1.6"/><circle cx="339.8" cy="494.7" r="1.6"/><circle cx="340.2" cy="497.2" r="1.6"/><circle cx="340.6" cy="492.6" r="1.6"/><circle cx="340.8" cy="497.2" r="1.6"/><circle cx="340.9" cy="498.7" r="1.6"/><circle cx="341.1" cy="489.0" r="1.6"/><circle cx="341.3" cy="497.2" r="1.6"/><circle cx="341.5" cy="489.0" r="1.6"/><circle cx="341.7" cy="500.2" r="1.6"/><circle cx="342.1" cy="493.6" r="1.6"/><circle cx="342.3" cy="506.0" r="1.6"/><circle cx="342.5" cy="501.9" r="1.6"/><circle cx="342.7" cy="498.7" r="1.6"/><circle cx="342.9" cy="494.7" r="1.6"/><circle cx="343.3" cy="494.7" r="1.6"/><circle cx="343.7" cy="495.9" r="1.6"/><circle cx="343.8" cy="497.2" r="1.6"/><circle cx="344.0" cy="495.9" r="1.6"/><circle cx="344.4" cy="500.2" r="1.6"/><circle cx="344.8" cy="494.7" r="1.6"/><circle cx="345.0" cy="498.7" r="1.6"/><circle cx="345.2" cy="501.9" r="1.6"/><circle cx="345.4" cy="491.6" r="1.6"/><circle cx="345.6" cy="494.7" r="1.6"/><circle cx="346.0" cy="503.8" r="1.6"/><circle cx="346.2" cy="497.2" r="1.6"/><circle cx="346.4" cy="500.2" r="1.6"/><circle cx="346.6" cy="500.2" r="1.6"/><circle cx="346.8" cy="497.2" r="1.6"/><circle cx="347.1" cy="498.7" r="1.6"/><circle cx="347.5" cy="503.8" r="1.6"/><circle cx="347.7" cy="500.2" r="1.6"/><circle cx="347.9" cy="489.8" r="1.6"/><circle cx="348.1" cy="486.7" r="1.6"/><circle cx="348.3" cy="497.2" r="1.6"/><circle cx="348.7" cy="494.7" r="1.6"/><circle cx="348.9" cy="494.7" r="1.6"/><circle cx="349.1" cy="498.7" r="1.6"/><circle cx="349.5" cy="501.9" r="1.6"/><circle cx="349.9" cy="500.2" r="1.6"/><circle cx="350.0" cy="495.9" r="1.6"/><circle cx="350.2" cy="498.7" r="1.6"/><circle cx="350.6" cy="511.4" r="1.6"/><circle cx="351.0" cy="495.9" r="1.6"/><circle cx="351.2" cy="503.8" r="1.6"/><circle cx="351.4" cy="501.9" r="1.6"/><circle cx="351.8" cy="506.0" r="1.6"/><circle cx="352.0" cy="491.6" r="1.6"/><circle cx="352.2" cy="503.8" r="1.6"/><circle cx="352.4" cy="492.6" r="1.6"/><circle cx="352.6" cy="500.2" r="1.6"/><circle cx="352.8" cy="500.2" r="1.6"/><circle cx="352.9" cy="495.9" r="1.6"/><circle cx="353.1" cy="501.9" r="1.6"/><circle cx="353.3" cy="501.9" r="1.6"/><circle cx="353.5" cy="494.7" r="1.6"/><circle cx="353.7" cy="494.7" r="1.6"/><circle cx="353.9" cy="490.7" r="1.6"/><circle cx="354.1" cy="500.2" r="1.6"/><circle cx="354.5" cy="487.4" r="1.6"/><circle cx="354.7" cy="494.7" r="1.6"/><circle cx="354.9" cy="495.9" r="1.6"/><circle cx="355.1" cy="490.7" r="1.6"/><circle cx="355.3" cy="490.7" r="1.6"/><circle cx="355.5" cy="503.8" r="1.6"/><circle cx="355.7" cy="494.7" r="1.6"/><circle cx="355.9" cy="497.2" r="1.6"/><circle cx="356.0" cy="492.6" r="1.6"/><circle cx="356.2" cy="492.6" r="1.6"/><circle cx="356.4" cy="500.2" r="1.6"/><circle cx="356.6" cy="498.7" r="1.6"/><circle cx="356.8" cy="501.9" r="1.6"/><circle cx="357.2" cy="498.7" r="1.6"/><circle cx="357.4" cy="500.2" r="1.6"/><circle cx="357.6" cy="493.6" r="1.6"/><circle cx="357.8" cy="500.2" r="1.6"/><circle cx="358.0" cy="498.7" r="1.6"/><circle cx="358.4" cy="492.6" r="1.6"/><circle cx="358.6" cy="503.8" r="1.6"/><circle cx="358.8" cy="497.2" r="1.6"/><circle cx="358.9" cy="500.2" r="1.6"/><circle cx="359.1" cy="500.2" r="1.6"/><circle cx="359.3" cy="503.8" r="1.6"/><circle cx="359.5" cy="489.8" r="1.6"/><circle cx="359.7" cy="492.6" r="1.6"/><circle cx="359.9" cy="498.7" r="1.6"/><circle cx="360.3" cy="503.8" r="1.6"/><circle cx="360.7" cy="500.2" r="1.6"/><circle cx="360.9" cy="497.2" r="1.6"/><circle cx="361.1" cy="495.9" r="1.6"/><circle cx="361.3" cy="497.2" r="1.6"/><circle cx="361.5" cy="506.0" r="1.6"/><circle cx="361.7" cy="498.7" r="1.6"/><circle cx="361.9" cy="498.7" r="1.6"/><circle cx="362.2" cy="498.7" r="1.6"/><circle cx="362.4" cy="506.0" r="1.6"/><circle cx="362.6" cy="506.0" r="1.6"/><circle cx="363.0" cy="501.9" r="1.6"/><circle cx="363.2" cy="503.8" r="1.6"/><circle cx="363.4" cy="494.7" r="1.6"/><circle cx="363.6" cy="497.2" r="1.6"/><circle cx="363.8" cy="501.9" r="1.6"/><circle cx="364.0" cy="500.2" r="1.6"/><circle cx="364.2" cy="494.7" r="1.6"/><circle cx="364.4" cy="495.9" r="1.6"/><circle cx="364.6" cy="492.6" r="1.6"/><circle cx="365.0" cy="494.7" r="1.6"/><circle cx="365.1" cy="494.7" r="1.6"/><circle cx="365.3" cy="497.2" r="1.6"/><circle cx="365.5" cy="495.9" r="1.6"/><circle cx="365.7" cy="503.8" r="1.6"/><circle cx="365.9" cy="495.9" r="1.6"/><circle cx="366.1" cy="495.9" r="1.6"/><circle cx="366.5" cy="489.8" r="1.6"/><circle cx="366.9" cy="491.6" r="1.6"/><circle cx="367.1" cy="497.2" r="1.6"/><circle cx="367.3" cy="498.7" r="1.6"/><circle cx="367.5" cy="498.7" r="1.6"/><circle cx="367.7" cy="494.7" r="1.6"/><circle cx="367.9" cy="498.7" r="1.6"/><circle cx="368.0" cy="501.9" r="1.6"/><circle cx="368.2" cy="493.6" r="1.6"/><circle cx="368.4" cy="500.2" r="1.6"/><circle cx="368.8" cy="493.6" r="1.6"/><circle cx="369.2" cy="494.7" r="1.6"/><circle cx="369.4" cy="492.6" r="1.6"/><circle cx="369.6" cy="498.7" r="1.6"/><circle cx="370.0" cy="508.5" r="1.6"/><circle cx="370.4" cy="503.8" r="1.6"/><circle cx="370.8" cy="493.6" r="1.6"/><circle cx="371.0" cy="508.5" r="1.6"/><circle cx="371.1" cy="501.9" r="1.6"/><circle cx="371.5" cy="497.2" r="1.6"/><circle cx="371.7" cy="498.7" r="1.6"/><circle cx="371.9" cy="493.6" r="1.6"/><circle cx="372.1" cy="503.8" r="1.6"/><circle cx="372.3" cy="497.2" r="1.6"/><circle cx="372.7" cy="501.9" r="1.6"/><circle cx="372.9" cy="508.5" r="1.6"/><circle cx="373.1" cy="495.9" r="1.6"/><circle cx="373.3" cy="508.5" r="1.6"/><circle cx="373.5" cy="495.9" r="1.6"/><circle cx="373.9" cy="490.7" r="1.6"/><circle cx="374.2" cy="492.6" r="1.6"/><circle cx="374.6" cy="506.0" r="1.6"/><circle cx="375.0" cy="508.5" r="1.6"/><circle cx="375.4" cy="492.6" r="1.6"/><circle cx="375.6" cy="494.7" r="1.6"/><circle cx="375.8" cy="498.7" r="1.6"/><circle cx="376.2" cy="497.2" r="1.6"/><circle cx="376.4" cy="503.8" r="1.6"/><circle cx="376.6" cy="501.9" r="1.6"/><circle cx="377.0" cy="495.9" r="1.6"/><circle cx="377.3" cy="495.9" r="1.6"/><circle cx="377.7" cy="497.2" r="1.6"/><circle cx="378.1" cy="497.2" r="1.6"/><circle cx="378.3" cy="493.6" r="1.6"/><circle cx="378.5" cy="491.6" r="1.6"/><circle cx="378.7" cy="498.7" r="1.6"/><circle cx="378.9" cy="503.8" r="1.6"/><circle cx="379.1" cy="495.9" r="1.6"/><circle cx="379.3" cy="501.9" r="1.6"/><circle cx="379.5" cy="486.0" r="1.6"/><circle cx="379.7" cy="495.9" r="1.6"/><circle cx="379.9" cy="498.7" r="1.6"/><circle cx="380.1" cy="500.2" r="1.6"/><circle cx="380.2" cy="495.9" r="1.6"/><circle cx="380.4" cy="498.7" r="1.6"/><circle cx="380.6" cy="501.9" r="1.6"/><circle cx="380.8" cy="493.6" r="1.6"/><circle cx="381.0" cy="500.2" r="1.6"/><circle cx="381.2" cy="508.5" r="1.6"/><circle cx="381.6" cy="493.6" r="1.6"/><circle cx="382.0" cy="492.6" r="1.6"/><circle cx="382.2" cy="498.7" r="1.6"/><circle cx="382.4" cy="498.7" r="1.6"/><circle cx="382.6" cy="506.0" r="1.6"/><circle cx="382.8" cy="501.9" r="1.6"/><circle cx="383.0" cy="500.2" r="1.6"/><circle cx="383.1" cy="491.6" r="1.6"/><circle cx="383.3" cy="494.7" r="1.6"/><circle cx="383.5" cy="503.8" r="1.6"/><circle cx="383.7" cy="498.7" r="1.6"/><circle cx="383.9" cy="508.5" r="1.6"/><circle cx="384.1" cy="492.6" r="1.6"/><circle cx="384.3" cy="495.9" r="1.6"/><circle cx="384.7" cy="503.8" r="1.6"/><circle cx="384.9" cy="498.7" r="1.6"/><circle cx="385.1" cy="501.9" r="1.6"/><circle cx="385.3" cy="497.2" r="1.6"/><circle cx="385.5" cy="500.2" r="1.6"/><circle cx="385.7" cy="492.6" r="1.6"/><circle cx="385.9" cy="489.8" r="1.6"/><circle cx="386.2" cy="492.6" r="1.6"/><circle cx="386.4" cy="495.9" r="1.6"/><circle cx="386.6" cy="497.2" r="1.6"/><circle cx="386.8" cy="494.7" r="1.6"/><circle cx="387.0" cy="497.2" r="1.6"/><circle cx="387.2" cy="492.6" r="1.6"/><circle cx="387.4" cy="501.9" r="1.6"/><circle cx="387.8" cy="500.2" r="1.6"/><circle cx="388.0" cy="494.7" r="1.6"/><circle cx="388.2" cy="500.2" r="1.6"/><circle cx="388.6" cy="506.0" r="1.6"/><circle cx="389.0" cy="490.7" r="1.6"/><circle cx="389.2" cy="494.7" r="1.6"/><circle cx="389.3" cy="500.2" r="1.6"/><circle cx="389.7" cy="497.2" r="1.6"/><circle cx="390.1" cy="511.4" r="1.6"/><circle cx="390.3" cy="493.6" r="1.6"/><circle cx="390.5" cy="492.6" r="1.6"/><circle cx="390.7" cy="495.9" r="1.6"/><circle cx="390.9" cy="494.7" r="1.6"/><circle cx="391.3" cy="497.2" r="1.6"/><circle cx="391.5" cy="497.2" r="1.6"/><circle cx="391.7" cy="497.2" r="1.6"/><circle cx="392.1" cy="491.6" r="1.6"/><circle cx="392.2" cy="498.7" r="1.6"/><circle cx="392.4" cy="500.2" r="1.6"/><circle cx="392.6" cy="491.6" r="1.6"/><circle cx="392.8" cy="495.9" r="1.6"/><circle cx="393.2" cy="497.2" r="1.6"/><circle cx="393.6" cy="501.9" r="1.6"/><circle cx="393.8" cy="491.6" r="1.6"/><circle cx="394.0" cy="497.2" r="1.6"/><circle cx="394.2" cy="498.7" r="1.6"/><circle cx="394.4" cy="490.7" r="1.6"/><circle cx="394.8" cy="500.2" r="1.6"/><circle cx="395.2" cy="497.2" r="1.6"/><circle cx="395.3" cy="501.9" r="1.6"/><circle cx="395.5" cy="501.9" r="1.6"/><circle cx="395.9" cy="494.7" r="1.6"/><circle cx="396.1" cy="497.2" r="1.6"/><circle cx="396.3" cy="501.9" r="1.6"/><circle cx="396.7" cy="501.9" r="1.6"/><circle cx="396.9" cy="498.7" r="1.6"/><circle cx="397.1" cy="500.2" r="1.6"/><circle cx="397.5" cy="493.6" r="1.6"/><circle cx="397.7" cy="491.6" r="1.6"/><circle cx="397.9" cy="503.8" r="1.6"/><circle cx="398.3" cy="491.6" r="1.6"/><circle cx="398.4" cy="506.0" r="1.6"/><circle cx="398.6" cy="508.5" r="1.6"/><circle cx="399.0" cy="511.4" r="1.6"/><circle cx="399.2" cy="490.7" r="1.6"/><circle cx="399.4" cy="498.7" r="1.6"/><circle cx="399.6" cy="498.7" r="1.6"/><circle cx="399.8" cy="494.7" r="1.6"/><circle cx="400.0" cy="491.6" r="1.6"/><circle cx="400.2" cy="501.9" r="1.6"/><circle cx="400.4" cy="498.7" r="1.6"/><circle cx="400.6" cy="501.9" r="1.6"/><circle cx="400.8" cy="497.2" r="1.6"/><circle cx="401.0" cy="497.2" r="1.6"/><circle cx="401.2" cy="506.0" r="1.6"/><circle cx="401.3" cy="494.7" r="1.6"/><circle cx="401.5" cy="494.7" r="1.6"/><circle cx="401.7" cy="503.8" r="1.6"/><circle cx="401.9" cy="495.9" r="1.6"/><circle cx="402.1" cy="497.2" r="1.6"/><circle cx="402.3" cy="495.9" r="1.6"/><circle cx="402.5" cy="492.6" r="1.6"/><circle cx="402.7" cy="494.7" r="1.6"/><circle cx="402.9" cy="495.9" r="1.6"/><circle cx="403.3" cy="493.6" r="1.6"/><circle cx="403.5" cy="491.6" r="1.6"/><circle cx="403.7" cy="500.2" r="1.6"/><circle cx="404.1" cy="500.2" r="1.6"/><circle cx="404.3" cy="506.0" r="1.6"/><circle cx="404.4" cy="492.6" r="1.6"/><circle cx="404.6" cy="498.7" r="1.6"/><circle cx="404.8" cy="492.6" r="1.6"/><circle cx="405.0" cy="511.4" r="1.6"/><circle cx="405.2" cy="490.7" r="1.6"/><circle cx="405.6" cy="495.9" r="1.6"/><circle cx="406.0" cy="511.4" r="1.6"/><circle cx="406.2" cy="498.7" r="1.6"/><circle cx="406.4" cy="501.9" r="1.6"/><circle cx="406.6" cy="501.9" r="1.6"/><circle cx="406.8" cy="495.9" r="1.6"/><circle cx="407.0" cy="490.7" r="1.6"/><circle cx="407.2" cy="500.2" r="1.6"/><circle cx="407.3" cy="497.2" r="1.6"/><circle cx="407.5" cy="498.7" r="1.6"/><circle cx="407.9" cy="498.7" r="1.6"/><circle cx="408.1" cy="491.6" r="1.6"/><circle cx="408.3" cy="495.9" r="1.6"/><circle cx="408.5" cy="500.2" r="1.6"/><circle cx="408.7" cy="501.9" r="1.6"/><circle cx="409.1" cy="495.9" r="1.6"/><circle cx="409.5" cy="500.2" r="1.6"/><circle cx="409.9" cy="503.8" r="1.6"/><circle cx="410.1" cy="503.8" r="1.6"/><circle cx="410.3" cy="498.7" r="1.6"/><circle cx="410.4" cy="489.8" r="1.6"/><circle cx="410.6" cy="491.6" r="1.6"/><circle cx="410.8" cy="500.2" r="1.6"/><circle cx="411.0" cy="494.7" r="1.6"/><circle cx="411.4" cy="503.8" r="1.6"/><circle cx="411.6" cy="495.9" r="1.6"/><circle cx="411.8" cy="497.2" r="1.6"/><circle cx="412.2" cy="501.9" r="1.6"/><circle cx="412.6" cy="506.0" r="1.6"/><circle cx="412.8" cy="492.6" r="1.6"/><circle cx="413.0" cy="494.7" r="1.6"/><circle cx="413.2" cy="498.7" r="1.6"/><circle cx="413.4" cy="501.9" r="1.6"/><circle cx="413.7" cy="500.2" r="1.6"/><circle cx="413.9" cy="494.7" r="1.6"/><circle cx="414.1" cy="500.2" r="1.6"/><circle cx="414.3" cy="503.8" r="1.6"/><circle cx="414.5" cy="503.8" r="1.6"/><circle cx="414.9" cy="506.0" r="1.6"/><circle cx="415.1" cy="489.0" r="1.6"/><circle cx="415.3" cy="498.7" r="1.6"/><circle cx="415.5" cy="497.2" r="1.6"/><circle cx="415.7" cy="498.7" r="1.6"/><circle cx="416.1" cy="503.8" r="1.6"/><circle cx="416.3" cy="497.2" r="1.6"/><circle cx="416.4" cy="493.6" r="1.6"/><circle cx="416.8" cy="498.7" r="1.6"/><circle cx="417.2" cy="492.6" r="1.6"/><circle cx="417.4" cy="494.7" r="1.6"/><circle cx="417.6" cy="508.5" r="1.6"/><circle cx="417.8" cy="498.7" r="1.6"/><circle cx="418.0" cy="493.6" r="1.6"/><circle cx="418.2" cy="497.2" r="1.6"/><circle cx="418.4" cy="494.7" r="1.6"/><circle cx="418.8" cy="500.2" r="1.6"/><circle cx="419.0" cy="497.2" r="1.6"/><circle cx="419.2" cy="497.2" r="1.6"/><circle cx="419.5" cy="506.0" r="1.6"/><circle cx="419.7" cy="489.0" r="1.6"/><circle cx="419.9" cy="500.2" r="1.6"/><circle cx="420.3" cy="492.6" r="1.6"/><circle cx="420.7" cy="501.9" r="1.6"/><circle cx="421.1" cy="495.9" r="1.6"/><circle cx="421.3" cy="493.6" r="1.6"/><circle cx="421.5" cy="508.5" r="1.6"/><circle cx="421.7" cy="495.9" r="1.6"/><circle cx="421.9" cy="494.7" r="1.6"/><circle cx="422.1" cy="511.4" r="1.6"/><circle cx="422.3" cy="497.2" r="1.6"/><circle cx="422.5" cy="498.7" r="1.6"/><circle cx="422.6" cy="508.5" r="1.6"/><circle cx="422.8" cy="497.2" r="1.6"/><circle cx="423.0" cy="494.7" r="1.6"/><circle cx="423.2" cy="489.0" r="1.6"/><circle cx="423.4" cy="497.2" r="1.6"/><circle cx="423.6" cy="498.7" r="1.6"/><circle cx="423.8" cy="493.6" r="1.6"/><circle cx="424.2" cy="495.9" r="1.6"/><circle cx="424.6" cy="498.7" r="1.6"/><circle cx="424.8" cy="506.0" r="1.6"/><circle cx="425.0" cy="492.6" r="1.6"/><circle cx="425.2" cy="500.2" r="1.6"/><circle cx="425.4" cy="494.7" r="1.6"/><circle cx="425.7" cy="500.2" r="1.6"/><circle cx="426.1" cy="494.7" r="1.6"/><circle cx="426.5" cy="500.2" r="1.6"/><circle cx="426.9" cy="498.7" r="1.6"/><circle cx="427.1" cy="490.7" r="1.6"/><circle cx="427.3" cy="494.7" r="1.6"/><circle cx="427.5" cy="494.7" r="1.6"/><circle cx="427.7" cy="491.6" r="1.6"/><circle cx="427.9" cy="494.7" r="1.6"/><circle cx="428.1" cy="492.6" r="1.6"/><circle cx="428.3" cy="500.2" r="1.6"/><circle cx="428.5" cy="500.2" r="1.6"/><circle cx="428.8" cy="508.5" r="1.6"/><circle cx="429.0" cy="500.2" r="1.6"/><circle cx="429.2" cy="497.2" r="1.6"/><circle cx="429.4" cy="501.9" r="1.6"/><circle cx="429.6" cy="506.0" r="1.6"/><circle cx="430.0" cy="495.9" r="1.6"/><circle cx="430.2" cy="506.0" r="1.6"/><circle cx="430.4" cy="503.8" r="1.6"/><circle cx="430.6" cy="498.7" r="1.6"/><circle cx="430.8" cy="495.9" r="1.6"/><circle cx="431.2" cy="497.2" r="1.6"/><circle cx="431.5" cy="506.0" r="1.6"/><circle cx="431.9" cy="491.6" r="1.6"/><circle cx="432.3" cy="494.7" r="1.6"/><circle cx="432.7" cy="503.8" r="1.6"/><circle cx="432.9" cy="497.2" r="1.6"/><circle cx="433.1" cy="503.8" r="1.6"/><circle cx="433.5" cy="500.2" r="1.6"/><circle cx="433.7" cy="497.2" r="1.6"/><circle cx="433.9" cy="511.4" r="1.6"/><circle cx="434.1" cy="494.7" r="1.6"/><circle cx="434.3" cy="494.7" r="1.6"/><circle cx="434.6" cy="495.9" r="1.6"/><circle cx="434.8" cy="494.7" r="1.6"/><circle cx="435.0" cy="494.7" r="1.6"/><circle cx="435.2" cy="500.2" r="1.6"/><circle cx="435.4" cy="495.9" r="1.6"/><circle cx="435.8" cy="511.4" r="1.6"/><circle cx="436.2" cy="495.9" r="1.6"/><circle cx="436.4" cy="503.8" r="1.6"/><circle cx="436.6" cy="497.2" r="1.6"/><circle cx="437.0" cy="497.2" r="1.6"/><circle cx="437.4" cy="497.2" r="1.6"/><circle cx="437.7" cy="497.2" r="1.6"/><circle cx="437.9" cy="500.2" r="1.6"/><circle cx="438.1" cy="495.9" r="1.6"/><circle cx="438.3" cy="495.9" r="1.6"/><circle cx="438.5" cy="497.2" r="1.6"/><circle cx="438.7" cy="500.2" r="1.6"/><circle cx="438.9" cy="495.9" r="1.6"/><circle cx="439.1" cy="495.9" r="1.6"/><circle cx="439.3" cy="500.2" r="1.6"/><circle cx="439.5" cy="500.2" r="1.6"/><circle cx="439.7" cy="495.9" r="1.6"/><circle cx="439.9" cy="495.9" r="1.6"/><circle cx="440.1" cy="494.7" r="1.6"/><circle cx="440.3" cy="506.0" r="1.6"/><circle cx="440.5" cy="501.9" r="1.6"/><circle cx="440.6" cy="493.6" r="1.6"/><circle cx="440.8" cy="494.7" r="1.6"/><circle cx="441.2" cy="495.9" r="1.6"/><circle cx="441.4" cy="501.9" r="1.6"/><circle cx="441.6" cy="495.9" r="1.6"/><circle cx="441.8" cy="493.6" r="1.6"/><circle cx="442.0" cy="500.2" r="1.6"/><circle cx="442.2" cy="501.9" r="1.6"/><circle cx="442.4" cy="503.8" r="1.6"/><circle cx="442.6" cy="501.9" r="1.6"/><circle cx="442.8" cy="498.7" r="1.6"/><circle cx="443.2" cy="511.4" r="1.6"/><circle cx="443.4" cy="498.7" r="1.6"/><circle cx="443.6" cy="511.4" r="1.6"/><circle cx="443.7" cy="503.8" r="1.6"/><circle cx="443.9" cy="495.9" r="1.6"/><circle cx="444.1" cy="497.2" r="1.6"/><circle cx="444.3" cy="489.0" r="1.6"/><circle cx="444.5" cy="494.7" r="1.6"/><circle cx="444.7" cy="501.9" r="1.6"/><circle cx="444.9" cy="498.7" r="1.6"/><circle cx="445.1" cy="494.7" r="1.6"/><circle cx="445.3" cy="506.0" r="1.6"/><circle cx="445.5" cy="490.7" r="1.6"/><circle cx="445.7" cy="493.6" r="1.6"/><circle cx="445.9" cy="500.2" r="1.6"/><circle cx="446.3" cy="498.7" r="1.6"/><circle cx="446.7" cy="495.9" r="1.6"/><circle cx="446.8" cy="487.4" r="1.6"/><circle cx="447.0" cy="494.7" r="1.6"/><circle cx="447.4" cy="500.2" r="1.6"/><circle cx="447.8" cy="501.9" r="1.6"/><circle cx="448.0" cy="500.2" r="1.6"/><circle cx="448.2" cy="493.6" r="1.6"/><circle cx="448.4" cy="503.8" r="1.6"/><circle cx="448.6" cy="494.7" r="1.6"/><circle cx="449.0" cy="493.6" r="1.6"/><circle cx="449.2" cy="506.0" r="1.6"/><circle cx="449.4" cy="490.7" r="1.6"/><circle cx="449.6" cy="493.6" r="1.6"/><circle cx="449.7" cy="497.2" r="1.6"/><circle cx="449.9" cy="488.2" r="1.6"/><circle cx="450.1" cy="511.4" r="1.6"/><circle cx="450.3" cy="501.9" r="1.6"/><circle cx="450.5" cy="508.5" r="1.6"/><circle cx="450.7" cy="501.9" r="1.6"/><circle cx="450.9" cy="490.7" r="1.6"/><circle cx="451.3" cy="508.5" r="1.6"/><circle cx="451.7" cy="503.8" r="1.6"/><circle cx="451.9" cy="494.7" r="1.6"/><circle cx="452.1" cy="490.7" r="1.6"/><circle cx="452.3" cy="500.2" r="1.6"/><circle cx="452.5" cy="500.2" r="1.6"/><circle cx="452.7" cy="498.7" r="1.6"/><circle cx="452.8" cy="490.7" r="1.6"/><circle cx="453.0" cy="493.6" r="1.6"/><circle cx="453.2" cy="501.9" r="1.6"/><circle cx="453.6" cy="493.6" r="1.6"/><circle cx="453.8" cy="498.7" r="1.6"/><circle cx="454.0" cy="492.6" r="1.6"/><circle cx="454.4" cy="495.9" r="1.6"/><circle cx="454.6" cy="501.9" r="1.6"/><circle cx="454.8" cy="498.7" r="1.6"/><circle cx="455.2" cy="491.6" r="1.6"/><circle cx="455.4" cy="503.8" r="1.6"/><circle cx="455.6" cy="500.2" r="1.6"/><circle cx="455.9" cy="501.9" r="1.6"/><circle cx="456.1" cy="497.2" r="1.6"/><circle cx="456.3" cy="503.8" r="1.6"/><circle cx="456.5" cy="493.6" r="1.6"/><circle cx="456.7" cy="493.6" r="1.6"/><circle cx="456.9" cy="491.6" r="1.6"/><circle cx="457.1" cy="497.2" r="1.6"/><circle cx="457.3" cy="491.6" r="1.6"/><circle cx="457.5" cy="501.9" r="1.6"/><circle cx="457.9" cy="501.9" r="1.6"/><circle cx="458.3" cy="490.7" r="1.6"/><circle cx="458.7" cy="494.7" r="1.6"/><circle cx="458.8" cy="497.2" r="1.6"/><circle cx="459.0" cy="495.9" r="1.6"/><circle cx="459.4" cy="498.7" r="1.6"/><circle cx="459.6" cy="498.7" r="1.6"/><circle cx="459.8" cy="492.6" r="1.6"/><circle cx="460.0" cy="489.8" r="1.6"/><circle cx="460.2" cy="498.7" r="1.6"/><circle cx="460.4" cy="501.9" r="1.6"/><circle cx="460.6" cy="500.2" r="1.6"/><circle cx="461.0" cy="491.6" r="1.6"/><circle cx="461.2" cy="497.2" r="1.6"/><circle cx="461.4" cy="494.7" r="1.6"/><circle cx="461.6" cy="494.7" r="1.6"/><circle cx="461.8" cy="489.8" r="1.6"/><circle cx="462.1" cy="501.9" r="1.6"/><circle cx="462.5" cy="501.9" r="1.6"/><circle cx="462.7" cy="497.2" r="1.6"/><circle cx="462.9" cy="498.7" r="1.6"/><circle cx="463.1" cy="494.7" r="1.6"/><circle cx="463.3" cy="494.7" r="1.6"/><circle cx="463.5" cy="511.4" r="1.6"/><circle cx="287.2" cy="485.4" r="1.6"/><circle cx="287.2" cy="475.8" r="1.6"/><circle cx="287.2" cy="464.6" r="1.6"/><circle cx="287.2" cy="449.4" r="1.6"/><circle cx="287.2" cy="443.6" r="1.6"/><circle cx="287.2" cy="436.2" r="1.6"/><circle cx="287.2" cy="430.9" r="1.6"/><circle cx="287.2" cy="426.4" r="1.6"/><circle cx="287.2" cy="418.5" r="1.6"/><circle cx="287.2" cy="410.8" r="1.6"/><circle cx="287.2" cy="407.8" r="1.6"/><circle cx="287.2" cy="402.4" r="1.6"/><circle cx="287.2" cy="395.3" r="1.6"/></g>
<rect x="269.40" y="385.40" width="194.80" height="152.20" fill="none" stroke="#000" stroke-width="1.3"/>
<line x1="266.40" y1="537.50" x2="269.40" y2="537.50" stroke="#000" stroke-width="1.0" />
<text x="264.20" y="540.80" font-size="9.6" text-anchor="end" font-weight="bold" fill="#000" >1</text>
<line x1="266.40" y1="500.20" x2="269.40" y2="500.20" stroke="#000" stroke-width="1.0" />
<text x="264.20" y="503.50" font-size="9.6" text-anchor="end" font-weight="bold" fill="#000" >10</text>
<line x1="266.40" y1="462.90" x2="269.40" y2="462.90" stroke="#000" stroke-width="1.0" />
<text x="264.20" y="466.20" font-size="9.6" text-anchor="end" font-weight="bold" fill="#000" >100</text>
<line x1="266.40" y1="425.60" x2="269.40" y2="425.60" stroke="#000" stroke-width="1.0" />
<text x="264.20" y="428.90" font-size="9.6" text-anchor="end" font-weight="bold" fill="#000" >1000</text>
<line x1="266.40" y1="388.30" x2="269.40" y2="388.30" stroke="#000" stroke-width="1.0" />
<text x="264.20" y="391.60" font-size="9.6" text-anchor="end" font-weight="bold" fill="#000" >10000</text>
<line x1="267.60" y1="526.27" x2="269.40" y2="526.27" stroke="#000" stroke-width="1.0" />
<line x1="267.60" y1="519.70" x2="269.40" y2="519.70" stroke="#000" stroke-width="1.0" />
<line x1="267.60" y1="515.04" x2="269.40" y2="515.04" stroke="#000" stroke-width="1.0" />
<line x1="267.60" y1="511.43" x2="269.40" y2="511.43" stroke="#000" stroke-width="1.0" />
<line x1="267.60" y1="508.47" x2="269.40" y2="508.47" stroke="#000" stroke-width="1.0" />
<line x1="267.60" y1="505.98" x2="269.40" y2="505.98" stroke="#000" stroke-width="1.0" />
<line x1="267.60" y1="503.81" x2="269.40" y2="503.81" stroke="#000" stroke-width="1.0" />
<line x1="267.60" y1="501.91" x2="269.40" y2="501.91" stroke="#000" stroke-width="1.0" />
<line x1="267.60" y1="488.97" x2="269.40" y2="488.97" stroke="#000" stroke-width="1.0" />
<line x1="267.60" y1="482.40" x2="269.40" y2="482.40" stroke="#000" stroke-width="1.0" />
<line x1="267.60" y1="477.74" x2="269.40" y2="477.74" stroke="#000" stroke-width="1.0" />
<line x1="267.60" y1="474.13" x2="269.40" y2="474.13" stroke="#000" stroke-width="1.0" />
<line x1="267.60" y1="471.17" x2="269.40" y2="471.17" stroke="#000" stroke-width="1.0" />
<line x1="267.60" y1="468.68" x2="269.40" y2="468.68" stroke="#000" stroke-width="1.0" />
<line x1="267.60" y1="466.51" x2="269.40" y2="466.51" stroke="#000" stroke-width="1.0" />
<line x1="267.60" y1="464.61" x2="269.40" y2="464.61" stroke="#000" stroke-width="1.0" />
<line x1="267.60" y1="451.67" x2="269.40" y2="451.67" stroke="#000" stroke-width="1.0" />
<line x1="267.60" y1="445.10" x2="269.40" y2="445.10" stroke="#000" stroke-width="1.0" />
<line x1="267.60" y1="440.44" x2="269.40" y2="440.44" stroke="#000" stroke-width="1.0" />
<line x1="267.60" y1="436.83" x2="269.40" y2="436.83" stroke="#000" stroke-width="1.0" />
<line x1="267.60" y1="433.87" x2="269.40" y2="433.87" stroke="#000" stroke-width="1.0" />
<line x1="267.60" y1="431.38" x2="269.40" y2="431.38" stroke="#000" stroke-width="1.0" />
<line x1="267.60" y1="429.21" x2="269.40" y2="429.21" stroke="#000" stroke-width="1.0" />
<line x1="267.60" y1="427.31" x2="269.40" y2="427.31" stroke="#000" stroke-width="1.0" />
<line x1="267.60" y1="414.37" x2="269.40" y2="414.37" stroke="#000" stroke-width="1.0" />
<line x1="267.60" y1="407.80" x2="269.40" y2="407.80" stroke="#000" stroke-width="1.0" />
<line x1="267.60" y1="403.14" x2="269.40" y2="403.14" stroke="#000" stroke-width="1.0" />
<line x1="267.60" y1="399.53" x2="269.40" y2="399.53" stroke="#000" stroke-width="1.0" />
<line x1="267.60" y1="396.57" x2="269.40" y2="396.57" stroke="#000" stroke-width="1.0" />
<line x1="267.60" y1="394.08" x2="269.40" y2="394.08" stroke="#000" stroke-width="1.0" />
<line x1="267.60" y1="391.91" x2="269.40" y2="391.91" stroke="#000" stroke-width="1.0" />
<line x1="267.60" y1="390.01" x2="269.40" y2="390.01" stroke="#000" stroke-width="1.0" />
<line x1="269.70" y1="537.60" x2="269.70" y2="540.60" stroke="#000" stroke-width="1.0" />
<text x="269.70" y="551.10" font-size="10.2" text-anchor="middle" font-weight="bold" fill="#000" >0</text>
<line x1="308.42" y1="537.60" x2="308.42" y2="540.60" stroke="#000" stroke-width="1.0" />
<text x="308.42" y="551.10" font-size="10.2" text-anchor="middle" font-weight="bold" fill="#000" >10</text>
<line x1="347.14" y1="537.60" x2="347.14" y2="540.60" stroke="#000" stroke-width="1.0" />
<text x="347.14" y="551.10" font-size="10.2" text-anchor="middle" font-weight="bold" fill="#000" >20</text>
<line x1="385.86" y1="537.60" x2="385.86" y2="540.60" stroke="#000" stroke-width="1.0" />
<text x="385.86" y="551.10" font-size="10.2" text-anchor="middle" font-weight="bold" fill="#000" >30</text>
<line x1="424.58" y1="537.60" x2="424.58" y2="540.60" stroke="#000" stroke-width="1.0" />
<text x="424.58" y="551.10" font-size="10.2" text-anchor="middle" font-weight="bold" fill="#000" >40</text>
<line x1="463.30" y1="537.60" x2="463.30" y2="540.60" stroke="#000" stroke-width="1.0" />
<text x="463.30" y="551.10" font-size="10.2" text-anchor="middle" font-weight="bold" fill="#000" >50</text>
<line x1="289.06" y1="537.60" x2="289.06" y2="539.60" stroke="#000" stroke-width="1.0" />
<line x1="327.78" y1="537.60" x2="327.78" y2="539.60" stroke="#000" stroke-width="1.0" />
<line x1="366.50" y1="537.60" x2="366.50" y2="539.60" stroke="#000" stroke-width="1.0" />
<line x1="405.22" y1="537.60" x2="405.22" y2="539.60" stroke="#000" stroke-width="1.0" />
<line x1="443.94" y1="537.60" x2="443.94" y2="539.60" stroke="#000" stroke-width="1.0" />
<text x="242.70" y="375.30" font-size="13.5" text-anchor="start" font-weight="bold" fill="#000" >g</text>
<text x="345.90" y="416.60" font-size="12.2" text-anchor="middle" font-weight="bold" fill="#b80c14" >NTL</text>
<text x="403.80" y="427.60" font-size="12" text-anchor="start" font-weight="bold" fill="#48b8e6" >D-NTL/TO</text>
<text x="313.00" y="434.90" font-size="8.9" text-anchor="start" font-weight="bold" fill="#e8201c" >τ<tspan font-size="6.3" dy="2">1</tspan><tspan dy="-2"> = 0.35 ns (54.50%)</tspan></text>
<text x="313.00" y="448.40" font-size="8.9" text-anchor="start" font-weight="bold" fill="#e8201c" >τ<tspan font-size="6.3" dy="2">2</tspan><tspan dy="-2"> = 1.10 ns</tspan></text>
<text x="313.00" y="461.60" font-size="8.9" text-anchor="start" font-weight="bold" fill="#e8201c" >τ = 0.69 ns</text>
<text x="376.20" y="447.70" font-size="8.9" text-anchor="start" font-weight="bold" fill="#3cb0e6" >τ<tspan font-size="6.3" dy="2">1</tspan><tspan dy="-2"> = 0.49 ns (39.51%)</tspan></text>
<text x="376.20" y="461.20" font-size="8.9" text-anchor="start" font-weight="bold" fill="#3cb0e6" >τ<tspan font-size="6.3" dy="2">2</tspan><tspan dy="-2"> = 2.36 ns</tspan></text>
<text x="376.20" y="474.00" font-size="8.9" text-anchor="start" font-weight="bold" fill="#3cb0e6" >τ = 1.62 ns</text>
<line x1="311.7" y1="482.4" x2="320.5" y2="467.5" stroke="#e8201c" stroke-width="1.1"/><path d="M317.6,467.4 L321.9,465.2 L321.6,470 Z" fill="#e8201c"/>
<line x1="381.1" y1="493.3" x2="387.5" y2="479.8" stroke="#3cb0e6" stroke-width="1.1"/><path d="M384.8,479.6 L388.4,477.6 L388.9,481.7 Z" fill="#3cb0e6"/>
<text x="242.80" y="472.00" font-size="13.1" text-anchor="middle" font-weight="bold" transform="rotate(-90 242.80 472.00)">Count (cps)</text>
<text x="364.00" y="563.60" font-size="12.9" text-anchor="middle" font-weight="bold" fill="#000" >Time (ns)</text>
<rect x="531" y="484.8" width="35.7" height="52.8" fill="#e81e0a"/>
<rect x="620.8" y="402" width="36.1" height="135.6" fill="#40b0e4"/>
<line x1="514.50" y1="402.00" x2="672.60" y2="402.00" stroke="#2860b0" stroke-width="1.3" stroke-dasharray="1.3,1"/>
<text x="523.00" y="398.30" font-size="9" text-anchor="start" font-weight="bold" fill="#000" >2.58 times</text>
<line x1="549.20" y1="481.60" x2="549.20" y2="410.00" stroke="#1f5cb0" stroke-width="1.3" />
<path d="M546.3,412 L549.2,404.6 L552.1,412 Z" fill="#1f5cb0"/>
<rect x="503.90" y="384.80" width="178.90" height="152.80" fill="none" stroke="#000" stroke-width="1.3"/>
<line x1="500.90" y1="537.50" x2="503.90" y2="537.50" stroke="#000" stroke-width="1.0" />
<text x="498.70" y="540.30" font-size="9.6" text-anchor="end" font-weight="bold" fill="#000" >0</text>
<line x1="500.90" y1="484.80" x2="503.90" y2="484.80" stroke="#000" stroke-width="1.0" />
<text x="498.70" y="487.60" font-size="9.6" text-anchor="end" font-weight="bold" fill="#000" >1</text>
<line x1="500.90" y1="432.10" x2="503.90" y2="432.10" stroke="#000" stroke-width="1.0" />
<text x="498.70" y="434.90" font-size="9.6" text-anchor="end" font-weight="bold" fill="#000" >2</text>
<line x1="501.90" y1="511.15" x2="503.90" y2="511.15" stroke="#000" stroke-width="1.0" />
<line x1="501.90" y1="458.45" x2="503.90" y2="458.45" stroke="#000" stroke-width="1.0" />
<line x1="501.90" y1="405.75" x2="503.90" y2="405.75" stroke="#000" stroke-width="1.0" />
<line x1="503.90" y1="537.60" x2="503.90" y2="540.10" stroke="#000" stroke-width="1.0" />
<line x1="548.90" y1="537.60" x2="548.90" y2="540.20" stroke="#000" stroke-width="1.0" />
<line x1="593.70" y1="537.60" x2="593.70" y2="540.20" stroke="#000" stroke-width="1.0" />
<line x1="638.80" y1="537.60" x2="638.80" y2="540.20" stroke="#000" stroke-width="1.0" />
<text x="548.4" y="560.8" font-size="11" text-anchor="middle" font-weight="bold" textLength="22.9" lengthAdjust="spacingAndGlyphs">NTL</text>
<text x="643.3" y="560.8" font-size="11" text-anchor="middle" font-weight="bold" textLength="54.7" lengthAdjust="spacingAndGlyphs">D-NTL/TO</text>
<text x="486.10" y="383.70" font-size="13.5" text-anchor="start" font-weight="bold" fill="#000" >h</text>
<text x="486.8" y="465.7" font-size="11" text-anchor="middle" font-weight="bold" textLength="135" lengthAdjust="spacingAndGlyphs" transform="rotate(-90 486.8 465.7)">IEF intensity (arb.units)</text>
</svg></body></html>
